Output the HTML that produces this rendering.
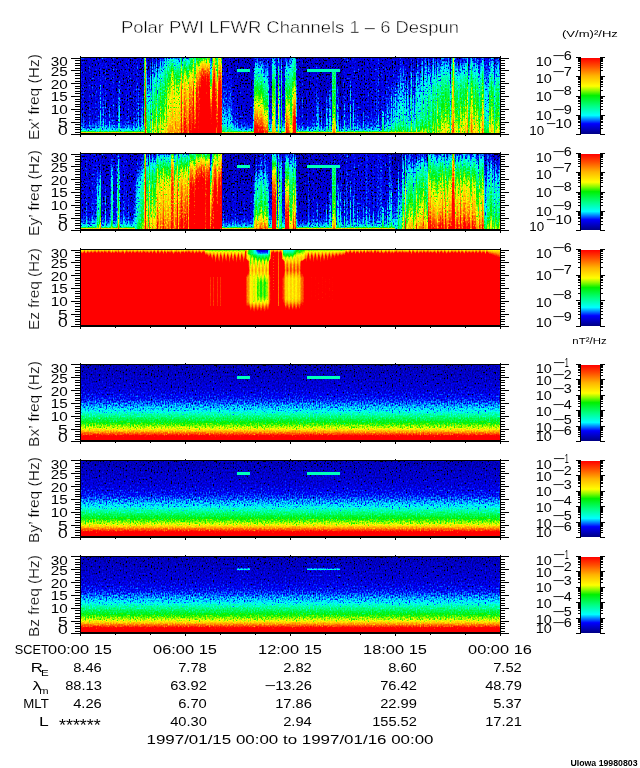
<!DOCTYPE html>
<html><head><meta charset="utf-8"><title>Polar PWI LFWR Channels 1 - 6 Despun</title>
<style>
html,body{margin:0;padding:0;background:#fff}
#pg{position:relative;width:640px;height:768px;overflow:hidden;background:#fff;font-family:"Liberation Sans",sans-serif}
.pn{position:absolute;display:flex;filter:url(#cm);overflow:hidden}
.pn.q{filter:url(#cq)}
.pn.b{filter:url(#cf)}
.pn i{display:block;flex:none;width:1px;height:100%}
#ov{position:absolute;left:0;top:0}
#ov text{font-family:"Liberation Sans",sans-serif;fill:#000}
#ov rect{shape-rendering:crispEdges}
</style></head><body><div id="pg">
<svg width="0" height="0" style="position:absolute"><defs>
<filter id="cm" x="0" y="0" width="1" height="1" color-interpolation-filters="sRGB">
<feColorMatrix in="SourceGraphic" type="matrix" values="0.941176 0.0588235 0 0 0 0.941176 0.0588235 0 0 0 0.941176 0.0588235 0 0 0 0 0 0 0 1" result="g"/>
<feTurbulence type="fractalNoise" baseFrequency="0.71 0.55" numOctaves="1" seed="5" result="n"/>
<feColorMatrix in="n" type="matrix" values="1 0 0 0 0 1 0 0 0 0 1 0 0 0 0 0 0 0 0 1"/>
<feComponentTransfer result="n1"><feFuncR type="table" tableValues="0.297 0.298 0.299 0.299 0.300 0.300 0.301 0.302 0.302 0.303 0.303 0.304 0.305 0.305 0.306 0.307 0.309 0.311 0.323 0.425 0.444 0.463 0.472 0.481 0.491 0.500 0.506 0.512 0.518 0.524 0.530 0.537 0.545 0.552 0.560 0.568 0.583 0.598 0.614 0.632 0.650 0.656 0.662 0.668 0.674 0.680 0.686 0.692 0.698 0.704 0.710"/><feFuncG type="table" tableValues="0.297 0.298 0.299 0.299 0.300 0.300 0.301 0.302 0.302 0.303 0.303 0.304 0.305 0.305 0.306 0.307 0.309 0.311 0.323 0.425 0.444 0.463 0.472 0.481 0.491 0.500 0.506 0.512 0.518 0.524 0.530 0.537 0.545 0.552 0.560 0.568 0.583 0.598 0.614 0.632 0.650 0.656 0.662 0.668 0.674 0.680 0.686 0.692 0.698 0.704 0.710"/><feFuncB type="table" tableValues="0.297 0.298 0.299 0.299 0.300 0.300 0.301 0.302 0.302 0.303 0.303 0.304 0.305 0.305 0.306 0.307 0.309 0.311 0.323 0.425 0.444 0.463 0.472 0.481 0.491 0.500 0.506 0.512 0.518 0.524 0.530 0.537 0.545 0.552 0.560 0.568 0.583 0.598 0.614 0.632 0.650 0.656 0.662 0.668 0.674 0.680 0.686 0.692 0.698 0.704 0.710"/></feComponentTransfer>
<feComposite in="g" in2="n1" operator="arithmetic" k1="0" k2="1" k3="0.4000" k4="-0.2000" result="s"/>
<feComponentTransfer in="s"><feFuncR type="table" tableValues="0 0 0 0 0 0 0 0 0 0 0 0 0 0 0 0 0 0 0 0 0 0 0 0 0 0 0 0 0 0 0 0 0 0 0 0 0 0 0 0 0 0 0 0 0 0 0 0 0 0 0 0 0 0 0 0 0 0 0 0 0 0 0 0 0 0 0 0 0 0 0 0 0 0 0 0 0 0 0 0 0 0 0 0 0 0 0 0 0 0 0 0 0 0 0 0 0 0 0 0 0 0 0 0 0 0 0 0 0 0.0164 0.0751 0.134 0.192 0.251 0.31 0.368 0.427 0.486 0.544 0.597 0.649 0.701 0.754 0.806 0.858 0.91 0.962 1 1 1 1 1 1 1 1 1 1 1 1 1 1 1 1 1 1 1 1 1 1 1 1 1 1 1 1 1 1 1 1 1 1 1 1 1 1 1 1 1 1 1 1 1 1 1 1 1 1 1 1 1 1 1 1 1 1 1 1 1 1 1 1 1 1 1 1 1 1 1 1 1 1 1 1 1 1 1 1 1 1 1 1 1 1 1 1 1 1 1 1 1 1 1 1 1 1 1 1 1 1 1 1 1 1 1 1 1 1 1 1 1 1"/><feFuncG type="table" tableValues="0 0 0 0 0 0 0 0 0 0 0 0 0 0 0 0 0 0 0 0 0 0 0 0 0 0 0 0 0 0 0 0 0 0 0 0 0 0 0 0 0 0 0 0 0 0 0 0 0 0 0 0 0 0 0 0 0.0352 0.098 0.161 0.224 0.287 0.349 0.412 0.475 0.538 0.601 0.664 0.728 0.792 0.855 0.919 0.982 1 1 1 1 1 1 1 1 1 1 1 1 1 1 1 1 1 1 0.998 0.995 0.992 0.989 0.986 0.983 0.98 0.977 0.974 0.971 0.968 0.965 0.962 0.958 0.955 0.952 0.949 0.946 0.943 0.942 0.947 0.951 0.955 0.959 0.963 0.967 0.972 0.976 0.98 0.982 0.985 0.987 0.989 0.992 0.994 0.996 0.998 0.996 0.981 0.966 0.951 0.936 0.921 0.906 0.891 0.876 0.861 0.846 0.831 0.816 0.801 0.786 0.771 0.756 0.74 0.725 0.71 0.691 0.669 0.647 0.625 0.603 0.581 0.559 0.537 0.515 0.493 0.471 0.449 0.427 0.405 0.383 0.361 0.339 0.317 0.297 0.277 0.257 0.238 0.218 0.198 0.178 0.158 0.139 0.119 0.099 0.0792 0.0594 0.0396 0.0198 0 0 0 0 0 0 0 0 0 0 0 0 0 0 0 0 0 0 0 0 0 0 0 0 0 0 0 0 0 0 0 0 0 0 0 0 0 0 0 0 0 0 0 0 0 0 0 0 0 0 0 0 0 0 0 0 0 0 0 0 0"/><feFuncB type="table" tableValues="0 0 0 0 0 0 0 0 0 0 0 0 0 0 0 0 0 0 0 0 0 0 0 0 0 0 0 0 0 0 0 0 0 0 0 0.514 0.514 0.539 0.564 0.589 0.614 0.639 0.664 0.689 0.714 0.739 0.764 0.789 0.814 0.839 0.864 0.889 0.914 0.939 0.964 0.989 1 1 1 1 1 1 1 1 1 1 1 1 1 1 1 1 0.98 0.953 0.926 0.899 0.871 0.844 0.817 0.79 0.763 0.735 0.708 0.681 0.654 0.626 0.599 0.572 0.545 0.517 0.491 0.465 0.438 0.412 0.386 0.36 0.334 0.307 0.281 0.255 0.229 0.202 0.176 0.15 0.124 0.0976 0.0713 0.0451 0.0189 0 0 0 0 0 0 0 0 0 0 0 0 0 0 0 0 0 0 0 0 0 0 0 0 0 0 0 0 0 0 0 0 0 0 0 0 0 0 0 0 0 0 0 0 0 0 0 0 0 0 0 0 0 0 0 0 0 0 0 0 0 0 0 0 0 0 0 0 0 0 0 0 0 0 0 0 0 0 0 0 0 0 0 0 0 0 0 0 0 0 0 0 0 0 0 0 0 0 0 0 0 0 0 0 0 0 0 0 0 0 0 0 0 0 0 0 0 0 0 0 0 0 0 0 0 0 0 0 0 0 0 0"/></feComponentTransfer>
</filter>
<filter id="cf" x="0" y="0" width="1" height="1" color-interpolation-filters="sRGB">
<feColorMatrix in="SourceGraphic" type="matrix" values="0.941176 0.0588235 0 0 0 0.941176 0.0588235 0 0 0 0.941176 0.0588235 0 0 0 0 0 0 0 1" result="g"/>
<feTurbulence type="fractalNoise" baseFrequency="0.71 0.55" numOctaves="1" seed="8" result="n"/>
<feColorMatrix in="n" type="matrix" values="1 0 0 0 0 1 0 0 0 0 1 0 0 0 0 0 0 0 0 1"/>
<feComponentTransfer result="n1"><feFuncR type="table" tableValues="0.000 0.000 0.000 0.000 0.000 0.000 0.000 0.000 0.015 0.045 0.075 0.115 0.155 0.195 0.235 0.275 0.310 0.345 0.374 0.397 0.420 0.437 0.454 0.470 0.485 0.500 0.513 0.526 0.539 0.552 0.565 0.577 0.589 0.601 0.613 0.625 0.635 0.645 0.655 0.665 0.675 0.685 0.695 0.703 0.710 0.717 0.723 0.730 0.737 0.743 0.750"/><feFuncG type="table" tableValues="0.000 0.000 0.000 0.000 0.000 0.000 0.000 0.000 0.015 0.045 0.075 0.115 0.155 0.195 0.235 0.275 0.310 0.345 0.374 0.397 0.420 0.437 0.454 0.470 0.485 0.500 0.513 0.526 0.539 0.552 0.565 0.577 0.589 0.601 0.613 0.625 0.635 0.645 0.655 0.665 0.675 0.685 0.695 0.703 0.710 0.717 0.723 0.730 0.737 0.743 0.750"/><feFuncB type="table" tableValues="0.000 0.000 0.000 0.000 0.000 0.000 0.000 0.000 0.015 0.045 0.075 0.115 0.155 0.195 0.235 0.275 0.310 0.345 0.374 0.397 0.420 0.437 0.454 0.470 0.485 0.500 0.513 0.526 0.539 0.552 0.565 0.577 0.589 0.601 0.613 0.625 0.635 0.645 0.655 0.665 0.675 0.685 0.695 0.703 0.710 0.717 0.723 0.730 0.737 0.743 0.750"/></feComponentTransfer>
<feComposite in="g" in2="n1" operator="arithmetic" k1="0" k2="1" k3="0.2400" k4="-0.1200" result="s"/>
<feComponentTransfer in="s"><feFuncR type="table" tableValues="0 0 0 0 0 0 0 0 0 0 0 0 0 0 0 0 0 0 0 0 0 0 0 0 0 0 0 0 0 0 0 0 0 0 0 0 0 0 0 0 0 0 0 0 0 0 0 0 0 0 0 0 0 0 0 0 0 0 0 0 0 0 0 0 0 0 0 0 0 0 0 0 0 0 0 0 0 0 0 0 0 0 0 0 0 0 0 0 0 0 0 0 0 0 0 0 0 0 0 0 0 0 0 0 0 0 0 0 0 0.0164 0.0751 0.134 0.192 0.251 0.31 0.368 0.427 0.486 0.544 0.597 0.649 0.701 0.754 0.806 0.858 0.91 0.962 1 1 1 1 1 1 1 1 1 1 1 1 1 1 1 1 1 1 1 1 1 1 1 1 1 1 1 1 1 1 1 1 1 1 1 1 1 1 1 1 1 1 1 1 1 1 1 1 1 1 1 1 1 1 1 1 1 1 1 1 1 1 1 1 1 1 1 1 1 1 1 1 1 1 1 1 1 1 1 1 1 1 1 1 1 1 1 1 1 1 1 1 1 1 1 1 1 1 1 1 1 1 1 1 1 1 1 1 1 1 1 1 1 1"/><feFuncG type="table" tableValues="0 0 0 0 0 0 0 0 0 0 0 0 0 0 0 0 0 0 0 0 0 0 0 0 0 0 0 0 0 0 0 0 0 0 0 0 0 0 0 0 0 0 0 0 0 0 0 0 0 0 0 0 0 0 0 0 0.0352 0.098 0.161 0.224 0.287 0.349 0.412 0.475 0.538 0.601 0.664 0.728 0.792 0.855 0.919 0.982 1 1 1 1 1 1 1 1 1 1 1 1 1 1 1 1 1 1 0.998 0.995 0.992 0.989 0.986 0.983 0.98 0.977 0.974 0.971 0.968 0.965 0.962 0.958 0.955 0.952 0.949 0.946 0.943 0.942 0.947 0.951 0.955 0.959 0.963 0.967 0.972 0.976 0.98 0.982 0.985 0.987 0.989 0.992 0.994 0.996 0.998 0.996 0.981 0.966 0.951 0.936 0.921 0.906 0.891 0.876 0.861 0.846 0.831 0.816 0.801 0.786 0.771 0.756 0.74 0.725 0.71 0.691 0.669 0.647 0.625 0.603 0.581 0.559 0.537 0.515 0.493 0.471 0.449 0.427 0.405 0.383 0.361 0.339 0.317 0.297 0.277 0.257 0.238 0.218 0.198 0.178 0.158 0.139 0.119 0.099 0.0792 0.0594 0.0396 0.0198 0 0 0 0 0 0 0 0 0 0 0 0 0 0 0 0 0 0 0 0 0 0 0 0 0 0 0 0 0 0 0 0 0 0 0 0 0 0 0 0 0 0 0 0 0 0 0 0 0 0 0 0 0 0 0 0 0 0 0 0 0"/><feFuncB type="table" tableValues="0 0 0 0 0 0 0 0 0 0 0 0 0 0 0 0 0 0 0 0 0 0 0 0 0 0 0 0 0 0 0 0 0 0 0 0.514 0.514 0.539 0.564 0.589 0.614 0.639 0.664 0.689 0.714 0.739 0.764 0.789 0.814 0.839 0.864 0.889 0.914 0.939 0.964 0.989 1 1 1 1 1 1 1 1 1 1 1 1 1 1 1 1 0.98 0.953 0.926 0.899 0.871 0.844 0.817 0.79 0.763 0.735 0.708 0.681 0.654 0.626 0.599 0.572 0.545 0.517 0.491 0.465 0.438 0.412 0.386 0.36 0.334 0.307 0.281 0.255 0.229 0.202 0.176 0.15 0.124 0.0976 0.0713 0.0451 0.0189 0 0 0 0 0 0 0 0 0 0 0 0 0 0 0 0 0 0 0 0 0 0 0 0 0 0 0 0 0 0 0 0 0 0 0 0 0 0 0 0 0 0 0 0 0 0 0 0 0 0 0 0 0 0 0 0 0 0 0 0 0 0 0 0 0 0 0 0 0 0 0 0 0 0 0 0 0 0 0 0 0 0 0 0 0 0 0 0 0 0 0 0 0 0 0 0 0 0 0 0 0 0 0 0 0 0 0 0 0 0 0 0 0 0 0 0 0 0 0 0 0 0 0 0 0 0 0 0 0 0 0 0"/></feComponentTransfer>
</filter>
<filter id="cq" x="0" y="0" width="1" height="1" color-interpolation-filters="sRGB">
<feColorMatrix in="SourceGraphic" type="matrix" values="0.941176 0.0588235 0 0 0 0.941176 0.0588235 0 0 0 0.941176 0.0588235 0 0 0 0 0 0 0 1" result="g"/>
<feTurbulence type="fractalNoise" baseFrequency="0.71 0.55" numOctaves="1" seed="9" result="n"/>
<feColorMatrix in="n" type="matrix" values="1 0 0 0 0 1 0 0 0 0 1 0 0 0 0 0 0 0 0 1"/>
<feComponentTransfer result="n1"><feFuncR type="table" tableValues="0.000 0.000 0.000 0.000 0.000 0.000 0.000 0.000 0.015 0.045 0.075 0.115 0.155 0.195 0.235 0.275 0.310 0.345 0.374 0.397 0.420 0.437 0.454 0.470 0.485 0.500 0.513 0.526 0.539 0.552 0.565 0.577 0.589 0.601 0.613 0.625 0.635 0.645 0.655 0.665 0.675 0.685 0.695 0.703 0.710 0.717 0.723 0.730 0.737 0.743 0.750"/><feFuncG type="table" tableValues="0.000 0.000 0.000 0.000 0.000 0.000 0.000 0.000 0.015 0.045 0.075 0.115 0.155 0.195 0.235 0.275 0.310 0.345 0.374 0.397 0.420 0.437 0.454 0.470 0.485 0.500 0.513 0.526 0.539 0.552 0.565 0.577 0.589 0.601 0.613 0.625 0.635 0.645 0.655 0.665 0.675 0.685 0.695 0.703 0.710 0.717 0.723 0.730 0.737 0.743 0.750"/><feFuncB type="table" tableValues="0.000 0.000 0.000 0.000 0.000 0.000 0.000 0.000 0.015 0.045 0.075 0.115 0.155 0.195 0.235 0.275 0.310 0.345 0.374 0.397 0.420 0.437 0.454 0.470 0.485 0.500 0.513 0.526 0.539 0.552 0.565 0.577 0.589 0.601 0.613 0.625 0.635 0.645 0.655 0.665 0.675 0.685 0.695 0.703 0.710 0.717 0.723 0.730 0.737 0.743 0.750"/></feComponentTransfer>
<feComposite in="g" in2="n1" operator="arithmetic" k1="0" k2="1" k3="0.0720" k4="-0.0360" result="s"/>
<feComponentTransfer in="s"><feFuncR type="table" tableValues="0 0 0 0 0 0 0 0 0 0 0 0 0 0 0 0 0 0 0 0 0 0 0 0 0 0 0 0 0 0 0 0 0 0 0 0 0 0 0 0 0 0 0 0 0 0 0 0 0 0 0 0 0 0 0 0 0 0 0 0 0 0 0 0 0 0 0 0 0 0 0 0 0 0 0 0 0 0 0 0 0 0 0 0 0 0 0 0 0 0 0 0 0 0 0 0 0 0 0 0 0 0 0 0 0 0 0 0 0 0.0164 0.0751 0.134 0.192 0.251 0.31 0.368 0.427 0.486 0.544 0.597 0.649 0.701 0.754 0.806 0.858 0.91 0.962 1 1 1 1 1 1 1 1 1 1 1 1 1 1 1 1 1 1 1 1 1 1 1 1 1 1 1 1 1 1 1 1 1 1 1 1 1 1 1 1 1 1 1 1 1 1 1 1 1 1 1 1 1 1 1 1 1 1 1 1 1 1 1 1 1 1 1 1 1 1 1 1 1 1 1 1 1 1 1 1 1 1 1 1 1 1 1 1 1 1 1 1 1 1 1 1 1 1 1 1 1 1 1 1 1 1 1 1 1 1 1 1 1 1"/><feFuncG type="table" tableValues="0 0 0 0 0 0 0 0 0 0 0 0 0 0 0 0 0 0 0 0 0 0 0 0 0 0 0 0 0 0 0 0 0 0 0 0 0 0 0 0 0 0 0 0 0 0 0 0 0 0 0 0 0 0 0 0 0.0352 0.098 0.161 0.224 0.287 0.349 0.412 0.475 0.538 0.601 0.664 0.728 0.792 0.855 0.919 0.982 1 1 1 1 1 1 1 1 1 1 1 1 1 1 1 1 1 1 0.998 0.995 0.992 0.989 0.986 0.983 0.98 0.977 0.974 0.971 0.968 0.965 0.962 0.958 0.955 0.952 0.949 0.946 0.943 0.942 0.947 0.951 0.955 0.959 0.963 0.967 0.972 0.976 0.98 0.982 0.985 0.987 0.989 0.992 0.994 0.996 0.998 0.996 0.981 0.966 0.951 0.936 0.921 0.906 0.891 0.876 0.861 0.846 0.831 0.816 0.801 0.786 0.771 0.756 0.74 0.725 0.71 0.691 0.669 0.647 0.625 0.603 0.581 0.559 0.537 0.515 0.493 0.471 0.449 0.427 0.405 0.383 0.361 0.339 0.317 0.297 0.277 0.257 0.238 0.218 0.198 0.178 0.158 0.139 0.119 0.099 0.0792 0.0594 0.0396 0.0198 0 0 0 0 0 0 0 0 0 0 0 0 0 0 0 0 0 0 0 0 0 0 0 0 0 0 0 0 0 0 0 0 0 0 0 0 0 0 0 0 0 0 0 0 0 0 0 0 0 0 0 0 0 0 0 0 0 0 0 0 0"/><feFuncB type="table" tableValues="0 0 0 0 0 0 0 0 0 0 0 0 0 0 0 0 0 0 0 0 0 0 0 0 0 0 0 0 0 0 0 0 0 0 0 0.514 0.514 0.539 0.564 0.589 0.614 0.639 0.664 0.689 0.714 0.739 0.764 0.789 0.814 0.839 0.864 0.889 0.914 0.939 0.964 0.989 1 1 1 1 1 1 1 1 1 1 1 1 1 1 1 1 0.98 0.953 0.926 0.899 0.871 0.844 0.817 0.79 0.763 0.735 0.708 0.681 0.654 0.626 0.599 0.572 0.545 0.517 0.491 0.465 0.438 0.412 0.386 0.36 0.334 0.307 0.281 0.255 0.229 0.202 0.176 0.15 0.124 0.0976 0.0713 0.0451 0.0189 0 0 0 0 0 0 0 0 0 0 0 0 0 0 0 0 0 0 0 0 0 0 0 0 0 0 0 0 0 0 0 0 0 0 0 0 0 0 0 0 0 0 0 0 0 0 0 0 0 0 0 0 0 0 0 0 0 0 0 0 0 0 0 0 0 0 0 0 0 0 0 0 0 0 0 0 0 0 0 0 0 0 0 0 0 0 0 0 0 0 0 0 0 0 0 0 0 0 0 0 0 0 0 0 0 0 0 0 0 0 0 0 0 0 0 0 0 0 0 0 0 0 0 0 0 0 0 0 0 0 0 0"/></feComponentTransfer>
</filter>
</defs></svg>
<div class="pn" style="left:81px;top:58px;width:419px;height:76px"><i style="background:linear-gradient(#370 0.5px,#3a0 54.5px,#3b0 60.5px,#3f0 65.5px,#470 69.5px,#510 72.5px,#6b0 73.5px,#940 74.5px,#940 75.5px)"></i><i style="background:linear-gradient(#350 0.5px,#370 54.5px,#380 60.5px,#3c0 65.5px,#430 69.5px,#4e0 72.5px,#6b0 73.5px,#940 74.5px,#940 75.5px)"></i><i style="background:linear-gradient(#390 0.5px,#3d0 54.5px,#3e0 60.5px,#420 65.5px,#4a0 69.5px,#550 72.5px,#6b0 73.5px,#940 74.5px,#940 75.5px)"></i><i style="background:linear-gradient(#340 0.5px,#350 54.5px,#360 60.5px,#3a0 65.5px,#410 69.5px,#4c0 72.5px,#6b0 73.5px,#940 74.5px,#940 75.5px)"></i><i style="background:linear-gradient(#320 0.5px,#320 55.5px,#340 61.5px,#390 66.5px,#3f0 69.5px,#490 72.5px,#6b0 73.5px,#940 74.5px,#940 75.5px)"></i><i style="background:linear-gradient(#320 0.5px,#320 55.5px,#340 61.5px,#390 66.5px,#3e0 69.5px,#490 72.5px,#6b0 73.5px,#940 74.5px,#940 75.5px)"></i><i style="width:2px;background:linear-gradient(#330 0.5px,#340 54.5px,#350 60.5px,#390 65.5px,#400 69.5px,#4b0 72.5px,#6b0 73.5px,#940 74.5px,#940 75.5px)"></i><i style="background:linear-gradient(#390 0.5px,#3c0 54.5px,#3d0 60.5px,#420 65.5px,#490 69.5px,#540 72.5px,#6b0 73.5px,#940 74.5px,#940 75.5px)"></i><i style="background:linear-gradient(#360 0.5px,#380 54.5px,#390 60.5px,#3d0 65.5px,#440 69.5px,#4f0 72.5px,#6b0 73.5px,#940 74.5px,#940 75.5px)"></i><i style="background:linear-gradient(#330 0.5px,#340 54.5px,#350 60.5px,#390 65.5px,#400 69.5px,#4b0 72.5px,#6b0 73.5px,#940 74.5px,#940 75.5px)"></i><i style="background:linear-gradient(#370 0.5px,#3a0 54.5px,#3b0 60.5px,#3f0 65.5px,#470 69.5px,#520 72.5px,#6b0 73.5px,#940 74.5px,#940 75.5px)"></i><i style="background:linear-gradient(#350 0.5px,#360 54.5px,#380 60.5px,#3c0 65.5px,#430 69.5px,#4e0 72.5px,#6b0 73.5px,#940 74.5px,#940 75.5px)"></i><i style="background:linear-gradient(#330 0.5px,#340 54.5px,#350 60.5px,#390 65.5px,#400 69.5px,#4b0 72.5px,#6b0 73.5px,#940 74.5px,#940 75.5px)"></i><i style="background:linear-gradient(#370 0.5px,#390 54.5px,#3a0 60.5px,#3f0 65.5px,#460 69.5px,#510 72.5px,#6b0 73.5px,#940 74.5px,#940 75.5px)"></i><i style="background:linear-gradient(#370 0.5px,#3a0 54.5px,#3b0 60.5px,#3f0 65.5px,#460 69.5px,#510 72.5px,#6b0 73.5px,#940 74.5px,#940 75.5px)"></i><i style="background:linear-gradient(#350 0.5px,#370 54.5px,#380 60.5px,#3c0 65.5px,#430 69.5px,#4e0 72.5px,#6b0 73.5px,#940 74.5px,#940 75.5px)"></i><i style="background:linear-gradient(#380 0.5px,#3b0 54.5px,#3c0 60.5px,#410 65.5px,#480 69.5px,#530 72.5px,#6b0 73.5px,#940 74.5px,#940 75.5px)"></i><i style="background:linear-gradient(#360 0.5px,#390 54.5px,#3a0 60.5px,#3e0 65.5px,#450 69.5px,#500 72.5px,#6b0 73.5px,#940 74.5px,#940 75.5px)"></i><i style="background:linear-gradient(#390 0.5px,#3a0 26.5px,#420 27.5px,#420 28.5px,#4c0 58.5px,#510 64.5px,#5b0 69.5px,#6c0 73.5px,#940 74.5px,#940 75.5px)"></i><i style="background:linear-gradient(#370 0.5px,#3a0 54.5px,#3b0 60.5px,#3f0 65.5px,#470 69.5px,#510 72.5px,#6b0 73.5px,#940 74.5px,#940 75.5px)"></i><i style="background:linear-gradient(#390 0.5px,#3c0 54.5px,#3d0 60.5px,#420 65.5px,#490 69.5px,#540 72.5px,#6b0 73.5px,#940 74.5px,#940 75.5px)"></i><i style="background:linear-gradient(#360 0.5px,#380 37.5px,#3e0 38.5px,#3e0 39.5px,#470 60.5px,#4b0 64.5px,#540 69.5px,#5f0 72.5px,#6b0 73.5px,#940 74.5px,#940 75.5px)"></i><i style="background:linear-gradient(#340 0.5px,#350 54.5px,#360 60.5px,#3a0 65.5px,#410 69.5px,#4c0 72.5px,#6b0 73.5px,#940 74.5px,#940 75.5px)"></i><i style="background:linear-gradient(#3a0 0.5px,#3e0 54.5px,#3f0 60.5px,#430 65.5px,#4b0 69.5px,#560 72.5px,#6b0 73.5px,#940 74.5px,#940 75.5px)"></i><i style="background:linear-gradient(#350 0.5px,#370 54.5px,#380 60.5px,#3d0 65.5px,#440 69.5px,#4f0 72.5px,#6b0 73.5px,#940 74.5px,#940 75.5px)"></i><i style="background:linear-gradient(#350 0.5px,#370 54.5px,#380 60.5px,#3c0 65.5px,#440 69.5px,#4e0 72.5px,#6b0 73.5px,#940 74.5px,#940 75.5px)"></i><i style="background:linear-gradient(#340 0.5px,#360 54.5px,#370 60.5px,#3b0 65.5px,#420 69.5px,#4d0 72.5px,#6b0 73.5px,#940 74.5px,#940 75.5px)"></i><i style="background:linear-gradient(#350 0.5px,#360 45.5px,#3b0 46.5px,#450 64.5px,#4e0 69.5px,#5a0 72.5px,#6b0 73.5px,#940 74.5px,#940 75.5px)"></i><i style="width:2px;background:linear-gradient(#360 0.5px,#380 54.5px,#390 60.5px,#3e0 65.5px,#450 69.5px,#500 72.5px,#6b0 73.5px,#940 74.5px,#940 75.5px)"></i><i style="background:linear-gradient(#370 0.5px,#390 54.5px,#3b0 60.5px,#3f0 65.5px,#460 69.5px,#510 72.5px,#6b0 73.5px,#940 74.5px,#940 75.5px)"></i><i style="background:linear-gradient(#390 0.5px,#3d0 54.5px,#3e0 60.5px,#430 65.5px,#4a0 69.5px,#550 72.5px,#6b0 73.5px,#940 74.5px,#940 75.5px)"></i><i style="background:linear-gradient(#360 0.5px,#380 54.5px,#390 60.5px,#3e0 65.5px,#450 69.5px,#500 72.5px,#6b0 73.5px,#940 74.5px,#940 75.5px)"></i><i style="background:linear-gradient(#330 0.5px,#340 54.5px,#350 60.5px,#3a0 65.5px,#410 69.5px,#4c0 72.5px,#6b0 73.5px,#940 74.5px,#940 75.5px)"></i><i style="background:linear-gradient(#330 0.5px,#340 54.5px,#350 60.5px,#390 65.5px,#400 69.5px,#4b0 72.5px,#6b0 73.5px,#940 74.5px,#940 75.5px)"></i><i style="background:linear-gradient(#340 0.5px,#350 54.5px,#360 60.5px,#3a0 65.5px,#410 69.5px,#4c0 72.5px,#6b0 73.5px,#940 74.5px,#940 75.5px)"></i><i style="background:linear-gradient(#320 0.5px,#320 22.5px,#3b0 23.5px,#3b0 24.5px,#460 59.5px,#4b0 65.5px,#530 69.5px,#5e0 72.5px,#6b0 73.5px,#940 74.5px,#940 75.5px)"></i><i style="background:linear-gradient(#360 0.5px,#370 22.5px,#400 23.5px,#400 24.5px,#4c0 58.5px,#510 64.5px,#5a0 69.5px,#610 71.5px,#6b0 73.5px,#940 74.5px,#940 75.5px)"></i><i style="width:2px;background:linear-gradient(#350 0.5px,#370 54.5px,#380 60.5px,#3c0 65.5px,#430 69.5px,#4e0 72.5px,#6b0 73.5px,#940 74.5px,#940 75.5px)"></i><i style="background:linear-gradient(#350 0.5px,#370 54.5px,#380 60.5px,#3d0 65.5px,#440 69.5px,#4f0 72.5px,#6b0 73.5px,#940 74.5px,#940 75.5px)"></i><i style="background:linear-gradient(#330 0.5px,#340 54.5px,#350 60.5px,#390 65.5px,#400 69.5px,#4b0 72.5px,#6b0 73.5px,#940 74.5px,#940 75.5px)"></i><i style="background:linear-gradient(#340 0.5px,#350 54.5px,#360 60.5px,#3a0 65.5px,#410 69.5px,#4c0 72.5px,#6b0 73.5px,#940 74.5px,#940 75.5px)"></i><i style="background:linear-gradient(#360 0.5px,#390 54.5px,#3a0 60.5px,#3e0 65.5px,#460 69.5px,#500 72.5px,#6b0 73.5px,#940 74.5px,#940 75.5px)"></i><i style="background:linear-gradient(#370 0.5px,#390 54.5px,#3b0 60.5px,#3f0 65.5px,#460 69.5px,#510 72.5px,#6b0 73.5px,#940 74.5px,#940 75.5px)"></i><i style="background:linear-gradient(#350 0.5px,#370 54.5px,#380 60.5px,#3c0 65.5px,#430 69.5px,#4e0 72.5px,#6b0 73.5px,#940 74.5px,#940 75.5px)"></i><i style="background:linear-gradient(#390 0.5px,#3c0 54.5px,#3e0 60.5px,#420 65.5px,#490 69.5px,#540 72.5px,#6b0 73.5px,#940 74.5px,#940 75.5px)"></i><i style="background:linear-gradient(#340 0.5px,#350 54.5px,#360 60.5px,#3a0 65.5px,#410 69.5px,#4c0 72.5px,#6b0 73.5px,#940 74.5px,#940 75.5px)"></i><i style="background:linear-gradient(#350 0.5px,#360 54.5px,#370 60.5px,#3c0 65.5px,#430 69.5px,#4d0 72.5px,#6b0 73.5px,#940 74.5px,#940 75.5px)"></i><i style="background:linear-gradient(#350 0.5px,#370 54.5px,#380 60.5px,#3c0 65.5px,#430 69.5px,#4e0 72.5px,#6b0 73.5px,#940 74.5px,#940 75.5px)"></i><i style="background:linear-gradient(#300 0.5px,#300 55.5px,#310 61.5px,#360 66.5px,#3c0 69.5px,#470 72.5px,#6b0 73.5px,#940 74.5px,#940 75.5px)"></i><i style="background:linear-gradient(#380 0.5px,#3b0 54.5px,#3c0 60.5px,#410 65.5px,#480 69.5px,#530 72.5px,#6b0 73.5px,#940 74.5px,#940 75.5px)"></i><i style="background:linear-gradient(#370 0.5px,#390 54.5px,#3a0 60.5px,#3f0 65.5px,#460 69.5px,#510 72.5px,#6b0 73.5px,#940 74.5px,#940 75.5px)"></i><i style="background:linear-gradient(#340 0.5px,#350 54.5px,#360 60.5px,#3a0 65.5px,#420 69.5px,#4c0 72.5px,#6b0 73.5px,#940 74.5px,#940 75.5px)"></i><i style="background:linear-gradient(#390 0.5px,#3d0 54.5px,#3e0 60.5px,#420 65.5px,#4a0 69.5px,#550 72.5px,#6b0 73.5px,#940 74.5px,#940 75.5px)"></i><i style="background:linear-gradient(#370 0.5px,#3a0 54.5px,#3b0 60.5px,#400 65.5px,#470 69.5px,#520 72.5px,#6b0 73.5px,#940 74.5px,#940 75.5px)"></i><i style="background:linear-gradient(#370 0.5px,#380 29.5px,#3d0 30.5px,#3e0 31.5px,#470 59.5px,#4b0 64.5px,#540 69.5px,#600 72.5px,#6b0 73.5px,#940 74.5px,#940 75.5px)"></i><i style="background:linear-gradient(#350 0.5px,#360 54.5px,#370 60.5px,#3c0 65.5px,#430 69.5px,#4e0 72.5px,#6b0 73.5px,#940 74.5px,#940 75.5px)"></i><i style="background:linear-gradient(#360 0.5px,#380 54.5px,#390 60.5px,#3d0 65.5px,#440 69.5px,#4f0 72.5px,#6b0 73.5px,#940 74.5px,#940 75.5px)"></i><i style="background:linear-gradient(#330 0.5px,#330 37.5px,#390 38.5px,#3a0 39.5px,#410 60.5px,#460 65.5px,#4e0 69.5px,#590 72.5px,#6b0 73.5px,#940 74.5px,#940 75.5px)"></i><i style="background:linear-gradient(#360 0.5px,#380 37.5px,#3e0 38.5px,#3f0 39.5px,#470 60.5px,#4b0 64.5px,#540 69.5px,#5f0 72.5px,#6b0 73.5px,#940 74.5px,#940 75.5px)"></i><i style="background:linear-gradient(#350 0.5px,#370 54.5px,#380 60.5px,#3c0 65.5px,#430 69.5px,#4e0 72.5px,#6b0 73.5px,#940 74.5px,#940 75.5px)"></i><i style="background:linear-gradient(#600 0.5px,#730 30.5px,#7b0 75.5px)"></i><i style="background:linear-gradient(#8a0 0.5px,#a10 15.5px,#b00 30.5px,#b80 45.5px,#b80 75.5px)"></i><i style="background:linear-gradient(#3f0 0.5px,#470 15.5px,#540 30.5px,#730 60.5px,#860 75.5px)"></i><i style="background:linear-gradient(#310 0.5px,#380 15.5px,#440 29.5px,#600 60.5px,#710 75.5px)"></i><i style="background:linear-gradient(#2f0 0.5px,#370 15.5px,#5f0 60.5px,#700 75.5px)"></i><i style="background:linear-gradient(#2b0 0.5px,#340 15.5px,#4f0 45.5px,#5a0 60.5px,#6b0 75.5px)"></i><i style="background:linear-gradient(#390 0.5px,#440 15.5px,#640 45.5px,#710 60.5px,#830 75.5px)"></i><i style="background:linear-gradient(#250 0.5px,#2f0 15.5px,#4a0 45.5px,#540 60.5px,#640 75.5px)"></i><i style="background:linear-gradient(#3e0 0.5px,#4c0 15.5px,#6f0 45.5px,#7d0 60.5px,#900 75.5px)"></i><i style="background:linear-gradient(#310 0.5px,#5f0 45.5px,#6b0 60.5px,#7d0 75.5px)"></i><i style="background:linear-gradient(#370 0.5px,#5a0 30.5px,#750 60.5px,#870 75.5px)"></i><i style="background:linear-gradient(#340 0.5px,#580 30.5px,#730 60.5px,#850 75.5px)"></i><i style="background:linear-gradient(#400 0.5px,#690 30.5px,#870 60.5px,#9b0 75.5px)"></i><i style="background:linear-gradient(#2a0 0.5px,#4e0 30.5px,#660 60.5px,#760 75.5px)"></i><i style="background:linear-gradient(#340 0.5px,#5b0 30.5px,#730 60.5px,#840 75.5px)"></i><i style="background:linear-gradient(#370 0.5px,#5e0 30.5px,#760 60.5px,#870 75.5px)"></i><i style="background:linear-gradient(#440 0.5px,#6f0 30.5px,#880 60.5px,#9b0 75.5px)"></i><i style="background:linear-gradient(#380 0.5px,#600 30.5px,#740 60.5px,#850 75.5px)"></i><i style="background:linear-gradient(#3e0 0.5px,#670 30.5px,#7b0 60.5px,#8d0 75.5px)"></i><i style="background:linear-gradient(#3c0 0.5px,#520 15.5px,#640 30.5px,#760 60.5px,#870 75.5px)"></i><i style="background:linear-gradient(#440 0.5px,#5b0 15.5px,#6d0 30.5px,#800 60.5px,#910 75.5px)"></i><i style="background:linear-gradient(#4a0 0.5px,#630 15.5px,#750 30.5px,#880 60.5px,#9b0 75.5px)"></i><i style="background:linear-gradient(#3f0 0.5px,#570 15.5px,#680 30.5px,#780 60.5px,#890 75.5px)"></i><i style="background:linear-gradient(#4e0 0.5px,#680 15.5px,#7b0 30.5px,#8f0 60.5px,#a20 75.5px)"></i><i style="background:linear-gradient(#4f0 0.5px,#6a0 15.5px,#7d0 30.5px,#910 60.5px,#a40 75.5px)"></i><i style="background:linear-gradient(#4d0 0.5px,#680 15.5px,#7b0 30.5px,#8e0 60.5px,#a10 75.5px)"></i><i style="background:linear-gradient(#500 0.5px,#6c0 15.5px,#7f0 30.5px,#930 60.5px,#a60 75.5px)"></i><i style="background:linear-gradient(#500 0.5px,#7c0 15.5px,#8b0 30.5px,#950 60.5px,#a00 75.5px)"></i><i style="background:linear-gradient(#540 0.5px,#840 15.5px,#920 30.5px,#9b0 60.5px,#a50 75.5px)"></i><i style="background:linear-gradient(#4c0 0.5px,#780 15.5px,#880 30.5px,#910 60.5px,#9c0 75.5px)"></i><i style="background:linear-gradient(#430 0.5px,#640 15.5px,#7c0 30.5px,#900 60.5px,#a30 75.5px)"></i><i style="background:linear-gradient(#4a0 0.5px,#6d0 15.5px,#860 30.5px,#9c0 60.5px,#af0 75.5px)"></i><i style="background:linear-gradient(#430 0.5px,#660 15.5px,#7e0 30.5px,#920 60.5px,#a30 75.5px)"></i><i style="background:linear-gradient(#440 0.5px,#680 15.5px,#810 30.5px,#950 60.5px,#a60 75.5px)"></i><i style="background:linear-gradient(#430 0.5px,#670 15.5px,#800 30.5px,#940 60.5px,#a40 75.5px)"></i><i style="background:linear-gradient(#420 0.5px,#670 15.5px,#800 30.5px,#940 60.5px,#a20 75.5px)"></i><i style="background:linear-gradient(#4a0 0.5px,#720 15.5px,#8d0 30.5px,#9f0 60.5px,#ab0 75.5px)"></i><i style="background:linear-gradient(#640 0.5px,#900 15.5px,#ae0 30.5px,#bf0 64.5px,#cf0 75.5px)"></i><i style="background:linear-gradient(#410 0.5px,#6a0 15.5px,#840 30.5px,#970 60.5px,#a50 75.5px)"></i><i style="background:linear-gradient(#4a0 0.5px,#740 15.5px,#900 30.5px,#a50 60.5px,#b40 75.5px)"></i><i style="background:linear-gradient(#570 0.5px,#830 15.5px,#a00 30.5px,#bf0 65.5px,#df0 75.5px)"></i><i style="background:linear-gradient(#530 0.5px,#7f0 15.5px,#9c0 30.5px,#b40 60.5px,#bf0 70.5px,#ce0 75.5px)"></i><i style="background:linear-gradient(#4c0 0.5px,#780 15.5px,#930 30.5px,#aa0 60.5px,#b90 75.5px)"></i><i style="background:linear-gradient(#460 0.5px,#710 15.5px,#8c0 30.5px,#a20 60.5px,#b00 75.5px)"></i><i style="background:linear-gradient(#460 0.5px,#720 15.5px,#8d0 30.5px,#a30 60.5px,#b10 75.5px)"></i><i style="background:linear-gradient(#590 0.5px,#870 15.5px,#a30 29.5px,#c00 60.5px,#eb0 73.5px,#f20 75.5px)"></i><i style="background:linear-gradient(#5d0 0.5px,#820 15.5px,#a10 30.5px,#bf0 69.5px,#cf0 75.5px)"></i><i style="background:linear-gradient(#630 0.5px,#7e0 15.5px,#9f0 30.5px,#aa0 45.5px,#bb0 75.5px)"></i><i style="background:linear-gradient(#680 0.5px,#830 15.5px,#a40 30.5px,#b10 45.5px,#bf0 69.5px,#ca0 75.5px)"></i><i style="background:linear-gradient(#770 0.5px,#940 15.5px,#b70 30.5px,#c00 39.5px,#d10 45.5px,#ec0 59.5px,#ff0 75.5px)"></i><i style="background:linear-gradient(#590 0.5px,#780 15.5px,#8a0 30.5px,#940 45.5px,#bf0 71.5px,#d10 75.5px)"></i><i style="background:linear-gradient(#5a0 0.5px,#790 15.5px,#8c0 30.5px,#970 46.5px,#c00 70.5px,#d70 75.5px)"></i><i style="background:linear-gradient(#700 0.5px,#9d0 15.5px,#b60 29.5px,#c00 40.5px,#cc0 45.5px,#e40 60.5px,#ed0 68.5px,#f40 75.5px)"></i><i style="background:linear-gradient(#6b0 0.5px,#9c0 15.5px,#b50 30.5px,#bf0 45.5px,#d20 60.5px,#dc0 75.5px)"></i><i style="background:linear-gradient(#640 0.5px,#9a0 15.5px,#b00 30.5px,#b90 46.5px,#be0 75.5px)"></i><i style="background:linear-gradient(#690 0.5px,#a40 15.5px,#b90 29.5px,#bf0 40.5px,#c60 45.5px,#d20 60.5px,#d50 75.5px)"></i><i style="background:linear-gradient(#6b0 0.5px,#ab0 15.5px,#bf0 29.5px,#c30 30.5px,#d70 46.5px,#e00 60.5px,#e00 75.5px)"></i><i style="background:linear-gradient(#720 0.5px,#b10 14.5px,#b50 15.5px,#bf0 22.5px,#e00 30.5px,#ee0 40.5px,#ff0 75.5px)"></i><i style="background:linear-gradient(#750 0.5px,#b40 14.5px,#c00 20.5px,#ec0 30.5px,#ff0 75.5px)"></i><i style="background:linear-gradient(#780 0.5px,#b60 14.5px,#c00 19.5px,#ed0 29.5px,#ff0 75.5px)"></i><i style="background:linear-gradient(#740 0.5px,#b10 14.5px,#bf0 22.5px,#e20 30.5px,#ed0 38.5px,#ff0 75.5px)"></i><i style="background:linear-gradient(#780 0.5px,#b50 14.5px,#c20 20.5px,#eb0 29.5px,#ef0 30.5px,#ff0 75.5px)"></i><i style="background:linear-gradient(#6e0 0.5px,#ac0 15.5px,#bf0 28.5px,#c50 30.5px,#d90 45.5px,#d90 75.5px)"></i><i style="background:linear-gradient(#7b0 0.5px,#b60 14.5px,#c10 19.5px,#eb0 28.5px,#f00 29.5px,#ff0 75.5px)"></i><i style="background:linear-gradient(#790 0.5px,#b30 14.5px,#c10 21.5px,#ea0 30.5px,#ec0 31.5px,#ff0 75.5px)"></i><i style="background:linear-gradient(#740 0.5px,#af0 15.5px,#be0 25.5px,#d20 30.5px,#e80 45.5px,#e80 75.5px)"></i><i style="background:linear-gradient(#3d0 0.5px,#590 15.5px,#860 30.5px,#ad0 45.5px,#bf0 57.5px,#d10 61.5px,#ed0 70.5px,#fc0 75.5px)"></i><i style="background:linear-gradient(#3a0 0.5px,#550 15.5px,#820 30.5px,#a80 45.5px,#bf0 60.5px,#ec0 75.5px)"></i><i style="background:linear-gradient(#6b0 0.5px,#b10 30.5px,#be0 38.5px,#c10 39.5px,#de0 45.5px,#ec0 51.5px,#ff0 75.5px)"></i><i style="background:linear-gradient(#880 0.5px,#af0 15.5px,#bf0 23.5px,#e60 30.5px,#ed0 32.5px,#ff0 75.5px)"></i><i style="background:linear-gradient(#8e0 0.5px,#b30 14.5px,#c10 20.5px,#ea0 27.5px,#f00 28.5px,#ff0 75.5px)"></i><i style="background:linear-gradient(#750 0.5px,#9a0 15.5px,#b40 30.5px,#bf0 41.5px,#c90 45.5px,#d00 60.5px,#cd0 75.5px)"></i><i style="background:linear-gradient(#6c0 0.5px,#8e0 15.5px,#a60 30.5px,#b50 45.5px,#ba0 60.5px,#bb0 75.5px)"></i><i style="background:linear-gradient(#5e0 0.5px,#b60 60.5px,#c00 70.5px,#ce0 75.5px)"></i><i style="background:linear-gradient(#7e0 0.5px,#a10 15.5px,#ba0 30.5px,#c10 36.5px,#da0 45.5px,#e50 60.5px,#ed0 75.5px)"></i><i style="background:linear-gradient(#8a0 0.5px,#b00 15.5px,#be0 23.5px,#c10 24.5px,#e10 30.5px,#ee0 35.5px,#ff0 75.5px)"></i><i style="background:linear-gradient(#870 0.5px,#ad0 15.5px,#be0 25.5px,#d60 30.5px,#ed0 39.5px,#ff0 75.5px)"></i><i style="background:linear-gradient(#750 0.5px,#990 15.5px,#b10 30.5px,#bb0 45.5px,#b70 75.5px)"></i><i style="background:linear-gradient(#330 0.5px,#390 30.5px,#3f0 45.5px,#4d0 64.5px,#570 69.5px,#620 72.5px,#6b0 73.5px,#940 74.5px,#940 75.5px)"></i><i style="background:linear-gradient(#350 0.5px,#410 45.5px,#4f0 63.5px,#570 68.5px,#640 72.5px,#6b0 73.5px,#940 74.5px,#940 75.5px)"></i><i style="background:linear-gradient(#340 0.5px,#3f0 45.5px,#4d0 64.5px,#570 69.5px,#620 72.5px,#6b0 73.5px,#940 74.5px,#940 75.5px)"></i><i style="background:linear-gradient(#330 0.5px,#3f0 45.5px,#4c0 64.5px,#560 69.5px,#600 72.5px,#6b0 73.5px,#940 74.5px,#940 75.5px)"></i><i style="background:linear-gradient(#330 0.5px,#3e0 45.5px,#4b0 64.5px,#550 69.5px,#600 72.5px,#6b0 73.5px,#940 74.5px,#940 75.5px)"></i><i style="background:linear-gradient(#310 0.5px,#3b0 45.5px,#480 64.5px,#510 69.5px,#5c0 72.5px,#6b0 73.5px,#940 74.5px,#940 75.5px)"></i><i style="background:linear-gradient(#340 0.5px,#3f0 45.5px,#4a0 63.5px,#520 68.5px,#5f0 72.5px,#6b0 73.5px,#940 74.5px,#940 75.5px)"></i><i style="background:linear-gradient(#360 0.5px,#410 45.5px,#4c0 63.5px,#540 68.5px,#620 72.5px,#6b0 73.5px,#940 74.5px,#940 75.5px)"></i><i style="background:linear-gradient(#350 0.5px,#3f0 45.5px,#4a0 63.5px,#520 68.5px,#5f0 72.5px,#6b0 73.5px,#940 74.5px,#940 75.5px)"></i><i style="background:linear-gradient(#350 0.5px,#3f0 45.5px,#490 63.5px,#510 68.5px,#5f0 72.5px,#6b0 73.5px,#940 74.5px,#940 75.5px)"></i><i style="background:linear-gradient(#310 0.5px,#390 45.5px,#400 60.5px,#440 64.5px,#4d0 69.5px,#580 72.5px,#6b0 73.5px,#940 74.5px,#940 75.5px)"></i><i style="background:linear-gradient(#310 0.5px,#370 45.5px,#3d0 60.5px,#420 65.5px,#4a0 69.5px,#540 72.5px,#6b0 73.5px,#940 74.5px,#940 75.5px)"></i><i style="background:linear-gradient(#2f0 0.5px,#340 45.5px,#390 60.5px,#3e0 65.5px,#450 69.5px,#500 72.5px,#6b0 73.5px,#940 74.5px,#940 75.5px)"></i><i style="background:linear-gradient(#340 0.5px,#390 45.5px,#3e0 60.5px,#430 65.5px,#4a0 69.5px,#550 72.5px,#6b0 73.5px,#940 74.5px,#940 75.5px)"></i><i style="background:linear-gradient(#320 0.5px,#360 48.5px,#390 60.5px,#3e0 65.5px,#450 69.5px,#4f0 72.5px,#6b0 73.5px,#940 74.5px,#940 75.5px)"></i><i style="background:linear-gradient(#340 0.5px,#390 52.5px,#3b0 60.5px,#400 65.5px,#470 69.5px,#510 72.5px,#6b0 73.5px,#940 74.5px,#940 75.5px)"></i><i style="background:linear-gradient(#310 0.5px,#340 55.5px,#360 61.5px,#3b0 66.5px,#400 69.5px,#4a0 72.5px,#6b0 73.5px,#940 74.5px,#940 75.5px)"></i><i style="background:linear-gradient(#310 0.5px,#340 55.5px,#350 61.5px,#3a0 66.5px,#400 69.5px,#4a0 72.5px,#6b0 73.5px,#940 74.5px,#940 75.5px)"></i><i style="background:linear-gradient(#320 0.5px,#350 55.5px,#370 61.5px,#3c0 66.5px,#410 69.5px,#4b0 72.5px,#6b0 73.5px,#940 74.5px,#940 75.5px)"></i><i style="background:linear-gradient(#330 0.5px,#370 53.5px,#390 60.5px,#3d0 65.5px,#440 69.5px,#4e0 72.5px,#6b0 73.5px,#940 74.5px,#940 75.5px)"></i><i style="width:2px;background:linear-gradient(#320 0.5px,#360 55.5px,#380 61.5px,#3d0 66.5px,#420 69.5px,#4c0 72.5px,#6b0 73.5px,#940 74.5px,#940 75.5px)"></i><i style="background:linear-gradient(#320 0.5px,#350 55.5px,#370 61.5px,#3c0 66.5px,#420 69.5px,#4c0 72.5px,#6b0 73.5px,#940 74.5px,#940 75.5px)"></i><i style="background:linear-gradient(#320 0.5px,#360 55.5px,#370 61.5px,#3d0 66.5px,#420 69.5px,#4c0 72.5px,#6b0 73.5px,#940 74.5px,#940 75.5px)"></i><i style="background:linear-gradient(#300 0.5px,#320 55.5px,#340 61.5px,#390 66.5px,#3e0 69.5px,#480 72.5px,#6b0 73.5px,#940 74.5px,#940 75.5px)"></i><i style="background:linear-gradient(#320 0.5px,#350 55.5px,#370 61.5px,#3c0 66.5px,#410 69.5px,#4b0 72.5px,#6b0 73.5px,#940 74.5px,#940 75.5px)"></i><i style="background:linear-gradient(#310 0.5px,#350 55.5px,#360 61.5px,#3b0 66.5px,#410 69.5px,#4b0 72.5px,#6b0 73.5px,#940 74.5px,#940 75.5px)"></i><i style="background:linear-gradient(#320 0.5px,#350 55.5px,#370 61.5px,#3c0 66.5px,#410 69.5px,#4b0 72.5px,#6b0 73.5px,#940 74.5px,#940 75.5px)"></i><i style="background:linear-gradient(#330 0.5px,#370 55.5px,#380 61.5px,#3d0 66.5px,#430 69.5px,#4d0 72.5px,#6b0 73.5px,#940 74.5px,#940 75.5px)"></i><i style="background:linear-gradient(#310 0.5px,#340 55.5px,#350 61.5px,#3a0 66.5px,#400 69.5px,#4a0 72.5px,#6b0 73.5px,#940 74.5px,#940 75.5px)"></i><i style="background:linear-gradient(#310 0.5px,#350 55.5px,#360 61.5px,#3b0 66.5px,#410 69.5px,#4b0 72.5px,#6b0 73.5px,#940 74.5px,#940 75.5px)"></i><i style="background:linear-gradient(#330 0.5px,#410 45.5px,#4e0 64.5px,#570 69.5px,#610 72.5px,#6b0 73.5px,#940 74.5px,#940 75.5px)"></i><i style="background:linear-gradient(#380 0.5px,#800 45.5px,#a50 60.5px,#bf0 73.5px,#cb0 75.5px)"></i><i style="background:linear-gradient(#3e0 0.5px,#880 45.5px,#ad0 60.5px,#be0 68.5px,#c20 69.5px,#e80 75.5px)"></i><i style="background:linear-gradient(#3b0 0.5px,#6e0 30.5px,#850 45.5px,#bf0 70.5px,#dd0 75.5px)"></i><i style="background:linear-gradient(#3e0 0.5px,#720 30.5px,#880 45.5px,#be0 68.5px,#c20 69.5px,#ea0 75.5px)"></i><i style="background:linear-gradient(#390 0.5px,#6c0 30.5px,#810 45.5px,#bf0 72.5px,#d10 75.5px)"></i><i style="background:linear-gradient(#380 0.5px,#6b0 30.5px,#800 45.5px,#bd0 72.5px,#c00 73.5px,#cd0 75.5px)"></i><i style="background:linear-gradient(#3a0 0.5px,#6d0 30.5px,#830 45.5px,#be0 71.5px,#c20 72.5px,#d70 75.5px)"></i><i style="background:linear-gradient(#3c0 0.5px,#700 30.5px,#850 45.5px,#be0 70.5px,#df0 75.5px)"></i><i style="background:linear-gradient(#3a0 0.5px,#500 15.5px,#6c0 30.5px,#800 45.5px,#be0 72.5px,#d20 75.5px)"></i><i style="background:linear-gradient(#380 0.5px,#4a0 15.5px,#650 30.5px,#780 45.5px,#990 60.5px,#bf0 75.5px)"></i><i style="background:linear-gradient(#330 0.5px,#410 15.5px,#5b0 30.5px,#6c0 45.5px,#8c0 60.5px,#b40 75.5px)"></i><i style="background:linear-gradient(#370 0.5px,#460 15.5px,#5f0 30.5px,#700 45.5px,#8f0 60.5px,#b90 75.5px)"></i><i style="background:linear-gradient(#370 0.5px,#450 15.5px,#5c0 30.5px,#6d0 45.5px,#8a0 60.5px,#b50 75.5px)"></i><i style="background:linear-gradient(#3c0 0.5px,#4a0 15.5px,#610 30.5px,#710 45.5px,#8e0 60.5px,#bb0 75.5px)"></i><i style="background:linear-gradient(#360 0.5px,#500 45.5px,#5f0 60.5px,#6e0 67.5px,#7d0 72.5px,#810 73.5px,#940 74.5px,#940 75.5px)"></i><i style="width:3px;background:linear-gradient(#360 0.5px,#390 45.5px,#3c0 60.5px,#420 65.5px,#4e0 72.5px,#6b0 73.5px,#940 74.5px,#940 75.5px)"></i><i style="width:3px;background:linear-gradient(#460 0.5px,#730 30.5px,#850 60.5px,#a00 75.5px)"></i><i style="background:linear-gradient(#3f0 0.5px,#5b0 30.5px,#680 60.5px,#740 67.5px,#800 72.5px,#830 73.5px,#940 74.5px,#940 75.5px)"></i><i style="width:2px;background:linear-gradient(#360 0.5px,#390 45.5px,#3c0 60.5px,#420 65.5px,#4e0 72.5px,#6b0 73.5px,#940 74.5px,#940 75.5px)"></i><i style="background:linear-gradient(#460 0.5px,#640 15.5px,#7a0 30.5px,#820 45.5px,#820 60.5px,#910 75.5px)"></i><i style="background:linear-gradient(#3a0 0.5px,#490 30.5px,#4d0 60.5px,#5c0 75.5px)"></i><i style="background:linear-gradient(#360 0.5px,#3c0 60.5px,#4a0 75.5px)"></i><i style="background:linear-gradient(#3e0 0.5px,#540 15.5px,#640 30.5px,#6b0 45.5px,#6b0 60.5px,#720 75.5px)"></i><i style="width:3px;background:linear-gradient(#360 0.5px,#390 45.5px,#3c0 60.5px,#420 65.5px,#4e0 72.5px,#6b0 73.5px,#940 74.5px,#940 75.5px)"></i><i style="background:linear-gradient(#3f0 0.5px,#500 15.5px,#6e0 45.5px,#860 60.5px,#9b0 75.5px)"></i><i style="background:linear-gradient(#3c0 0.5px,#570 15.5px,#850 45.5px,#a90 60.5px,#bf0 73.5px,#c80 75.5px)"></i><i style="background:linear-gradient(#380 0.5px,#530 15.5px,#800 45.5px,#a10 60.5px,#bc0 75.5px)"></i><i style="background:linear-gradient(#360 0.5px,#500 15.5px,#7d0 45.5px,#b80 75.5px)"></i><i style="background:linear-gradient(#3d0 0.5px,#560 15.5px,#6a0 29.5px,#8f0 60.5px,#aa0 75.5px)"></i><i style="background:linear-gradient(#410 0.5px,#570 15.5px,#690 30.5px,#7b0 60.5px,#920 75.5px)"></i><i style="background:linear-gradient(#420 0.5px,#580 15.5px,#670 29.5px,#780 60.5px,#8e0 75.5px)"></i><i style="background:linear-gradient(#490 0.5px,#770 30.5px,#ae0 75.5px)"></i><i style="background:linear-gradient(#4b0 0.5px,#7e0 30.5px,#b90 60.5px,#bf0 67.5px,#d20 75.5px)"></i><i style="background:linear-gradient(#540 0.5px,#6b0 15.5px,#860 30.5px,#bf0 58.5px,#cf0 61.5px,#ed0 73.5px,#f20 75.5px)"></i><i style="background:linear-gradient(#520 0.5px,#650 15.5px,#7e0 29.5px,#bc0 60.5px,#c00 64.5px,#da0 75.5px)"></i><i style="background:linear-gradient(#380 0.5px,#460 45.5px,#520 65.5px,#580 69.5px,#610 72.5px,#6b0 73.5px,#940 74.5px,#940 75.5px)"></i><i style="background:linear-gradient(#310 0.5px,#340 55.5px,#350 60.5px,#3a0 66.5px,#3f0 69.5px,#480 72.5px,#6b0 73.5px,#940 74.5px,#940 75.5px)"></i><i style="background:linear-gradient(#330 0.5px,#360 55.5px,#370 60.5px,#3d0 66.5px,#420 69.5px,#4b0 72.5px,#6b0 73.5px,#940 74.5px,#940 75.5px)"></i><i style="background:linear-gradient(#340 0.5px,#380 55.5px,#390 60.5px,#3f0 66.5px,#440 69.5px,#4d0 72.5px,#6b0 73.5px,#940 74.5px,#940 75.5px)"></i><i style="background:linear-gradient(#300 0.5px,#330 55.5px,#340 60.5px,#390 66.5px,#3e0 69.5px,#470 72.5px,#6b0 73.5px,#940 74.5px,#940 75.5px)"></i><i style="background:linear-gradient(#330 0.5px,#370 55.5px,#380 60.5px,#3d0 66.5px,#420 69.5px,#4b0 72.5px,#6b0 73.5px,#940 74.5px,#940 75.5px)"></i><i style="background:linear-gradient(#370 0.5px,#3c0 55.5px,#3e0 60.5px,#430 66.5px,#480 69.5px,#510 72.5px,#6b0 73.5px,#940 74.5px,#940 75.5px)"></i><i style="width:2px;background:linear-gradient(#2f0 0.5px,#320 55.5px,#330 60.5px,#380 66.5px,#3d0 69.5px,#460 72.5px,#6b0 73.5px,#940 74.5px,#940 75.5px)"></i><i style="background:linear-gradient(#2f0 0.5px,#320 55.5px,#320 60.5px,#380 66.5px,#3d0 69.5px,#450 72.5px,#940 74.5px,#940 75.5px)"></i><i style="background:linear-gradient(#310 0.5px,#340 55.5px,#350 60.5px,#3a0 66.5px,#3f0 69.5px,#480 72.5px,#6b0 73.5px,#940 74.5px,#940 75.5px)"></i><i style="background:linear-gradient(#350 0.5px,#3a0 55.5px,#3b0 60.5px,#410 66.5px,#460 69.5px,#4f0 72.5px,#6b0 73.5px,#940 74.5px,#940 75.5px)"></i><i style="background:linear-gradient(#320 0.5px,#360 55.5px,#370 60.5px,#3d0 66.5px,#420 69.5px,#4b0 72.5px,#6b0 73.5px,#940 74.5px,#940 75.5px)"></i><i style="background:linear-gradient(#300 0.5px,#330 55.5px,#340 60.5px,#390 66.5px,#3e0 69.5px,#470 72.5px,#6b0 73.5px,#940 74.5px,#940 75.5px)"></i><i style="background:linear-gradient(#330 0.5px,#370 55.5px,#380 60.5px,#3d0 66.5px,#420 69.5px,#4b0 72.5px,#6b0 73.5px,#940 74.5px,#940 75.5px)"></i><i style="background:linear-gradient(#310 0.5px,#340 55.5px,#340 60.5px,#3a0 66.5px,#3f0 69.5px,#480 72.5px,#6b0 73.5px,#940 74.5px,#940 75.5px)"></i><i style="background:linear-gradient(#340 0.5px,#390 55.5px,#3a0 60.5px,#3f0 66.5px,#440 69.5px,#4d0 72.5px,#6b0 73.5px,#940 74.5px,#940 75.5px)"></i><i style="background:linear-gradient(#330 0.5px,#370 55.5px,#380 60.5px,#3d0 66.5px,#420 69.5px,#4b0 72.5px,#6b0 73.5px,#940 74.5px,#940 75.5px)"></i><i style="background:linear-gradient(#350 0.5px,#3a0 55.5px,#3b0 60.5px,#410 66.5px,#460 69.5px,#4f0 72.5px,#6b0 73.5px,#940 74.5px,#940 75.5px)"></i><i style="background:linear-gradient(#310 0.5px,#340 55.5px,#350 60.5px,#3a0 66.5px,#3f0 69.5px,#480 72.5px,#6b0 73.5px,#940 74.5px,#940 75.5px)"></i><i style="background:linear-gradient(#380 0.5px,#3f0 53.5px,#400 60.5px,#450 65.5px,#4b0 69.5px,#540 72.5px,#6b0 73.5px,#940 74.5px,#940 75.5px)"></i><i style="background:linear-gradient(#350 0.5px,#380 37.5px,#3e0 38.5px,#3f0 39.5px,#480 60.5px,#4d0 65.5px,#540 69.5px,#5d0 72.5px,#6b0 73.5px,#940 74.5px,#940 75.5px)"></i><i style="background:linear-gradient(#340 0.5px,#360 37.5px,#3d0 38.5px,#3d0 39.5px,#460 60.5px,#4b0 65.5px,#520 69.5px,#5c0 72.5px,#6b0 73.5px,#940 74.5px,#940 75.5px)"></i><i style="background:linear-gradient(#320 0.5px,#360 55.5px,#370 60.5px,#3c0 66.5px,#410 69.5px,#4a0 72.5px,#6b0 73.5px,#940 74.5px,#940 75.5px)"></i><i style="background:linear-gradient(#300 0.5px,#330 55.5px,#340 60.5px,#390 66.5px,#3e0 69.5px,#470 72.5px,#6b0 73.5px,#940 74.5px,#940 75.5px)"></i><i style="background:linear-gradient(#2f0 0.5px,#300 33.5px,#380 34.5px,#380 35.5px,#420 60.5px,#470 65.5px,#4e0 69.5px,#580 72.5px,#6b0 73.5px,#940 74.5px,#940 75.5px)"></i><i style="background:linear-gradient(#310 0.5px,#340 55.5px,#350 60.5px,#3a0 66.5px,#3f0 69.5px,#480 72.5px,#6b0 73.5px,#940 74.5px,#940 75.5px)"></i><i style="background:linear-gradient(#300 0.5px,#320 55.5px,#330 60.5px,#380 66.5px,#3d0 69.5px,#460 72.5px,#6b0 73.5px,#940 74.5px,#940 75.5px)"></i><i style="background:linear-gradient(#320 0.5px,#360 55.5px,#370 60.5px,#3c0 66.5px,#410 69.5px,#4a0 72.5px,#6b0 73.5px,#940 74.5px,#940 75.5px)"></i><i style="background:linear-gradient(#300 0.5px,#330 55.5px,#330 60.5px,#390 66.5px,#3e0 69.5px,#470 72.5px,#6b0 73.5px,#940 74.5px,#940 75.5px)"></i><i style="background:linear-gradient(#330 0.5px,#350 37.5px,#3c0 38.5px,#3d0 39.5px,#470 60.5px,#4c0 65.5px,#530 69.5px,#5d0 72.5px,#6b0 73.5px,#940 74.5px,#940 75.5px)"></i><i style="background:linear-gradient(#340 0.5px,#370 37.5px,#3e0 38.5px,#3f0 39.5px,#490 60.5px,#4e0 65.5px,#550 69.5px,#5f0 72.5px,#6b0 73.5px,#940 74.5px,#940 75.5px)"></i><i style="background:linear-gradient(#310 0.5px,#340 55.5px,#350 60.5px,#3a0 66.5px,#3f0 69.5px,#480 72.5px,#6b0 73.5px,#940 74.5px,#940 75.5px)"></i><i style="background:linear-gradient(#340 0.5px,#360 29.5px,#3e0 30.5px,#400 32.5px,#4c0 60.5px,#520 65.5px,#590 69.5px,#620 72.5px,#6b0 73.5px,#940 74.5px,#940 75.5px)"></i><i style="background:linear-gradient(#320 0.5px,#330 29.5px,#3b0 30.5px,#3d0 32.5px,#490 60.5px,#4e0 65.5px,#550 69.5px,#5e0 72.5px,#6b0 73.5px,#940 74.5px,#940 75.5px)"></i><i style="background:linear-gradient(#340 0.5px,#390 55.5px,#3a0 60.5px,#400 66.5px,#450 69.5px,#4e0 72.5px,#6b0 73.5px,#940 74.5px,#940 75.5px)"></i><i style="background:linear-gradient(#330 0.5px,#340 12.5px,#5d0 13.5px,#650 40.5px,#740 60.5px,#880 70.5px,#9b0 75.5px)"></i><i style="background:linear-gradient(#350 0.5px,#350 12.5px,#670 13.5px,#700 40.5px,#820 60.5px,#990 70.5px,#b00 75.5px)"></i><i style="background:linear-gradient(#300 0.5px,#300 12.5px,#670 13.5px,#700 40.5px,#820 60.5px,#990 70.5px,#b00 75.5px)"></i><i style="background:linear-gradient(#310 0.5px,#320 12.5px,#5d0 13.5px,#650 40.5px,#740 60.5px,#880 70.5px,#9b0 75.5px)"></i><i style="background:linear-gradient(#350 0.5px,#3a0 55.5px,#3b0 60.5px,#410 66.5px,#460 69.5px,#4f0 72.5px,#6b0 73.5px,#940 74.5px,#940 75.5px)"></i><i style="background:linear-gradient(#320 0.5px,#330 26.5px,#3c0 27.5px,#3d0 28.5px,#4a0 60.5px,#4f0 65.5px,#560 69.5px,#5f0 72.5px,#6b0 73.5px,#940 74.5px,#940 75.5px)"></i><i style="background:linear-gradient(#2e0 0.5px,#2e0 26.5px,#380 27.5px,#380 28.5px,#440 60.5px,#4a0 66.5px,#4f0 69.5px,#590 72.5px,#6b0 73.5px,#940 74.5px,#940 75.5px)"></i><i style="background:linear-gradient(#2e0 0.5px,#2f0 56.5px,#300 61.5px,#350 67.5px,#420 72.5px,#940 74.5px,#940 75.5px)"></i><i style="background:linear-gradient(#2d0 0.5px,#2c0 37.5px,#320 38.5px,#330 39.5px,#3a0 60.5px,#400 66.5px,#450 69.5px,#4e0 72.5px,#6b0 73.5px,#940 74.5px,#940 75.5px)"></i><i style="background:linear-gradient(#2e0 0.5px,#2e0 56.5px,#2f0 61.5px,#340 67.5px,#410 72.5px,#940 74.5px,#940 75.5px)"></i><i style="background:linear-gradient(#320 0.5px,#340 55.5px,#350 60.5px,#3a0 66.5px,#3e0 69.5px,#470 72.5px,#6b0 73.5px,#940 74.5px,#940 75.5px)"></i><i style="background:linear-gradient(#370 0.5px,#3b0 55.5px,#410 66.5px,#460 69.5px,#4f0 72.5px,#6b0 73.5px,#940 74.5px,#940 75.5px)"></i><i style="background:linear-gradient(#350 0.5px,#360 37.5px,#3e0 38.5px,#3f0 39.5px,#490 60.5px,#4e0 65.5px,#550 69.5px,#5f0 72.5px,#6b0 73.5px,#940 74.5px,#940 75.5px)"></i><i style="background:linear-gradient(#360 0.5px,#390 55.5px,#3f0 66.5px,#430 69.5px,#4c0 72.5px,#6b0 73.5px,#940 74.5px,#940 75.5px)"></i><i style="background:linear-gradient(#350 0.5px,#370 55.5px,#3d0 66.5px,#420 69.5px,#4b0 72.5px,#6b0 73.5px,#940 74.5px,#940 75.5px)"></i><i style="background:linear-gradient(#360 0.5px,#380 55.5px,#3e0 66.5px,#420 69.5px,#4b0 72.5px,#6b0 73.5px,#940 74.5px,#940 75.5px)"></i><i style="background:linear-gradient(#350 0.5px,#370 55.5px,#3d0 66.5px,#420 69.5px,#4b0 72.5px,#6b0 73.5px,#940 74.5px,#940 75.5px)"></i><i style="background:linear-gradient(#350 0.5px,#370 55.5px,#3d0 66.5px,#420 69.5px,#4a0 72.5px,#6b0 73.5px,#940 74.5px,#940 75.5px)"></i><i style="background:linear-gradient(#370 0.5px,#370 22.5px,#410 23.5px,#430 25.5px,#4f0 60.5px,#540 65.5px,#5b0 69.5px,#650 72.5px,#6b0 73.5px,#940 74.5px,#940 75.5px)"></i><i style="background:linear-gradient(#330 0.5px,#340 55.5px,#3a0 66.5px,#3e0 69.5px,#470 72.5px,#6b0 73.5px,#940 74.5px,#940 75.5px)"></i><i style="background:linear-gradient(#370 0.5px,#3a0 55.5px,#400 66.5px,#450 69.5px,#4e0 72.5px,#6b0 73.5px,#940 74.5px,#940 75.5px)"></i><i style="background:linear-gradient(#380 0.5px,#3a0 41.5px,#420 42.5px,#4f0 64.5px,#570 69.5px,#610 72.5px,#6b0 73.5px,#940 74.5px,#940 75.5px)"></i><i style="background:linear-gradient(#360 0.5px,#380 55.5px,#3e0 66.5px,#420 69.5px,#4b0 72.5px,#6b0 73.5px,#940 74.5px,#940 75.5px)"></i><i style="background:linear-gradient(#370 0.5px,#3a0 55.5px,#400 66.5px,#450 69.5px,#4e0 72.5px,#6b0 73.5px,#940 74.5px,#940 75.5px)"></i><i style="background:linear-gradient(#340 0.5px,#360 55.5px,#3c0 66.5px,#400 69.5px,#490 72.5px,#6b0 73.5px,#940 74.5px,#940 75.5px)"></i><i style="background:linear-gradient(#340 0.5px,#350 45.5px,#3b0 46.5px,#420 60.5px,#470 65.5px,#4e0 69.5px,#570 72.5px,#6b0 73.5px,#940 74.5px,#940 75.5px)"></i><i style="background:linear-gradient(#360 0.5px,#380 55.5px,#3e0 66.5px,#430 69.5px,#4b0 72.5px,#6b0 73.5px,#940 74.5px,#940 75.5px)"></i><i style="background:linear-gradient(#350 0.5px,#370 55.5px,#3d0 66.5px,#420 69.5px,#4a0 72.5px,#6b0 73.5px,#940 74.5px,#940 75.5px)"></i><i style="background:linear-gradient(#340 0.5px,#360 55.5px,#3c0 66.5px,#410 69.5px,#490 72.5px,#6b0 73.5px,#940 74.5px,#940 75.5px)"></i><i style="background:linear-gradient(#340 0.5px,#350 55.5px,#3b0 66.5px,#400 69.5px,#480 72.5px,#6b0 73.5px,#940 74.5px,#940 75.5px)"></i><i style="background:linear-gradient(#340 0.5px,#350 55.5px,#3b0 66.5px,#400 69.5px,#490 72.5px,#6b0 73.5px,#940 74.5px,#940 75.5px)"></i><i style="background:linear-gradient(#370 0.5px,#3a0 52.5px,#400 53.5px,#470 61.5px,#4f0 67.5px,#5c0 72.5px,#6b0 73.5px,#940 74.5px,#940 75.5px)"></i><i style="background:linear-gradient(#320 0.5px,#320 56.5px,#330 61.5px,#380 67.5px,#450 72.5px,#940 74.5px,#940 75.5px)"></i><i style="background:linear-gradient(#360 0.5px,#380 55.5px,#3e0 66.5px,#420 69.5px,#4b0 72.5px,#6b0 73.5px,#940 74.5px,#940 75.5px)"></i><i style="background:linear-gradient(#350 0.5px,#370 55.5px,#3d0 66.5px,#420 69.5px,#4a0 72.5px,#6b0 73.5px,#940 74.5px,#940 75.5px)"></i><i style="width:2px;background:linear-gradient(#370 0.5px,#3a0 55.5px,#400 66.5px,#450 69.5px,#4e0 72.5px,#6b0 73.5px,#940 74.5px,#940 75.5px)"></i><i style="background:linear-gradient(#300 0.5px,#2f0 52.5px,#340 53.5px,#3d0 65.5px,#440 69.5px,#4d0 72.5px,#6b0 73.5px,#940 74.5px,#940 75.5px)"></i><i style="background:linear-gradient(#360 0.5px,#380 55.5px,#3e0 66.5px,#430 69.5px,#4b0 72.5px,#6b0 73.5px,#940 74.5px,#940 75.5px)"></i><i style="background:linear-gradient(#360 0.5px,#390 55.5px,#3f0 66.5px,#440 69.5px,#4c0 72.5px,#6b0 73.5px,#940 74.5px,#940 75.5px)"></i><i style="background:linear-gradient(#360 0.5px,#380 55.5px,#3e0 66.5px,#430 69.5px,#4c0 72.5px,#6b0 73.5px,#940 74.5px,#940 75.5px)"></i><i style="background:linear-gradient(#350 0.5px,#360 55.5px,#3c0 66.5px,#410 69.5px,#4a0 72.5px,#6b0 73.5px,#940 74.5px,#940 75.5px)"></i><i style="background:linear-gradient(#370 0.5px,#3a0 55.5px,#400 66.5px,#450 69.5px,#4e0 72.5px,#6b0 73.5px,#940 74.5px,#940 75.5px)"></i><i style="background:linear-gradient(#350 0.5px,#370 55.5px,#3d0 66.5px,#410 69.5px,#4a0 72.5px,#6b0 73.5px,#940 74.5px,#940 75.5px)"></i><i style="background:linear-gradient(#3a0 0.5px,#3e0 55.5px,#440 66.5px,#490 69.5px,#520 72.5px,#6b0 73.5px,#940 74.5px,#940 75.5px)"></i><i style="background:linear-gradient(#380 0.5px,#3b0 55.5px,#410 66.5px,#460 69.5px,#4f0 72.5px,#6b0 73.5px,#940 74.5px,#940 75.5px)"></i><i style="background:linear-gradient(#3b0 0.5px,#3f0 55.5px,#460 66.5px,#4b0 69.5px,#540 72.5px,#6b0 73.5px,#940 74.5px,#940 75.5px)"></i><i style="background:linear-gradient(#350 0.5px,#370 55.5px,#3c0 66.5px,#410 69.5px,#4a0 72.5px,#6b0 73.5px,#940 74.5px,#940 75.5px)"></i><i style="background:linear-gradient(#310 0.5px,#320 55.5px,#330 60.5px,#380 66.5px,#3d0 69.5px,#450 72.5px,#940 74.5px,#940 75.5px)"></i><i style="background:linear-gradient(#360 0.5px,#3a0 55.5px,#3b0 60.5px,#410 66.5px,#460 69.5px,#4f0 72.5px,#6b0 73.5px,#940 74.5px,#940 75.5px)"></i><i style="background:linear-gradient(#370 0.5px,#3d0 52.5px,#490 53.5px,#5b0 65.5px,#6b0 71.5px,#750 73.5px,#940 74.5px,#940 75.5px)"></i><i style="background:linear-gradient(#360 0.5px,#3b0 52.5px,#470 53.5px,#5a0 65.5px,#6a0 71.5px,#740 73.5px,#940 74.5px,#940 75.5px)"></i><i style="background:linear-gradient(#320 0.5px,#360 53.5px,#380 60.5px,#3d0 65.5px,#440 69.5px,#4d0 72.5px,#6b0 73.5px,#940 74.5px,#940 75.5px)"></i><i style="background:linear-gradient(#330 0.5px,#3a0 53.5px,#3c0 60.5px,#410 65.5px,#480 69.5px,#520 72.5px,#6b0 73.5px,#940 74.5px,#940 75.5px)"></i><i style="background:linear-gradient(#360 0.5px,#3e0 49.5px,#410 60.5px,#450 64.5px,#4e0 69.5px,#580 72.5px,#6b0 73.5px,#940 74.5px,#940 75.5px)"></i><i style="background:linear-gradient(#350 0.5px,#3c0 45.5px,#440 46.5px,#4f0 61.5px,#5b0 68.5px,#690 72.5px,#6e0 73.5px,#940 74.5px,#940 75.5px)"></i><i style="background:linear-gradient(#350 0.5px,#3c0 45.5px,#410 60.5px,#440 63.5px,#4c0 68.5px,#590 72.5px,#6b0 73.5px,#940 74.5px,#940 75.5px)"></i><i style="background:linear-gradient(#340 0.5px,#3d0 45.5px,#420 60.5px,#450 63.5px,#4d0 68.5px,#5a0 72.5px,#6b0 73.5px,#940 74.5px,#940 75.5px)"></i><i style="background:linear-gradient(#330 0.5px,#370 30.5px,#420 62.5px,#4c0 68.5px,#590 72.5px,#6b0 73.5px,#940 74.5px,#940 75.5px)"></i><i style="background:linear-gradient(#330 0.5px,#380 26.5px,#400 27.5px,#410 28.5px,#560 61.5px,#630 68.5px,#700 72.5px,#760 73.5px,#940 74.5px,#940 75.5px)"></i><i style="background:linear-gradient(#310 0.5px,#360 30.5px,#410 61.5px,#4d0 68.5px,#5a0 72.5px,#6b0 73.5px,#940 74.5px,#940 75.5px)"></i><i style="background:linear-gradient(#380 0.5px,#3f0 30.5px,#4d0 61.5px,#590 68.5px,#670 72.5px,#6c0 73.5px,#940 74.5px,#940 75.5px)"></i><i style="background:linear-gradient(#340 0.5px,#3b0 30.5px,#480 61.5px,#550 68.5px,#620 72.5px,#6b0 73.5px,#940 74.5px,#940 75.5px)"></i><i style="background:linear-gradient(#350 0.5px,#3d0 29.5px,#450 30.5px,#470 32.5px,#5c0 60.5px,#670 66.5px,#730 70.5px,#810 73.5px,#940 74.5px,#940 75.5px)"></i><i style="background:linear-gradient(#320 0.5px,#390 30.5px,#470 61.5px,#550 68.5px,#630 72.5px,#6b0 73.5px,#940 74.5px,#940 75.5px)"></i><i style="background:linear-gradient(#360 0.5px,#3e0 30.5px,#4d0 60.5px,#590 67.5px,#6a0 72.5px,#700 73.5px,#940 74.5px,#940 75.5px)"></i><i style="background:linear-gradient(#300 0.5px,#340 14.5px,#3b0 15.5px,#3c0 16.5px,#560 60.5px,#640 67.5px,#710 71.5px,#7b0 73.5px,#940 74.5px,#940 75.5px)"></i><i style="background:linear-gradient(#350 0.5px,#3f0 30.5px,#4f0 60.5px,#5c0 67.5px,#6d0 72.5px,#730 73.5px,#940 74.5px,#940 75.5px)"></i><i style="background:linear-gradient(#3d0 0.5px,#480 30.5px,#5a0 60.5px,#680 68.5px,#760 73.5px,#940 74.5px,#940 75.5px)"></i><i style="background:linear-gradient(#390 0.5px,#430 30.5px,#540 60.5px,#620 68.5px,#700 73.5px,#940 74.5px,#940 75.5px)"></i><i style="background:linear-gradient(#390 0.5px,#440 30.5px,#550 60.5px,#630 68.5px,#710 73.5px,#940 74.5px,#940 75.5px)"></i><i style="background:linear-gradient(#2e0 0.5px,#300 7.5px,#3c0 8.5px,#3f0 11.5px,#600 60.5px,#6e0 68.5px,#7c0 73.5px,#940 74.5px,#940 75.5px)"></i><i style="background:linear-gradient(#340 0.5px,#3e0 30.5px,#4e0 60.5px,#5a0 67.5px,#660 72.5px,#6b0 73.5px,#940 74.5px,#940 75.5px)"></i><i style="background:linear-gradient(#390 0.5px,#450 30.5px,#560 60.5px,#640 68.5px,#720 73.5px,#940 74.5px,#940 75.5px)"></i><i style="background:linear-gradient(#2f0 0.5px,#380 30.5px,#470 61.5px,#540 68.5px,#5e0 72.5px,#6b0 73.5px,#940 74.5px,#940 75.5px)"></i><i style="background:linear-gradient(#320 0.5px,#390 22.5px,#410 23.5px,#420 24.5px,#5b0 60.5px,#690 68.5px,#770 73.5px,#940 74.5px,#940 75.5px)"></i><i style="background:linear-gradient(#340 0.5px,#3f0 30.5px,#4f0 60.5px,#5f0 69.5px,#6b0 73.5px,#940 74.5px,#940 75.5px)"></i><i style="background:linear-gradient(#2b0 0.5px,#340 30.5px,#420 61.5px,#4e0 68.5px,#580 72.5px,#6b0 73.5px,#940 74.5px,#940 75.5px)"></i><i style="background:linear-gradient(#350 0.5px,#410 30.5px,#500 60.5px,#5e0 68.5px,#6b0 73.5px,#940 74.5px,#940 75.5px)"></i><i style="background:linear-gradient(#3b0 0.5px,#410 14.5px,#490 15.5px,#4c0 17.5px,#6c0 60.5px,#800 70.5px,#8a0 73.5px,#940 74.5px,#940 75.5px)"></i><i style="background:linear-gradient(#300 0.5px,#3b0 30.5px,#4a0 61.5px,#570 68.5px,#610 72.5px,#6b0 73.5px,#940 74.5px,#940 75.5px)"></i><i style="background:linear-gradient(#360 0.5px,#530 60.5px,#610 68.5px,#6e0 73.5px,#940 74.5px,#940 75.5px)"></i><i style="background:linear-gradient(#2d0 0.5px,#370 30.5px,#450 61.5px,#510 68.5px,#5b0 72.5px,#6b0 73.5px,#940 74.5px,#940 75.5px)"></i><i style="background:linear-gradient(#330 0.5px,#4f0 61.5px,#5c0 68.5px,#660 72.5px,#6b0 73.5px,#940 74.5px,#940 75.5px)"></i><i style="background:linear-gradient(#2a0 0.5px,#2d0 10.5px,#3e0 11.5px,#470 17.5px,#6a0 60.5px,#810 71.5px,#870 73.5px,#940 74.5px,#940 75.5px)"></i><i style="background:linear-gradient(#3b0 0.5px,#5a0 60.5px,#680 68.5px,#760 73.5px,#940 74.5px,#940 75.5px)"></i><i style="background:linear-gradient(#390 0.5px,#580 60.5px,#660 68.5px,#740 73.5px,#940 74.5px,#940 75.5px)"></i><i style="background:linear-gradient(#360 0.5px,#530 60.5px,#610 68.5px,#6f0 73.5px,#940 74.5px,#940 75.5px)"></i><i style="background:linear-gradient(#300 0.5px,#360 14.5px,#3d0 15.5px,#400 18.5px,#5b0 60.5px,#6a0 68.5px,#780 73.5px,#940 74.5px,#940 75.5px)"></i><i style="background:linear-gradient(#3d0 0.5px,#5f0 60.5px,#6d0 68.5px,#7b0 73.5px,#940 74.5px,#940 75.5px)"></i><i style="background:linear-gradient(#440 0.5px,#6a0 60.5px,#800 71.5px,#870 73.5px,#940 74.5px,#940 75.5px)"></i><i style="background:linear-gradient(#2c0 0.5px,#350 22.5px,#3e0 23.5px,#400 25.5px,#580 60.5px,#660 68.5px,#740 73.5px,#940 74.5px,#940 75.5px)"></i><i style="background:linear-gradient(#3c0 0.5px,#5e0 60.5px,#6c0 68.5px,#7a0 73.5px,#940 74.5px,#940 75.5px)"></i><i style="background:linear-gradient(#420 0.5px,#670 60.5px,#7d0 71.5px,#840 73.5px,#940 74.5px,#940 75.5px)"></i><i style="background:linear-gradient(#3a0 0.5px,#5a0 45.5px,#620 60.5px,#6f0 68.5px,#7c0 73.5px,#940 74.5px,#940 75.5px)"></i><i style="background:linear-gradient(#300 0.5px,#540 45.5px,#590 60.5px,#6b0 75.5px)"></i><i style="background:linear-gradient(#3e0 0.5px,#680 45.5px,#6f0 60.5px,#830 75.5px)"></i><i style="background:linear-gradient(#390 0.5px,#610 45.5px,#670 60.5px,#7b0 75.5px)"></i><i style="background:linear-gradient(#340 0.5px,#500 30.5px,#5b0 45.5px,#610 60.5px,#740 75.5px)"></i><i style="background:linear-gradient(#2e0 0.5px,#490 30.5px,#530 45.5px,#590 60.5px,#6a0 75.5px)"></i><i style="background:linear-gradient(#3b0 0.5px,#5a0 30.5px,#660 45.5px,#6e0 60.5px,#810 75.5px)"></i><i style="background:linear-gradient(#400 0.5px,#610 30.5px,#6d0 45.5px,#750 60.5px,#890 75.5px)"></i><i style="background:linear-gradient(#350 0.5px,#430 15.5px,#540 30.5px,#660 60.5px,#780 75.5px)"></i><i style="background:linear-gradient(#3d0 0.5px,#4b0 15.5px,#5e0 30.5px,#720 60.5px,#850 75.5px)"></i><i style="background:linear-gradient(#310 0.5px,#3e0 15.5px,#4f0 30.5px,#600 60.5px,#710 75.5px)"></i><i style="background:linear-gradient(#3e0 0.5px,#450 7.5px,#4d0 8.5px,#6d0 30.5px,#860 60.5px,#9a0 75.5px)"></i><i style="background:linear-gradient(#3a0 0.5px,#490 15.5px,#5d0 30.5px,#710 60.5px,#830 75.5px)"></i><i style="background:linear-gradient(#380 0.5px,#470 15.5px,#5a0 30.5px,#6d0 60.5px,#7f0 75.5px)"></i><i style="background:linear-gradient(#380 0.5px,#470 15.5px,#5b0 30.5px,#6e0 60.5px,#800 75.5px)"></i><i style="background:linear-gradient(#400 0.5px,#510 15.5px,#650 30.5px,#7b0 60.5px,#8e0 75.5px)"></i><i style="background:linear-gradient(#410 0.5px,#660 30.5px,#7c0 60.5px,#8f0 75.5px)"></i><i style="background:linear-gradient(#3f0 0.5px,#640 30.5px,#7a0 60.5px,#8d0 75.5px)"></i><i style="background:linear-gradient(#3b0 0.5px,#600 30.5px,#750 60.5px,#880 75.5px)"></i><i style="background:linear-gradient(#3a0 0.5px,#3e0 3.5px,#460 4.5px,#480 5.5px,#6c0 30.5px,#850 60.5px,#990 75.5px)"></i><i style="background:linear-gradient(#3e0 0.5px,#650 30.5px,#7b0 60.5px,#8e0 75.5px)"></i><i style="background:linear-gradient(#3c0 0.5px,#620 30.5px,#780 60.5px,#8b0 75.5px)"></i><i style="background:linear-gradient(#3f0 0.5px,#670 30.5px,#7d0 60.5px,#910 75.5px)"></i><i style="background:linear-gradient(#380 0.5px,#5e0 30.5px,#720 60.5px,#850 75.5px)"></i><i style="background:linear-gradient(#250 0.5px,#460 30.5px,#560 60.5px,#670 75.5px)"></i><i style="background:linear-gradient(#3e0 0.5px,#660 30.5px,#7c0 60.5px,#900 75.5px)"></i><i style="background:linear-gradient(#5e0 0.5px,#840 30.5px,#9b0 60.5px,#b20 75.5px)"></i><i style="background:linear-gradient(#8a0 0.5px,#9b0 30.5px,#9c0 45.5px,#a40 60.5px,#bb0 75.5px)"></i><i style="background:linear-gradient(#4c0 0.5px,#700 30.5px,#830 60.5px,#950 75.5px)"></i><i style="width:2px;background:linear-gradient(#380 0.5px,#620 30.5px,#790 60.5px,#890 75.5px)"></i><i style="background:linear-gradient(#390 0.5px,#630 30.5px,#7b0 60.5px,#8b0 75.5px)"></i><i style="background:linear-gradient(#300 0.5px,#580 30.5px,#6d0 60.5px,#7c0 75.5px)"></i><i style="background:linear-gradient(#330 0.5px,#5c0 30.5px,#720 60.5px,#820 75.5px)"></i><i style="background:linear-gradient(#3b0 0.5px,#6c0 30.5px,#870 60.5px,#980 75.5px)"></i><i style="background:linear-gradient(#390 0.5px,#640 30.5px,#7c0 60.5px,#8c0 75.5px)"></i><i style="background:linear-gradient(#370 0.5px,#610 30.5px,#6c0 46.5px,#880 75.5px)"></i><i style="background:linear-gradient(#3d0 0.5px,#680 30.5px,#750 46.5px,#920 75.5px)"></i><i style="background:linear-gradient(#390 0.5px,#630 30.5px,#6e0 45.5px,#8b0 75.5px)"></i><i style="background:linear-gradient(#410 0.5px,#6d0 30.5px,#7a0 45.5px,#9a0 75.5px)"></i><i style="background:linear-gradient(#3d0 0.5px,#680 30.5px,#740 45.5px,#930 75.5px)"></i><i style="background:linear-gradient(#4c0 0.5px,#7b0 30.5px,#890 45.5px,#ac0 75.5px)"></i><i style="background:linear-gradient(#2e0 0.5px,#550 30.5px,#5f0 45.5px,#7a0 75.5px)"></i><i style="background:linear-gradient(#320 0.5px,#5a0 30.5px,#650 45.5px,#810 75.5px)"></i><i style="background:linear-gradient(#3f0 0.5px,#6b0 30.5px,#780 45.5px,#970 75.5px)"></i><i style="background:linear-gradient(#4f0 0.5px,#7f0 30.5px,#8d0 45.5px,#b20 75.5px)"></i><i style="background:linear-gradient(#430 0.5px,#5d0 15.5px,#730 30.5px,#810 45.5px,#a30 75.5px)"></i><i style="background:linear-gradient(#3a0 0.5px,#640 30.5px,#700 45.5px,#8e0 75.5px)"></i><i style="background:linear-gradient(#380 0.5px,#600 30.5px,#6c0 45.5px,#8a0 75.5px)"></i><i style="background:linear-gradient(#440 0.5px,#700 30.5px,#7c0 45.5px,#9e0 75.5px)"></i><i style="background:linear-gradient(#390 0.5px,#620 30.5px,#6d0 45.5px,#8c0 75.5px)"></i><i style="background:linear-gradient(#3f0 0.5px,#690 30.5px,#750 45.5px,#950 75.5px)"></i><i style="background:linear-gradient(#380 0.5px,#600 30.5px,#6b0 45.5px,#890 75.5px)"></i><i style="background:linear-gradient(#2f0 0.5px,#540 30.5px,#5e0 45.5px,#7a0 75.5px)"></i><i style="background:linear-gradient(#3a0 0.5px,#620 30.5px,#6d0 45.5px,#8c0 75.5px)"></i><i style="background:linear-gradient(#3d0 0.5px,#660 30.5px,#720 45.5px,#920 75.5px)"></i><i style="background:linear-gradient(#4c0 0.5px,#7c0 30.5px,#8b0 45.5px,#b00 75.5px)"></i><i style="background:linear-gradient(#420 0.5px,#700 30.5px,#7c0 45.5px,#9f0 75.5px)"></i><i style="background:linear-gradient(#330 0.5px,#4d0 30.5px,#530 45.5px,#5e0 60.5px,#730 75.5px)"></i><i style="background:linear-gradient(#390 0.5px,#490 30.5px,#4d0 45.5px,#560 60.5px,#700 75.5px)"></i><i style="background:linear-gradient(#380 0.5px,#480 30.5px,#4c0 45.5px,#550 60.5px,#6f0 75.5px)"></i><i style="background:linear-gradient(#390 0.5px,#480 30.5px,#4c0 45.5px,#550 60.5px,#6f0 75.5px)"></i><i style="background:linear-gradient(#360 0.5px,#490 30.5px,#4d0 45.5px,#560 60.5px,#6e0 75.5px)"></i><i style="background:linear-gradient(#3f0 0.5px,#500 15.5px,#680 30.5px,#7c0 60.5px,#910 75.5px)"></i><i style="background:linear-gradient(#3b0 0.5px,#4b0 15.5px,#620 30.5px,#750 60.5px,#890 75.5px)"></i><i style="background:linear-gradient(#460 0.5px,#580 15.5px,#700 30.5px,#860 60.5px,#9d0 75.5px)"></i><i style="background:linear-gradient(#420 0.5px,#530 15.5px,#6a0 30.5px,#800 60.5px,#960 75.5px)"></i><i style="background:linear-gradient(#3e0 0.5px,#4e0 15.5px,#640 30.5px,#790 60.5px,#8e0 75.5px)"></i><i style="background:linear-gradient(#2a0 0.5px,#380 15.5px,#4c0 30.5px,#5b0 60.5px,#6e0 75.5px)"></i><i style="background:linear-gradient(#390 0.5px,#480 15.5px,#5d0 30.5px,#700 60.5px,#860 75.5px)"></i><i style="background:linear-gradient(#3a0 0.5px,#4a0 15.5px,#5f0 30.5px,#720 60.5px,#880 75.5px)"></i><i style="background:linear-gradient(#3d0 0.5px,#4e0 15.5px,#630 30.5px,#770 60.5px,#8e0 75.5px)"></i><i style="background:linear-gradient(#400 0.5px,#510 15.5px,#660 30.5px,#7b0 60.5px,#920 75.5px)"></i><i style="background:linear-gradient(#350 0.5px,#440 15.5px,#570 30.5px,#690 60.5px,#7f0 75.5px)"></i></div>
<div class="pn" style="left:81px;top:154px;width:419px;height:76px"><i style="background:linear-gradient(#350 0.5px,#360 54.5px,#370 60.5px,#3c0 65.5px,#430 69.5px,#4f0 72.5px,#6b0 73.5px,#940 74.5px,#940 75.5px)"></i><i style="background:linear-gradient(#360 0.5px,#380 54.5px,#390 60.5px,#3e0 65.5px,#450 69.5px,#510 72.5px,#6b0 73.5px,#940 74.5px,#940 75.5px)"></i><i style="background:linear-gradient(#370 0.5px,#390 54.5px,#3a0 60.5px,#3f0 65.5px,#470 69.5px,#520 72.5px,#6b0 73.5px,#940 74.5px,#940 75.5px)"></i><i style="background:linear-gradient(#340 0.5px,#360 54.5px,#370 60.5px,#3b0 65.5px,#430 69.5px,#4e0 72.5px,#6b0 73.5px,#940 74.5px,#940 75.5px)"></i><i style="background:linear-gradient(#350 0.5px,#360 54.5px,#380 60.5px,#3c0 65.5px,#430 69.5px,#4f0 72.5px,#6b0 73.5px,#940 74.5px,#940 75.5px)"></i><i style="background:linear-gradient(#390 0.5px,#3c0 45.5px,#3f0 46.5px,#440 60.5px,#480 64.5px,#520 69.5px,#5e0 72.5px,#6b0 73.5px,#940 74.5px,#940 75.5px)"></i><i style="background:linear-gradient(#370 0.5px,#390 54.5px,#3a0 60.5px,#3f0 65.5px,#460 69.5px,#520 72.5px,#6b0 73.5px,#940 74.5px,#940 75.5px)"></i><i style="background:linear-gradient(#340 0.5px,#360 54.5px,#370 60.5px,#3b0 65.5px,#430 69.5px,#4e0 72.5px,#6b0 73.5px,#940 74.5px,#940 75.5px)"></i><i style="background:linear-gradient(#350 0.5px,#370 54.5px,#390 60.5px,#3d0 65.5px,#450 69.5px,#500 72.5px,#6b0 73.5px,#940 74.5px,#940 75.5px)"></i><i style="background:linear-gradient(#330 0.5px,#340 54.5px,#350 60.5px,#390 65.5px,#410 69.5px,#4c0 72.5px,#6b0 73.5px,#940 74.5px,#940 75.5px)"></i><i style="background:linear-gradient(#370 0.5px,#3a0 54.5px,#3b0 60.5px,#400 65.5px,#470 69.5px,#530 72.5px,#6b0 73.5px,#940 74.5px,#940 75.5px)"></i><i style="background:linear-gradient(#370 0.5px,#380 37.5px,#3c0 38.5px,#410 59.5px,#460 64.5px,#4f0 69.5px,#5b0 72.5px,#6b0 73.5px,#940 74.5px,#940 75.5px)"></i><i style="width:2px;background:linear-gradient(#380 0.5px,#3b0 54.5px,#3c0 60.5px,#410 65.5px,#480 69.5px,#540 72.5px,#6b0 73.5px,#940 74.5px,#940 75.5px)"></i><i style="background:linear-gradient(#370 0.5px,#390 54.5px,#3a0 60.5px,#3f0 65.5px,#470 69.5px,#520 72.5px,#6b0 73.5px,#940 74.5px,#940 75.5px)"></i><i style="background:linear-gradient(#380 0.5px,#400 54.5px,#460 64.5px,#4f0 69.5px,#5b0 72.5px,#6b0 73.5px,#940 74.5px,#940 75.5px)"></i><i style="background:linear-gradient(#360 0.5px,#3b0 15.5px,#550 45.5px,#5f0 61.5px,#670 66.5px,#720 70.5px,#820 73.5px,#940 74.5px,#940 75.5px)"></i><i style="background:linear-gradient(#350 0.5px,#380 15.5px,#540 62.5px,#5c0 67.5px,#690 71.5px,#750 73.5px,#940 74.5px,#940 75.5px)"></i><i style="background:linear-gradient(#340 0.5px,#390 15.5px,#480 30.5px,#5d0 60.5px,#690 66.5px,#760 70.5px,#870 73.5px,#940 74.5px,#9a0 75.5px)"></i><i style="background:linear-gradient(#350 0.5px,#3c0 15.5px,#530 30.5px,#720 60.5px,#810 66.5px,#900 70.5px,#a30 73.5px,#b70 75.5px)"></i><i style="background:linear-gradient(#310 0.5px,#310 54.5px,#310 60.5px,#360 65.5px,#3d0 69.5px,#480 72.5px,#6b0 73.5px,#940 74.5px,#940 75.5px)"></i><i style="background:linear-gradient(#380 0.5px,#3b0 54.5px,#3c0 60.5px,#410 65.5px,#490 69.5px,#540 72.5px,#6b0 73.5px,#940 74.5px,#940 75.5px)"></i><i style="background:linear-gradient(#330 0.5px,#340 54.5px,#350 60.5px,#390 65.5px,#410 69.5px,#4c0 72.5px,#6b0 73.5px,#940 74.5px,#940 75.5px)"></i><i style="background:linear-gradient(#350 0.5px,#370 54.5px,#380 60.5px,#3c0 65.5px,#440 69.5px,#4f0 72.5px,#6b0 73.5px,#940 74.5px,#940 75.5px)"></i><i style="background:linear-gradient(#300 0.5px,#330 15.5px,#460 55.5px,#4e0 65.5px,#560 69.5px,#610 72.5px,#6b0 73.5px,#940 74.5px,#940 75.5px)"></i><i style="background:linear-gradient(#310 0.5px,#310 54.5px,#320 60.5px,#370 65.5px,#3e0 69.5px,#490 72.5px,#6b0 73.5px,#940 74.5px,#940 75.5px)"></i><i style="background:linear-gradient(#350 0.5px,#360 54.5px,#370 60.5px,#3c0 65.5px,#430 69.5px,#4f0 72.5px,#6b0 73.5px,#940 74.5px,#940 75.5px)"></i><i style="background:linear-gradient(#350 0.5px,#370 54.5px,#380 60.5px,#3c0 65.5px,#440 69.5px,#4f0 72.5px,#6b0 73.5px,#940 74.5px,#940 75.5px)"></i><i style="background:linear-gradient(#350 0.5px,#370 54.5px,#380 60.5px,#3d0 65.5px,#440 69.5px,#500 72.5px,#6b0 73.5px,#940 74.5px,#940 75.5px)"></i><i style="background:linear-gradient(#370 0.5px,#3f0 57.5px,#440 64.5px,#4d0 69.5px,#590 72.5px,#6b0 73.5px,#940 74.5px,#940 75.5px)"></i><i style="background:linear-gradient(#350 0.5px,#470 15.5px,#530 30.5px,#5c0 61.5px,#640 66.5px,#700 70.5px,#800 73.5px,#940 74.5px,#940 75.5px)"></i><i style="background:linear-gradient(#370 0.5px,#460 15.5px,#500 30.5px,#580 61.5px,#620 67.5px,#6f0 71.5px,#7b0 73.5px,#940 74.5px,#940 75.5px)"></i><i style="background:linear-gradient(#370 0.5px,#390 54.5px,#3a0 60.5px,#3f0 65.5px,#460 69.5px,#520 72.5px,#6b0 73.5px,#940 74.5px,#940 75.5px)"></i><i style="background:linear-gradient(#350 0.5px,#370 54.5px,#380 60.5px,#3d0 65.5px,#440 69.5px,#500 72.5px,#6b0 73.5px,#940 74.5px,#940 75.5px)"></i><i style="background:linear-gradient(#350 0.5px,#370 54.5px,#380 60.5px,#3c0 65.5px,#440 69.5px,#4f0 72.5px,#6b0 73.5px,#940 74.5px,#940 75.5px)"></i><i style="background:linear-gradient(#360 0.5px,#390 54.5px,#3a0 60.5px,#3f0 65.5px,#460 69.5px,#520 72.5px,#6b0 73.5px,#940 74.5px,#940 75.5px)"></i><i style="background:linear-gradient(#390 0.5px,#450 15.5px,#550 61.5px,#600 67.5px,#6d0 71.5px,#790 73.5px,#940 74.5px,#940 75.5px)"></i><i style="background:linear-gradient(#3f0 0.5px,#5c0 15.5px,#6c0 30.5px,#7c0 60.5px,#8b0 66.5px,#9a0 70.5px,#ad0 73.5px,#b60 74.5px,#c50 75.5px)"></i><i style="background:linear-gradient(#360 0.5px,#440 15.5px,#550 61.5px,#600 67.5px,#6e0 71.5px,#7a0 73.5px,#940 74.5px,#940 75.5px)"></i><i style="background:linear-gradient(#350 0.5px,#370 54.5px,#380 60.5px,#3c0 65.5px,#440 69.5px,#4f0 72.5px,#6b0 73.5px,#940 74.5px,#940 75.5px)"></i><i style="background:linear-gradient(#360 0.5px,#380 54.5px,#3a0 60.5px,#3e0 65.5px,#460 69.5px,#510 72.5px,#6b0 73.5px,#940 74.5px,#940 75.5px)"></i><i style="background:linear-gradient(#350 0.5px,#370 54.5px,#390 60.5px,#3d0 65.5px,#450 69.5px,#500 72.5px,#6b0 73.5px,#940 74.5px,#940 75.5px)"></i><i style="background:linear-gradient(#360 0.5px,#380 45.5px,#3d0 46.5px,#430 60.5px,#470 64.5px,#510 69.5px,#5d0 72.5px,#6b0 73.5px,#940 74.5px,#940 75.5px)"></i><i style="background:linear-gradient(#390 0.5px,#3d0 52.5px,#420 64.5px,#4b0 69.5px,#560 72.5px,#6b0 73.5px,#940 74.5px,#940 75.5px)"></i><i style="background:linear-gradient(#360 0.5px,#390 54.5px,#3a0 60.5px,#3f0 65.5px,#460 69.5px,#520 72.5px,#6b0 73.5px,#940 74.5px,#940 75.5px)"></i><i style="background:linear-gradient(#370 0.5px,#3a0 54.5px,#3b0 60.5px,#3f0 65.5px,#470 69.5px,#530 72.5px,#6b0 73.5px,#940 74.5px,#940 75.5px)"></i><i style="background:linear-gradient(#340 0.5px,#360 54.5px,#370 60.5px,#3b0 65.5px,#430 69.5px,#4e0 72.5px,#6b0 73.5px,#940 74.5px,#940 75.5px)"></i><i style="background:linear-gradient(#340 0.5px,#340 37.5px,#390 38.5px,#400 59.5px,#440 64.5px,#4d0 69.5px,#590 72.5px,#6b0 73.5px,#940 74.5px,#940 75.5px)"></i><i style="background:linear-gradient(#340 0.5px,#360 54.5px,#370 60.5px,#3b0 65.5px,#430 69.5px,#4e0 72.5px,#6b0 73.5px,#940 74.5px,#940 75.5px)"></i><i style="background:linear-gradient(#330 0.5px,#350 54.5px,#360 60.5px,#3a0 65.5px,#410 69.5px,#4d0 72.5px,#6b0 73.5px,#940 74.5px,#940 75.5px)"></i><i style="background:linear-gradient(#350 0.5px,#370 54.5px,#380 60.5px,#3d0 65.5px,#440 69.5px,#500 72.5px,#6b0 73.5px,#940 74.5px,#940 75.5px)"></i><i style="background:linear-gradient(#340 0.5px,#350 54.5px,#360 60.5px,#3b0 65.5px,#420 69.5px,#4d0 72.5px,#6b0 73.5px,#940 74.5px,#940 75.5px)"></i><i style="background:linear-gradient(#350 0.5px,#3a0 54.5px,#3f0 64.5px,#480 69.5px,#540 72.5px,#6b0 73.5px,#940 74.5px,#940 75.5px)"></i><i style="background:linear-gradient(#330 0.5px,#3e0 55.5px,#420 63.5px,#4b0 68.5px,#5a0 72.5px,#6b0 73.5px,#940 74.5px,#940 75.5px)"></i><i style="background:linear-gradient(#320 0.5px,#440 60.5px,#520 75.5px)"></i><i style="background:linear-gradient(#340 0.5px,#390 15.5px,#430 30.5px,#4e0 60.5px,#5f0 75.5px)"></i><i style="background:linear-gradient(#330 0.5px,#3a0 15.5px,#470 30.5px,#550 60.5px,#690 75.5px)"></i><i style="background:linear-gradient(#340 0.5px,#3c0 15.5px,#4b0 30.5px,#5a0 60.5px,#700 75.5px)"></i><i style="background:linear-gradient(#340 0.5px,#3e0 15.5px,#4d0 30.5px,#5d0 60.5px,#730 75.5px)"></i><i style="background:linear-gradient(#350 0.5px,#3f0 15.5px,#500 30.5px,#600 60.5px,#760 75.5px)"></i><i style="background:linear-gradient(#380 0.5px,#440 15.5px,#550 30.5px,#670 60.5px,#7d0 75.5px)"></i><i style="background:linear-gradient(#390 0.5px,#460 15.5px,#580 30.5px,#6b0 60.5px,#810 75.5px)"></i><i style="background:linear-gradient(#380 0.5px,#580 30.5px,#640 45.5px,#6c0 60.5px,#820 75.5px)"></i><i style="background:linear-gradient(#640 0.5px,#7b0 15.5px,#8b0 30.5px,#950 60.5px,#a00 75.5px)"></i><i style="background:linear-gradient(#920 0.5px,#b00 15.5px,#bf0 30.5px,#bf0 75.5px)"></i><i style="background:linear-gradient(#3b0 0.5px,#5a0 15.5px,#6f0 30.5px,#860 60.5px,#9a0 75.5px)"></i><i style="background:linear-gradient(#3d0 0.5px,#5d0 15.5px,#720 30.5px,#8a0 60.5px,#9f0 75.5px)"></i><i style="background:linear-gradient(#2d0 0.5px,#4c0 15.5px,#5e0 30.5px,#710 60.5px,#840 75.5px)"></i><i style="background:linear-gradient(#480 0.5px,#6c0 15.5px,#820 30.5px,#9c0 60.5px,#b20 75.5px)"></i><i style="background:linear-gradient(#320 0.5px,#530 15.5px,#660 30.5px,#7a0 60.5px,#8e0 75.5px)"></i><i style="background:linear-gradient(#350 0.5px,#580 15.5px,#6a0 29.5px,#800 60.5px,#940 75.5px)"></i><i style="background:linear-gradient(#410 0.5px,#660 15.5px,#7a0 29.5px,#920 60.5px,#a80 75.5px)"></i><i style="background:linear-gradient(#350 0.5px,#590 15.5px,#6c0 29.5px,#800 60.5px,#950 75.5px)"></i><i style="background:linear-gradient(#340 0.5px,#590 15.5px,#6b0 29.5px,#800 60.5px,#940 75.5px)"></i><i style="background:linear-gradient(#350 0.5px,#5b0 15.5px,#6d0 29.5px,#820 60.5px,#970 75.5px)"></i><i style="background:linear-gradient(#410 0.5px,#690 15.5px,#7d0 29.5px,#950 60.5px,#ab0 75.5px)"></i><i style="background:linear-gradient(#530 0.5px,#7f0 15.5px,#950 29.5px,#b00 60.5px,#bf0 69.5px,#db0 75.5px)"></i><i style="background:linear-gradient(#470 0.5px,#720 15.5px,#890 30.5px,#9e0 60.5px,#b20 75.5px)"></i><i style="background:linear-gradient(#3d0 0.5px,#680 15.5px,#7e0 30.5px,#8f0 60.5px,#a00 75.5px)"></i><i style="background:linear-gradient(#490 0.5px,#760 15.5px,#8f0 30.5px,#a20 60.5px,#b40 75.5px)"></i><i style="background:linear-gradient(#420 0.5px,#6f0 15.5px,#860 30.5px,#970 60.5px,#a90 75.5px)"></i><i style="background:linear-gradient(#460 0.5px,#730 15.5px,#8b0 30.5px,#9d0 60.5px,#ae0 75.5px)"></i><i style="background:linear-gradient(#510 0.5px,#7f0 15.5px,#980 30.5px,#ad0 60.5px,#c10 75.5px)"></i><i style="background:linear-gradient(#430 0.5px,#700 15.5px,#870 30.5px,#980 60.5px,#aa0 75.5px)"></i><i style="background:linear-gradient(#470 0.5px,#740 15.5px,#8c0 30.5px,#9e0 60.5px,#b00 75.5px)"></i><i style="background:linear-gradient(#410 0.5px,#6d0 15.5px,#840 30.5px,#940 60.5px,#a50 75.5px)"></i><i style="background:linear-gradient(#460 0.5px,#720 15.5px,#8a0 30.5px,#9b0 60.5px,#ad0 75.5px)"></i><i style="background:linear-gradient(#4a0 0.5px,#770 15.5px,#900 30.5px,#a20 60.5px,#b40 75.5px)"></i><i style="background:linear-gradient(#410 0.5px,#6d0 15.5px,#840 30.5px,#940 60.5px,#a50 75.5px)"></i><i style="background:linear-gradient(#450 0.5px,#710 15.5px,#890 30.5px,#9a0 60.5px,#ab0 75.5px)"></i><i style="background:linear-gradient(#770 0.5px,#a30 15.5px,#b40 30.5px,#b60 60.5px,#bf0 75.5px)"></i><i style="background:linear-gradient(#7e0 0.5px,#aa0 15.5px,#b80 30.5px,#b60 60.5px,#bd0 75.5px)"></i><i style="background:linear-gradient(#6f0 0.5px,#9a0 15.5px,#aa0 30.5px,#ab0 60.5px,#b30 75.5px)"></i><i style="background:linear-gradient(#3c0 0.5px,#670 15.5px,#800 30.5px,#940 60.5px,#a50 75.5px)"></i><i style="background:linear-gradient(#460 0.5px,#730 15.5px,#8d0 30.5px,#a30 60.5px,#b60 75.5px)"></i><i style="background:linear-gradient(#480 0.5px,#740 15.5px,#8f0 30.5px,#a60 60.5px,#b80 75.5px)"></i><i style="background:linear-gradient(#5d0 0.5px,#8c0 15.5px,#a80 29.5px,#c00 53.5px,#d30 60.5px,#ef0 67.5px,#ff0 75.5px)"></i><i style="background:linear-gradient(#3c0 0.5px,#670 15.5px,#7f0 30.5px,#930 60.5px,#a20 75.5px)"></i><i style="background:linear-gradient(#4a0 0.5px,#770 15.5px,#920 30.5px,#a90 60.5px,#ba0 75.5px)"></i><i style="background:linear-gradient(#500 0.5px,#7d0 15.5px,#980 30.5px,#b30 61.5px,#bf0 72.5px,#c90 75.5px)"></i><i style="background:linear-gradient(#590 0.5px,#880 15.5px,#a40 30.5px,#bf0 59.5px,#ec0 72.5px,#f70 75.5px)"></i><i style="background:linear-gradient(#550 0.5px,#820 15.5px,#9d0 29.5px,#bf0 65.5px,#de0 75.5px)"></i><i style="background:linear-gradient(#490 0.5px,#760 15.5px,#900 30.5px,#b60 75.5px)"></i><i style="background:linear-gradient(#4e0 0.5px,#7b0 15.5px,#960 30.5px,#be0 75.5px)"></i><i style="background:linear-gradient(#540 0.5px,#820 15.5px,#9d0 30.5px,#bf0 67.5px,#d70 75.5px)"></i><i style="background:linear-gradient(#4f0 0.5px,#7c0 15.5px,#960 30.5px,#be0 75.5px)"></i><i style="background:linear-gradient(#570 0.5px,#850 15.5px,#9f0 29.5px,#bf0 62.5px,#e20 75.5px)"></i><i style="background:linear-gradient(#440 0.5px,#6f0 15.5px,#880 30.5px,#aa0 75.5px)"></i><i style="background:linear-gradient(#5e0 0.5px,#8c0 15.5px,#a90 30.5px,#c00 53.5px,#ee0 69.5px,#ff0 75.5px)"></i><i style="background:linear-gradient(#6a0 0.5px,#a00 15.5px,#c10 31.5px,#ec0 49.5px,#ff0 75.5px)"></i><i style="background:linear-gradient(#640 0.5px,#9e0 15.5px,#be0 30.5px,#bf0 32.5px,#d40 45.5px,#e30 60.5px,#ed0 75.5px)"></i><i style="background:linear-gradient(#660 0.5px,#9c0 15.5px,#bd0 28.5px,#c00 29.5px,#c70 30.5px,#e40 45.5px,#ee0 53.5px,#ff0 75.5px)"></i><i style="background:linear-gradient(#600 0.5px,#900 15.5px,#bb0 30.5px,#c00 37.5px,#d00 45.5px,#ed0 69.5px,#f40 75.5px)"></i><i style="background:linear-gradient(#5a0 0.5px,#890 15.5px,#b20 30.5px,#bb0 45.5px,#bf0 59.5px,#cc0 75.5px)"></i><i style="background:linear-gradient(#650 0.5px,#9b0 15.5px,#be0 30.5px,#c00 33.5px,#d40 45.5px,#e10 60.5px,#ea0 75.5px)"></i><i style="background:linear-gradient(#730 0.5px,#b10 15.5px,#c10 23.5px,#e90 30.5px,#ee0 33.5px,#ff0 75.5px)"></i><i style="background:linear-gradient(#6c0 0.5px,#ac0 15.5px,#bf0 27.5px,#cc0 30.5px,#df0 46.5px,#e60 60.5px,#e60 75.5px)"></i><i style="background:linear-gradient(#6a0 0.5px,#aa0 15.5px,#bf0 28.5px,#c60 30.5px,#d70 46.5px,#de0 60.5px,#dc0 75.5px)"></i><i style="background:linear-gradient(#6c0 0.5px,#ad0 15.5px,#be0 26.5px,#cf0 30.5px,#e00 45.5px,#e70 60.5px,#e70 75.5px)"></i><i style="background:linear-gradient(#710 0.5px,#ae0 14.5px,#bf0 23.5px,#e10 30.5px,#ee0 40.5px,#fd0 75.5px)"></i><i style="background:linear-gradient(#780 0.5px,#b70 14.5px,#c20 18.5px,#eb0 26.5px,#f00 27.5px,#ff0 75.5px)"></i><i style="background:linear-gradient(#6a0 0.5px,#ab0 15.5px,#be0 27.5px,#cb0 30.5px,#dc0 45.5px,#e00 60.5px,#de0 75.5px)"></i><i style="background:linear-gradient(#710 0.5px,#af0 14.5px,#be0 22.5px,#e40 30.5px,#ed0 37.5px,#ff0 75.5px)"></i><i style="background:linear-gradient(#700 0.5px,#ae0 14.5px,#bf0 23.5px,#e10 30.5px,#ed0 40.5px,#f90 75.5px)"></i><i style="background:linear-gradient(#5f0 0.5px,#9f0 15.5px,#b50 30.5px,#b90 45.5px,#b60 75.5px)"></i><i style="background:linear-gradient(#670 0.5px,#a90 15.5px,#c10 30.5px,#d00 45.5px,#ce0 75.5px)"></i><i style="background:linear-gradient(#6b0 0.5px,#ad0 15.5px,#bf0 26.5px,#d10 30.5px,#e20 45.5px,#e10 75.5px)"></i><i style="background:linear-gradient(#6d0 0.5px,#af0 15.5px,#bf0 25.5px,#d70 30.5px,#e90 45.5px,#e90 75.5px)"></i><i style="background:linear-gradient(#700 0.5px,#b00 14.5px,#bf0 22.5px,#e40 30.5px,#ed0 37.5px,#fa0 75.5px)"></i><i style="background:linear-gradient(#2a0 0.5px,#4b0 15.5px,#760 30.5px,#b30 75.5px)"></i><i style="background:linear-gradient(#370 0.5px,#590 15.5px,#860 30.5px,#bf0 68.5px,#dd0 75.5px)"></i><i style="background:linear-gradient(#580 0.5px,#850 15.5px,#a40 30.5px,#b50 45.5px,#bf0 65.5px,#ce0 75.5px)"></i><i style="background:linear-gradient(#680 0.5px,#9a0 15.5px,#af0 30.5px,#bc0 45.5px,#b90 75.5px)"></i><i style="background:linear-gradient(#760 0.5px,#ab0 15.5px,#be0 28.5px,#ee0 43.5px,#f60 75.5px)"></i><i style="background:linear-gradient(#7b0 0.5px,#b00 15.5px,#c00 25.5px,#d70 30.5px,#ee0 37.5px,#ff0 75.5px)"></i><i style="background:linear-gradient(#6f0 0.5px,#9e0 15.5px,#b40 30.5px,#c00 41.5px,#cd0 45.5px,#d90 75.5px)"></i><i style="background:linear-gradient(#720 0.5px,#b80 45.5px,#bf0 51.5px,#ed0 66.5px,#ff0 75.5px)"></i><i style="background:linear-gradient(#7e0 0.5px,#a00 15.5px,#bd0 30.5px,#c00 34.5px,#d60 45.5px,#e30 75.5px)"></i><i style="background:linear-gradient(#830 0.5px,#a90 15.5px,#bf0 26.5px,#d70 30.5px,#ec0 44.5px,#ee0 75.5px)"></i><i style="background:linear-gradient(#7a0 0.5px,#9f0 15.5px,#bc0 30.5px,#bf0 38.5px,#c80 45.5px,#c10 75.5px)"></i><i style="background:linear-gradient(#8e0 0.5px,#be0 19.5px,#c10 20.5px,#ee0 27.5px,#ff0 75.5px)"></i><i style="background:linear-gradient(#310 0.5px,#340 55.5px,#360 61.5px,#3b0 66.5px,#400 69.5px,#4a0 72.5px,#6b0 73.5px,#940 74.5px,#940 75.5px)"></i><i style="background:linear-gradient(#340 0.5px,#390 53.5px,#3a0 60.5px,#3f0 65.5px,#460 69.5px,#500 72.5px,#6b0 73.5px,#940 74.5px,#940 75.5px)"></i><i style="background:linear-gradient(#300 0.5px,#320 55.5px,#330 61.5px,#380 66.5px,#3e0 69.5px,#480 72.5px,#6b0 73.5px,#940 74.5px,#940 75.5px)"></i><i style="background:linear-gradient(#2e0 0.5px,#2f0 55.5px,#310 61.5px,#350 66.5px,#3b0 69.5px,#450 72.5px,#940 74.5px,#940 75.5px)"></i><i style="background:linear-gradient(#310 0.5px,#350 55.5px,#360 61.5px,#3b0 66.5px,#410 69.5px,#4b0 72.5px,#6b0 73.5px,#940 74.5px,#940 75.5px)"></i><i style="background:linear-gradient(#320 0.5px,#350 55.5px,#370 61.5px,#3c0 66.5px,#410 69.5px,#4b0 72.5px,#6b0 73.5px,#940 74.5px,#940 75.5px)"></i><i style="background:linear-gradient(#310 0.5px,#350 55.5px,#370 61.5px,#3c0 66.5px,#410 69.5px,#4b0 72.5px,#6b0 73.5px,#940 74.5px,#940 75.5px)"></i><i style="background:linear-gradient(#320 0.5px,#350 55.5px,#370 61.5px,#3c0 66.5px,#410 69.5px,#4b0 72.5px,#6b0 73.5px,#940 74.5px,#940 75.5px)"></i><i style="background:linear-gradient(#2f0 0.5px,#310 55.5px,#320 61.5px,#370 66.5px,#3d0 69.5px,#470 72.5px,#6b0 73.5px,#940 74.5px,#940 75.5px)"></i><i style="background:linear-gradient(#2f0 0.5px,#310 55.5px,#330 61.5px,#380 66.5px,#3d0 69.5px,#470 72.5px,#6b0 73.5px,#940 74.5px,#940 75.5px)"></i><i style="background:linear-gradient(#330 0.5px,#370 53.5px,#390 60.5px,#3d0 65.5px,#440 69.5px,#4e0 72.5px,#6b0 73.5px,#940 74.5px,#940 75.5px)"></i><i style="background:linear-gradient(#340 0.5px,#380 53.5px,#3a0 60.5px,#3e0 65.5px,#450 69.5px,#4f0 72.5px,#6b0 73.5px,#940 74.5px,#940 75.5px)"></i><i style="background:linear-gradient(#310 0.5px,#340 55.5px,#360 61.5px,#3b0 66.5px,#400 69.5px,#4a0 72.5px,#6b0 73.5px,#940 74.5px,#940 75.5px)"></i><i style="background:linear-gradient(#350 0.5px,#3a0 53.5px,#3b0 60.5px,#400 65.5px,#470 69.5px,#510 72.5px,#6b0 73.5px,#940 74.5px,#940 75.5px)"></i><i style="width:2px;background:linear-gradient(#300 0.5px,#330 55.5px,#350 61.5px,#3a0 66.5px,#3f0 69.5px,#490 72.5px,#6b0 73.5px,#940 74.5px,#940 75.5px)"></i><i style="background:linear-gradient(#320 0.5px,#360 55.5px,#370 61.5px,#3c0 66.5px,#420 69.5px,#4c0 72.5px,#6b0 73.5px,#940 74.5px,#940 75.5px)"></i><i style="background:linear-gradient(#300 0.5px,#320 55.5px,#340 61.5px,#390 66.5px,#3e0 69.5px,#480 72.5px,#6b0 73.5px,#940 74.5px,#940 75.5px)"></i><i style="background:linear-gradient(#300 0.5px,#330 55.5px,#350 61.5px,#3a0 66.5px,#3f0 69.5px,#490 72.5px,#6b0 73.5px,#940 74.5px,#940 75.5px)"></i><i style="background:linear-gradient(#310 0.5px,#340 55.5px,#360 61.5px,#3b0 66.5px,#410 69.5px,#4a0 72.5px,#6b0 73.5px,#940 74.5px,#940 75.5px)"></i><i style="background:linear-gradient(#310 0.5px,#340 55.5px,#360 61.5px,#3b0 66.5px,#400 69.5px,#4a0 72.5px,#6b0 73.5px,#940 74.5px,#940 75.5px)"></i><i style="width:2px;background:linear-gradient(#330 0.5px,#370 53.5px,#380 60.5px,#3d0 65.5px,#440 69.5px,#4e0 72.5px,#6b0 73.5px,#940 74.5px,#940 75.5px)"></i><i style="background:linear-gradient(#300 0.5px,#330 55.5px,#340 61.5px,#390 66.5px,#3f0 69.5px,#490 72.5px,#6b0 73.5px,#940 74.5px,#940 75.5px)"></i><i style="background:linear-gradient(#300 0.5px,#330 55.5px,#350 61.5px,#390 66.5px,#3f0 69.5px,#490 72.5px,#6b0 73.5px,#940 74.5px,#940 75.5px)"></i><i style="width:2px;background:linear-gradient(#320 0.5px,#350 55.5px,#370 61.5px,#3c0 66.5px,#410 69.5px,#4b0 72.5px,#6b0 73.5px,#940 74.5px,#940 75.5px)"></i><i style="background:linear-gradient(#300 0.5px,#330 55.5px,#350 61.5px,#3a0 66.5px,#3f0 69.5px,#490 72.5px,#6b0 73.5px,#940 74.5px,#940 75.5px)"></i><i style="background:linear-gradient(#320 0.5px,#360 55.5px,#380 61.5px,#3d0 66.5px,#420 69.5px,#4c0 72.5px,#6b0 73.5px,#940 74.5px,#940 75.5px)"></i><i style="background:linear-gradient(#330 0.5px,#370 53.5px,#390 60.5px,#3d0 65.5px,#440 69.5px,#4e0 72.5px,#6b0 73.5px,#940 74.5px,#940 75.5px)"></i><i style="background:linear-gradient(#310 0.5px,#340 55.5px,#360 61.5px,#3b0 66.5px,#400 69.5px,#4a0 72.5px,#6b0 73.5px,#940 74.5px,#940 75.5px)"></i><i style="background:linear-gradient(#320 0.5px,#3b0 45.5px,#440 62.5px,#4f0 68.5px,#5d0 72.5px,#6b0 73.5px,#940 74.5px,#940 75.5px)"></i><i style="background:linear-gradient(#270 0.5px,#2d0 15.5px,#420 30.5px,#4c0 45.5px,#630 60.5px,#960 75.5px)"></i><i style="background:linear-gradient(#320 0.5px,#3a0 15.5px,#500 30.5px,#5e0 46.5px,#750 60.5px,#a80 75.5px)"></i><i style="background:linear-gradient(#390 0.5px,#410 15.5px,#580 30.5px,#670 46.5px,#7f0 60.5px,#b30 75.5px)"></i><i style="background:linear-gradient(#2b0 0.5px,#320 15.5px,#470 30.5px,#550 46.5px,#6a0 60.5px,#9d0 75.5px)"></i><i style="background:linear-gradient(#330 0.5px,#3a0 15.5px,#500 30.5px,#5e0 45.5px,#750 60.5px,#a90 75.5px)"></i><i style="background:linear-gradient(#350 0.5px,#3c0 15.5px,#530 30.5px,#610 45.5px,#780 60.5px,#ac0 75.5px)"></i><i style="background:linear-gradient(#3a0 0.5px,#420 15.5px,#5a0 30.5px,#690 45.5px,#800 60.5px,#b50 75.5px)"></i><i style="background:linear-gradient(#3d0 0.5px,#460 15.5px,#5e0 30.5px,#6e0 45.5px,#860 60.5px,#bb0 75.5px)"></i><i style="background:linear-gradient(#350 0.5px,#3d0 15.5px,#530 30.5px,#620 45.5px,#780 60.5px,#ac0 75.5px)"></i><i style="background:linear-gradient(#2e0 0.5px,#340 15.5px,#490 30.5px,#570 45.5px,#6c0 60.5px,#a00 75.5px)"></i><i style="background:linear-gradient(#3c0 0.5px,#430 15.5px,#590 30.5px,#680 45.5px,#800 60.5px,#b50 75.5px)"></i><i style="background:linear-gradient(#3d0 0.5px,#450 15.5px,#5a0 30.5px,#6a0 45.5px,#820 60.5px,#b70 75.5px)"></i><i style="background:linear-gradient(#350 0.5px,#3a0 15.5px,#4e0 30.5px,#5c0 45.5px,#730 60.5px,#a70 75.5px)"></i><i style="background:linear-gradient(#370 0.5px,#3d0 15.5px,#5f0 45.5px,#760 60.5px,#aa0 75.5px)"></i><i style="background:linear-gradient(#360 0.5px,#390 15.5px,#4a0 45.5px,#570 60.5px,#680 67.5px,#780 72.5px,#7c0 73.5px,#940 74.5px,#940 75.5px)"></i><i style="width:3px;background:linear-gradient(#360 0.5px,#390 45.5px,#3c0 60.5px,#420 65.5px,#4e0 72.5px,#6b0 73.5px,#940 74.5px,#940 75.5px)"></i><i style="width:4px;background:linear-gradient(#4e0 0.5px,#830 15.5px,#a80 30.5px,#ec0 75.5px)"></i><i style="background:linear-gradient(#3b0 0.5px,#7c0 30.5px,#7f0 45.5px,#740 60.5px,#820 75.5px)"></i><i style="background:linear-gradient(#360 0.5px,#390 45.5px,#3c0 60.5px,#420 65.5px,#4e0 72.5px,#6b0 73.5px,#940 74.5px,#940 75.5px)"></i><i style="background:linear-gradient(#460 0.5px,#6c0 15.5px,#820 30.5px,#820 60.5px,#910 75.5px)"></i><i style="background:linear-gradient(#3a0 0.5px,#440 15.5px,#4a0 30.5px,#4d0 60.5px,#5c0 75.5px)"></i><i style="background:linear-gradient(#380 0.5px,#4b0 15.5px,#550 30.5px,#580 60.5px,#650 75.5px)"></i><i style="background:linear-gradient(#3a0 0.5px,#540 15.5px,#630 30.5px,#670 60.5px,#720 75.5px)"></i><i style="width:3px;background:linear-gradient(#360 0.5px,#390 45.5px,#3c0 60.5px,#420 65.5px,#4e0 72.5px,#6b0 73.5px,#940 74.5px,#940 75.5px)"></i><i style="background:linear-gradient(#3c0 0.5px,#660 15.5px,#7d0 30.5px,#ba0 60.5px,#c00 65.5px,#df0 75.5px)"></i><i style="background:linear-gradient(#3d0 0.5px,#680 15.5px,#7f0 30.5px,#c10 63.5px,#e60 75.5px)"></i><i style="background:linear-gradient(#3c0 0.5px,#660 15.5px,#7d0 30.5px,#ba0 60.5px,#bf0 65.5px,#de0 75.5px)"></i><i style="background:linear-gradient(#420 0.5px,#6d0 15.5px,#850 30.5px,#bf0 58.5px,#cf0 61.5px,#ec0 70.5px,#fc0 75.5px)"></i><i style="background:linear-gradient(#320 0.5px,#500 15.5px,#640 30.5px,#850 60.5px,#9e0 75.5px)"></i><i style="background:linear-gradient(#3d0 0.5px,#660 30.5px,#710 60.5px,#970 75.5px)"></i><i style="background:linear-gradient(#3c0 0.5px,#640 30.5px,#6f0 60.5px,#950 75.5px)"></i><i style="background:linear-gradient(#390 0.5px,#540 15.5px,#690 30.5px,#810 60.5px,#a60 75.5px)"></i><i style="background:linear-gradient(#400 0.5px,#630 15.5px,#7b0 30.5px,#a20 60.5px,#be0 71.5px,#db0 75.5px)"></i><i style="background:linear-gradient(#2e0 0.5px,#4f0 15.5px,#640 30.5px,#870 60.5px,#ab0 75.5px)"></i><i style="background:linear-gradient(#3e0 0.5px,#610 15.5px,#780 30.5px,#9f0 60.5px,#c00 73.5px,#cf0 75.5px)"></i><i style="background:linear-gradient(#330 0.5px,#450 56.5px,#4b0 64.5px,#550 69.5px,#5f0 72.5px,#6b0 73.5px,#940 74.5px,#940 75.5px)"></i><i style="background:linear-gradient(#340 0.5px,#380 55.5px,#3a0 61.5px,#3f0 66.5px,#440 69.5px,#4e0 72.5px,#6b0 73.5px,#940 74.5px,#940 75.5px)"></i><i style="background:linear-gradient(#2e0 0.5px,#300 55.5px,#320 61.5px,#370 66.5px,#3c0 69.5px,#450 72.5px,#940 74.5px,#940 75.5px)"></i><i style="background:linear-gradient(#2d0 0.5px,#2f0 55.5px,#300 61.5px,#350 66.5px,#3a0 69.5px,#440 72.5px,#940 74.5px,#940 75.5px)"></i><i style="background:linear-gradient(#320 0.5px,#360 55.5px,#370 61.5px,#3c0 66.5px,#420 69.5px,#4b0 72.5px,#6b0 73.5px,#940 74.5px,#940 75.5px)"></i><i style="background:linear-gradient(#300 0.5px,#330 55.5px,#340 61.5px,#390 66.5px,#3e0 69.5px,#480 72.5px,#6b0 73.5px,#940 74.5px,#940 75.5px)"></i><i style="background:linear-gradient(#2f0 0.5px,#310 55.5px,#330 61.5px,#380 66.5px,#3d0 69.5px,#460 72.5px,#6b0 73.5px,#940 74.5px,#940 75.5px)"></i><i style="background:linear-gradient(#310 0.5px,#340 55.5px,#350 61.5px,#3a0 66.5px,#3f0 69.5px,#490 72.5px,#6b0 73.5px,#940 74.5px,#940 75.5px)"></i><i style="background:linear-gradient(#300 0.5px,#330 55.5px,#340 61.5px,#390 66.5px,#3e0 69.5px,#480 72.5px,#6b0 73.5px,#940 74.5px,#940 75.5px)"></i><i style="background:linear-gradient(#320 0.5px,#360 55.5px,#370 61.5px,#3c0 66.5px,#420 69.5px,#4b0 72.5px,#6b0 73.5px,#940 74.5px,#940 75.5px)"></i><i style="background:linear-gradient(#2f0 0.5px,#300 55.5px,#320 61.5px,#370 66.5px,#3c0 69.5px,#460 72.5px,#6b0 73.5px,#940 74.5px,#940 75.5px)"></i><i style="background:linear-gradient(#300 0.5px,#330 55.5px,#350 61.5px,#390 66.5px,#3f0 69.5px,#480 72.5px,#6b0 73.5px,#940 74.5px,#940 75.5px)"></i><i style="background:linear-gradient(#390 0.5px,#3f0 53.5px,#410 60.5px,#450 65.5px,#4c0 69.5px,#560 72.5px,#6b0 73.5px,#940 74.5px,#940 75.5px)"></i><i style="background:linear-gradient(#330 0.5px,#380 55.5px,#390 61.5px,#3e0 66.5px,#440 69.5px,#4d0 72.5px,#6b0 73.5px,#940 74.5px,#940 75.5px)"></i><i style="background:linear-gradient(#2e0 0.5px,#2f0 55.5px,#310 61.5px,#360 66.5px,#3b0 69.5px,#440 72.5px,#940 74.5px,#940 75.5px)"></i><i style="background:linear-gradient(#320 0.5px,#360 55.5px,#380 61.5px,#3d0 66.5px,#420 69.5px,#4c0 72.5px,#6b0 73.5px,#940 74.5px,#940 75.5px)"></i><i style="background:linear-gradient(#330 0.5px,#370 55.5px,#390 61.5px,#3e0 66.5px,#430 69.5px,#4d0 72.5px,#6b0 73.5px,#940 74.5px,#940 75.5px)"></i><i style="background:linear-gradient(#350 0.5px,#3a0 53.5px,#3b0 60.5px,#400 65.5px,#470 69.5px,#500 72.5px,#6b0 73.5px,#940 74.5px,#940 75.5px)"></i><i style="background:linear-gradient(#330 0.5px,#370 55.5px,#380 61.5px,#3d0 66.5px,#430 69.5px,#4c0 72.5px,#6b0 73.5px,#940 74.5px,#940 75.5px)"></i><i style="background:linear-gradient(#300 0.5px,#330 55.5px,#350 61.5px,#3a0 66.5px,#3f0 69.5px,#490 72.5px,#6b0 73.5px,#940 74.5px,#940 75.5px)"></i><i style="background:linear-gradient(#350 0.5px,#390 53.5px,#3b0 60.5px,#3f0 65.5px,#460 69.5px,#500 72.5px,#6b0 73.5px,#940 74.5px,#940 75.5px)"></i><i style="background:linear-gradient(#340 0.5px,#370 45.5px,#3c0 46.5px,#470 64.5px,#500 69.5px,#5a0 72.5px,#6b0 73.5px,#940 74.5px,#940 75.5px)"></i><i style="background:linear-gradient(#2e0 0.5px,#300 55.5px,#310 61.5px,#360 66.5px,#3b0 69.5px,#450 72.5px,#940 74.5px,#940 75.5px)"></i><i style="background:linear-gradient(#330 0.5px,#370 55.5px,#380 61.5px,#3d0 66.5px,#430 69.5px,#4c0 72.5px,#6b0 73.5px,#940 74.5px,#940 75.5px)"></i><i style="background:linear-gradient(#310 0.5px,#350 55.5px,#360 61.5px,#3b0 66.5px,#410 69.5px,#4a0 72.5px,#6b0 73.5px,#940 74.5px,#940 75.5px)"></i><i style="background:linear-gradient(#340 0.5px,#390 55.5px,#3b0 61.5px,#400 66.5px,#450 69.5px,#4f0 72.5px,#6b0 73.5px,#940 74.5px,#940 75.5px)"></i><i style="background:linear-gradient(#310 0.5px,#350 55.5px,#360 61.5px,#3b0 66.5px,#410 69.5px,#4a0 72.5px,#6b0 73.5px,#940 74.5px,#940 75.5px)"></i><i style="background:linear-gradient(#330 0.5px,#380 55.5px,#390 61.5px,#3f0 66.5px,#440 69.5px,#4e0 72.5px,#6b0 73.5px,#940 74.5px,#940 75.5px)"></i><i style="background:linear-gradient(#330 0.5px,#360 55.5px,#380 61.5px,#3d0 66.5px,#420 69.5px,#4c0 72.5px,#6b0 73.5px,#940 74.5px,#940 75.5px)"></i><i style="background:linear-gradient(#330 0.5px,#370 55.5px,#390 61.5px,#3e0 66.5px,#440 69.5px,#4d0 72.5px,#6b0 73.5px,#940 74.5px,#940 75.5px)"></i><i style="background:linear-gradient(#320 0.5px,#340 45.5px,#3b0 46.5px,#470 64.5px,#500 69.5px,#5a0 72.5px,#6b0 73.5px,#940 74.5px,#940 75.5px)"></i><i style="background:linear-gradient(#310 0.5px,#340 55.5px,#360 61.5px,#3a0 66.5px,#400 69.5px,#490 72.5px,#6b0 73.5px,#940 74.5px,#940 75.5px)"></i><i style="background:linear-gradient(#320 0.5px,#350 55.5px,#370 61.5px,#3c0 66.5px,#410 69.5px,#4b0 72.5px,#6b0 73.5px,#940 74.5px,#940 75.5px)"></i><i style="background:linear-gradient(#330 0.5px,#350 37.5px,#3d0 38.5px,#3e0 39.5px,#480 60.5px,#4c0 64.5px,#550 69.5px,#5f0 72.5px,#6b0 73.5px,#940 74.5px,#940 75.5px)"></i><i style="background:linear-gradient(#330 0.5px,#350 37.5px,#3d0 38.5px,#3e0 39.5px,#470 60.5px,#4b0 64.5px,#540 69.5px,#5e0 72.5px,#6b0 73.5px,#940 74.5px,#940 75.5px)"></i><i style="background:linear-gradient(#360 0.5px,#3b0 53.5px,#3c0 60.5px,#410 65.5px,#470 69.5px,#510 72.5px,#6b0 73.5px,#940 74.5px,#940 75.5px)"></i><i style="background:linear-gradient(#330 0.5px,#340 12.5px,#5d0 13.5px,#650 40.5px,#740 60.5px,#880 70.5px,#9b0 75.5px)"></i><i style="background:linear-gradient(#340 0.5px,#340 12.5px,#670 13.5px,#700 40.5px,#820 60.5px,#990 70.5px,#b00 75.5px)"></i><i style="background:linear-gradient(#370 0.5px,#380 12.5px,#670 13.5px,#700 40.5px,#820 60.5px,#990 70.5px,#b00 75.5px)"></i><i style="background:linear-gradient(#330 0.5px,#340 12.5px,#5d0 13.5px,#650 40.5px,#740 60.5px,#880 70.5px,#9b0 75.5px)"></i><i style="background:linear-gradient(#340 0.5px,#380 55.5px,#390 61.5px,#3e0 66.5px,#440 69.5px,#4d0 72.5px,#6b0 73.5px,#940 74.5px,#940 75.5px)"></i><i style="background:linear-gradient(#320 0.5px,#330 29.5px,#3d0 30.5px,#3f0 32.5px,#4d0 60.5px,#510 64.5px,#5a0 69.5px,#640 72.5px,#6b0 73.5px,#940 74.5px,#940 75.5px)"></i><i style="background:linear-gradient(#330 0.5px,#340 29.5px,#3e0 30.5px,#410 32.5px,#4e0 60.5px,#530 64.5px,#5c0 69.5px,#6b0 73.5px,#940 74.5px,#940 75.5px)"></i><i style="background:linear-gradient(#370 0.5px,#3b0 53.5px,#3d0 60.5px,#410 65.5px,#480 69.5px,#520 72.5px,#6b0 73.5px,#940 74.5px,#940 75.5px)"></i><i style="background:linear-gradient(#350 0.5px,#370 33.5px,#3f0 34.5px,#400 35.5px,#4c0 60.5px,#500 64.5px,#590 69.5px,#630 72.5px,#6b0 73.5px,#940 74.5px,#940 75.5px)"></i><i style="background:linear-gradient(#380 0.5px,#3c0 53.5px,#3d0 60.5px,#420 65.5px,#480 69.5px,#520 72.5px,#6b0 73.5px,#940 74.5px,#940 75.5px)"></i><i style="background:linear-gradient(#330 0.5px,#350 55.5px,#360 61.5px,#3b0 66.5px,#400 69.5px,#490 72.5px,#6b0 73.5px,#940 74.5px,#940 75.5px)"></i><i style="background:linear-gradient(#320 0.5px,#320 55.5px,#330 61.5px,#380 66.5px,#3d0 69.5px,#460 72.5px,#6b0 73.5px,#940 74.5px,#940 75.5px)"></i><i style="background:linear-gradient(#350 0.5px,#360 37.5px,#3f0 38.5px,#400 39.5px,#4e0 64.5px,#570 69.5px,#610 72.5px,#6b0 73.5px,#940 74.5px,#940 75.5px)"></i><i style="background:linear-gradient(#320 0.5px,#330 55.5px,#340 61.5px,#390 66.5px,#3e0 69.5px,#470 72.5px,#6b0 73.5px,#940 74.5px,#940 75.5px)"></i><i style="background:linear-gradient(#3b0 0.5px,#400 54.5px,#450 65.5px,#4c0 69.5px,#550 72.5px,#6b0 73.5px,#940 74.5px,#940 75.5px)"></i><i style="background:linear-gradient(#390 0.5px,#3d0 54.5px,#430 65.5px,#490 69.5px,#530 72.5px,#6b0 73.5px,#940 74.5px,#940 75.5px)"></i><i style="background:linear-gradient(#340 0.5px,#350 55.5px,#360 61.5px,#3b0 66.5px,#400 69.5px,#490 72.5px,#6b0 73.5px,#940 74.5px,#940 75.5px)"></i><i style="background:linear-gradient(#350 0.5px,#370 55.5px,#380 61.5px,#3d0 66.5px,#420 69.5px,#4b0 72.5px,#6b0 73.5px,#940 74.5px,#940 75.5px)"></i><i style="background:linear-gradient(#340 0.5px,#340 26.5px,#400 27.5px,#410 28.5px,#4e0 60.5px,#530 65.5px,#5d0 70.5px,#6b0 73.5px,#940 74.5px,#940 75.5px)"></i><i style="background:linear-gradient(#360 0.5px,#390 55.5px,#3a0 61.5px,#3f0 66.5px,#440 69.5px,#4e0 72.5px,#6b0 73.5px,#940 74.5px,#940 75.5px)"></i><i style="background:linear-gradient(#360 0.5px,#380 55.5px,#390 61.5px,#3e0 66.5px,#430 69.5px,#4c0 72.5px,#6b0 73.5px,#940 74.5px,#940 75.5px)"></i><i style="background:linear-gradient(#380 0.5px,#3a0 41.5px,#420 42.5px,#510 64.5px,#5a0 69.5px,#640 72.5px,#6b0 73.5px,#940 74.5px,#940 75.5px)"></i><i style="background:linear-gradient(#390 0.5px,#3d0 54.5px,#430 65.5px,#490 69.5px,#530 72.5px,#6b0 73.5px,#940 74.5px,#940 75.5px)"></i><i style="background:linear-gradient(#360 0.5px,#380 55.5px,#3a0 61.5px,#3e0 66.5px,#430 69.5px,#4d0 72.5px,#6b0 73.5px,#940 74.5px,#940 75.5px)"></i><i style="background:linear-gradient(#330 0.5px,#340 55.5px,#350 61.5px,#3a0 66.5px,#3f0 69.5px,#480 72.5px,#6b0 73.5px,#940 74.5px,#940 75.5px)"></i><i style="background:linear-gradient(#360 0.5px,#380 45.5px,#400 46.5px,#4c0 64.5px,#550 69.5px,#5f0 72.5px,#6b0 73.5px,#940 74.5px,#940 75.5px)"></i><i style="background:linear-gradient(#350 0.5px,#370 55.5px,#390 61.5px,#3d0 66.5px,#430 69.5px,#4c0 72.5px,#6b0 73.5px,#940 74.5px,#940 75.5px)"></i><i style="background:linear-gradient(#380 0.5px,#3b0 54.5px,#410 65.5px,#470 69.5px,#510 72.5px,#6b0 73.5px,#940 74.5px,#940 75.5px)"></i><i style="background:linear-gradient(#360 0.5px,#380 55.5px,#390 61.5px,#3e0 66.5px,#430 69.5px,#4d0 72.5px,#6b0 73.5px,#940 74.5px,#940 75.5px)"></i><i style="background:linear-gradient(#370 0.5px,#3b0 55.5px,#3c0 61.5px,#410 66.5px,#460 69.5px,#500 72.5px,#6b0 73.5px,#940 74.5px,#940 75.5px)"></i><i style="background:linear-gradient(#370 0.5px,#390 55.5px,#3b0 61.5px,#400 66.5px,#450 69.5px,#4e0 72.5px,#6b0 73.5px,#940 74.5px,#940 75.5px)"></i><i style="background:linear-gradient(#350 0.5px,#370 48.5px,#3e0 49.5px,#3f0 50.5px,#4a0 64.5px,#530 69.5px,#5e0 72.5px,#6b0 73.5px,#940 74.5px,#940 75.5px)"></i><i style="background:linear-gradient(#350 0.5px,#360 55.5px,#380 61.5px,#3c0 66.5px,#410 69.5px,#4b0 72.5px,#6b0 73.5px,#940 74.5px,#940 75.5px)"></i><i style="background:linear-gradient(#370 0.5px,#3a0 55.5px,#3b0 61.5px,#400 66.5px,#450 69.5px,#4f0 72.5px,#6b0 73.5px,#940 74.5px,#940 75.5px)"></i><i style="background:linear-gradient(#3c0 0.5px,#400 52.5px,#460 53.5px,#520 65.5px,#600 71.5px,#6b0 73.5px,#940 74.5px,#940 75.5px)"></i><i style="background:linear-gradient(#390 0.5px,#3c0 54.5px,#410 65.5px,#480 69.5px,#510 72.5px,#6b0 73.5px,#940 74.5px,#940 75.5px)"></i><i style="background:linear-gradient(#360 0.5px,#380 55.5px,#3a0 61.5px,#3e0 66.5px,#440 69.5px,#4d0 72.5px,#6b0 73.5px,#940 74.5px,#940 75.5px)"></i><i style="background:linear-gradient(#370 0.5px,#3a0 52.5px,#400 53.5px,#4b0 65.5px,#590 71.5px,#5e0 72.5px,#6b0 73.5px,#940 74.5px,#940 75.5px)"></i><i style="background:linear-gradient(#360 0.5px,#390 55.5px,#3a0 61.5px,#3f0 66.5px,#440 69.5px,#4d0 72.5px,#6b0 73.5px,#940 74.5px,#940 75.5px)"></i><i style="background:linear-gradient(#330 0.5px,#340 55.5px,#350 61.5px,#390 66.5px,#3f0 69.5px,#480 72.5px,#6b0 73.5px,#940 74.5px,#940 75.5px)"></i><i style="background:linear-gradient(#360 0.5px,#380 55.5px,#390 61.5px,#3e0 66.5px,#430 69.5px,#4d0 72.5px,#6b0 73.5px,#940 74.5px,#940 75.5px)"></i><i style="background:linear-gradient(#390 0.5px,#3d0 56.5px,#440 57.5px,#510 67.5px,#600 72.5px,#6b0 73.5px,#940 74.5px,#940 75.5px)"></i><i style="background:linear-gradient(#360 0.5px,#380 55.5px,#390 61.5px,#3e0 66.5px,#430 69.5px,#4c0 72.5px,#6b0 73.5px,#940 74.5px,#940 75.5px)"></i><i style="background:linear-gradient(#330 0.5px,#340 55.5px,#350 61.5px,#3a0 66.5px,#3f0 69.5px,#480 72.5px,#6b0 73.5px,#940 74.5px,#940 75.5px)"></i><i style="background:linear-gradient(#360 0.5px,#390 55.5px,#3a0 61.5px,#3f0 66.5px,#440 69.5px,#4d0 72.5px,#6b0 73.5px,#940 74.5px,#940 75.5px)"></i><i style="background:linear-gradient(#3a0 0.5px,#3e0 54.5px,#430 65.5px,#4a0 69.5px,#530 72.5px,#6b0 73.5px,#940 74.5px,#940 75.5px)"></i><i style="background:linear-gradient(#390 0.5px,#3c0 54.5px,#410 65.5px,#480 69.5px,#510 72.5px,#6b0 73.5px,#940 74.5px,#940 75.5px)"></i><i style="background:linear-gradient(#380 0.5px,#3c0 54.5px,#410 65.5px,#480 69.5px,#510 72.5px,#6b0 73.5px,#940 74.5px,#940 75.5px)"></i><i style="background:linear-gradient(#3b0 0.5px,#400 54.5px,#460 65.5px,#4c0 69.5px,#560 72.5px,#6b0 73.5px,#940 74.5px,#940 75.5px)"></i><i style="background:linear-gradient(#3a0 0.5px,#3f0 54.5px,#440 65.5px,#4b0 69.5px,#540 72.5px,#6b0 73.5px,#940 74.5px,#940 75.5px)"></i><i style="background:linear-gradient(#380 0.5px,#3b0 52.5px,#490 53.5px,#5c0 65.5px,#6c0 71.5px,#760 73.5px,#940 74.5px,#940 75.5px)"></i><i style="background:linear-gradient(#360 0.5px,#370 52.5px,#450 53.5px,#580 65.5px,#680 71.5px,#720 73.5px,#940 74.5px,#940 75.5px)"></i><i style="background:linear-gradient(#360 0.5px,#380 55.5px,#3a0 61.5px,#3e0 66.5px,#440 69.5px,#4d0 72.5px,#6b0 73.5px,#940 74.5px,#940 75.5px)"></i><i style="background:linear-gradient(#370 0.5px,#3a0 55.5px,#3c0 61.5px,#410 66.5px,#460 69.5px,#4f0 72.5px,#6b0 73.5px,#940 74.5px,#940 75.5px)"></i><i style="background:linear-gradient(#310 0.5px,#340 54.5px,#350 60.5px,#3b0 66.5px,#400 69.5px,#4a0 72.5px,#6b0 73.5px,#940 74.5px,#940 75.5px)"></i><i style="background:linear-gradient(#350 0.5px,#390 45.5px,#410 46.5px,#4e0 63.5px,#570 68.5px,#640 72.5px,#6b0 73.5px,#940 74.5px,#940 75.5px)"></i><i style="background:linear-gradient(#330 0.5px,#380 47.5px,#3b0 60.5px,#400 65.5px,#470 69.5px,#510 72.5px,#6b0 73.5px,#940 74.5px,#940 75.5px)"></i><i style="background:linear-gradient(#3b0 0.5px,#450 45.5px,#4d0 63.5px,#550 68.5px,#620 72.5px,#6b0 73.5px,#940 74.5px,#940 75.5px)"></i><i style="background:linear-gradient(#3a0 0.5px,#440 45.5px,#4d0 63.5px,#550 68.5px,#620 72.5px,#6b0 73.5px,#940 74.5px,#940 75.5px)"></i><i style="background:linear-gradient(#350 0.5px,#3a0 26.5px,#430 27.5px,#430 28.5px,#580 61.5px,#620 67.5px,#6d0 71.5px,#770 73.5px,#940 74.5px,#940 75.5px)"></i><i style="background:linear-gradient(#300 0.5px,#390 45.5px,#3f0 60.5px,#430 64.5px,#4c0 69.5px,#570 72.5px,#6b0 73.5px,#940 74.5px,#940 75.5px)"></i><i style="background:linear-gradient(#2f0 0.5px,#390 45.5px,#3f0 60.5px,#440 64.5px,#4d0 69.5px,#580 72.5px,#6b0 73.5px,#940 74.5px,#940 75.5px)"></i><i style="background:linear-gradient(#2f0 0.5px,#3a0 45.5px,#450 63.5px,#4e0 68.5px,#5b0 72.5px,#6b0 73.5px,#940 74.5px,#940 75.5px)"></i><i style="background:linear-gradient(#2e0 0.5px,#3a0 45.5px,#410 60.5px,#4f0 75.5px)"></i><i style="background:linear-gradient(#2d0 0.5px,#3a0 45.5px,#420 60.5px,#510 75.5px)"></i><i style="background:linear-gradient(#2e0 0.5px,#310 15.5px,#3e0 45.5px,#470 60.5px,#580 75.5px)"></i><i style="background:linear-gradient(#2f0 0.5px,#310 7.5px,#3a0 8.5px,#3b0 9.5px,#610 60.5px,#750 75.5px)"></i><i style="background:linear-gradient(#2e0 0.5px,#320 15.5px,#420 45.5px,#4d0 60.5px,#610 75.5px)"></i><i style="background:linear-gradient(#2c0 0.5px,#310 15.5px,#430 45.5px,#4e0 60.5px,#630 75.5px)"></i><i style="background:linear-gradient(#2b0 0.5px,#300 15.5px,#430 45.5px,#500 60.5px,#660 75.5px)"></i><i style="background:linear-gradient(#410 0.5px,#490 15.5px,#640 45.5px,#750 60.5px,#8f0 75.5px)"></i><i style="background:linear-gradient(#2d0 0.5px,#2e0 3.5px,#3d0 4.5px,#3f0 5.5px,#7b0 60.5px,#970 75.5px)"></i><i style="background:linear-gradient(#2c0 0.5px,#330 15.5px,#5a0 60.5px,#720 75.5px)"></i><i style="background:linear-gradient(#4d0 0.5px,#580 6.5px,#790 29.5px,#a30 60.5px,#be0 73.5px,#c80 75.5px)"></i><i style="background:linear-gradient(#330 0.5px,#3e0 15.5px,#6a0 60.5px,#840 75.5px)"></i><i style="background:linear-gradient(#380 0.5px,#740 60.5px,#8f0 75.5px)"></i><i style="background:linear-gradient(#3b0 0.5px,#7c0 60.5px,#980 75.5px)"></i><i style="background:linear-gradient(#3f0 0.5px,#840 60.5px,#a00 75.5px)"></i><i style="background:linear-gradient(#3d0 0.5px,#610 30.5px,#810 60.5px,#9d0 75.5px)"></i><i style="background:linear-gradient(#320 0.5px,#410 14.5px,#4a0 15.5px,#610 30.5px,#840 60.5px,#a10 75.5px)"></i><i style="background:linear-gradient(#3d0 0.5px,#630 30.5px,#830 60.5px,#9f0 75.5px)"></i><i style="background:linear-gradient(#2e0 0.5px,#500 30.5px,#6b0 60.5px,#860 75.5px)"></i><i style="background:linear-gradient(#350 0.5px,#5a0 30.5px,#770 60.5px,#940 75.5px)"></i><i style="background:linear-gradient(#340 0.5px,#5a0 30.5px,#770 60.5px,#930 75.5px)"></i><i style="background:linear-gradient(#310 0.5px,#3a0 7.5px,#4e0 8.5px,#5d0 15.5px,#760 30.5px,#9c0 60.5px,#bc0 75.5px)"></i><i style="background:linear-gradient(#3b0 0.5px,#510 15.5px,#640 30.5px,#820 60.5px,#a00 75.5px)"></i><i style="background:linear-gradient(#380 0.5px,#4f0 15.5px,#610 30.5px,#7f0 60.5px,#9c0 75.5px)"></i><i style="background:linear-gradient(#400 0.5px,#580 15.5px,#6a0 29.5px,#8b0 60.5px,#a90 75.5px)"></i><i style="background:linear-gradient(#320 0.5px,#480 14.5px,#500 15.5px,#550 18.5px,#660 30.5px,#870 60.5px,#a60 75.5px)"></i><i style="background:linear-gradient(#3e0 0.5px,#580 15.5px,#6b0 30.5px,#8b0 60.5px,#a90 75.5px)"></i><i style="background:linear-gradient(#3f0 0.5px,#5a0 15.5px,#6d0 30.5px,#8d0 60.5px,#ab0 75.5px)"></i><i style="background:linear-gradient(#3d0 0.5px,#4a0 7.5px,#540 8.5px,#640 15.5px,#7b0 30.5px,#9f0 60.5px,#bf0 75.5px)"></i><i style="background:linear-gradient(#330 0.5px,#4f0 15.5px,#610 30.5px,#7e0 60.5px,#9b0 75.5px)"></i><i style="background:linear-gradient(#390 0.5px,#560 15.5px,#690 30.5px,#880 60.5px,#a60 75.5px)"></i><i style="background:linear-gradient(#310 0.5px,#4e0 15.5px,#600 30.5px,#7d0 60.5px,#990 75.5px)"></i><i style="background:linear-gradient(#2b0 0.5px,#480 15.5px,#5a0 30.5px,#760 60.5px,#910 75.5px)"></i><i style="background:linear-gradient(#530 0.5px,#770 15.5px,#8e0 30.5px,#b70 61.5px,#c00 65.5px,#ee0 72.5px,#ff0 75.5px)"></i><i style="background:linear-gradient(#4a0 0.5px,#6d0 15.5px,#840 30.5px,#aa0 61.5px,#bf0 71.5px,#d80 75.5px)"></i><i style="background:linear-gradient(#4e0 0.5px,#730 15.5px,#8a0 30.5px,#9c0 45.5px,#b20 61.5px,#bf0 67.5px,#eb0 74.5px,#f20 75.5px)"></i><i style="background:linear-gradient(#3e0 0.5px,#610 15.5px,#770 30.5px,#980 60.5px,#b60 75.5px)"></i><i style="background:linear-gradient(#440 0.5px,#680 15.5px,#7e0 30.5px,#a10 60.5px,#c00 75.5px)"></i><i style="background:linear-gradient(#450 0.5px,#690 15.5px,#800 30.5px,#a30 60.5px,#be0 73.5px,#c70 75.5px)"></i><i style="background:linear-gradient(#440 0.5px,#690 15.5px,#7f0 30.5px,#8f0 45.5px,#a30 60.5px,#bd0 73.5px,#c60 75.5px)"></i><i style="background:linear-gradient(#400 0.5px,#640 15.5px,#7a0 30.5px,#890 45.5px,#9c0 60.5px,#ba0 75.5px)"></i><i style="background:linear-gradient(#3d0 0.5px,#610 15.5px,#770 30.5px,#860 45.5px,#990 60.5px,#b70 75.5px)"></i><i style="background:linear-gradient(#350 0.5px,#5c0 15.5px,#720 30.5px,#810 45.5px,#940 60.5px,#b10 75.5px)"></i><i style="background:linear-gradient(#400 0.5px,#650 15.5px,#7c0 30.5px,#8b0 45.5px,#9e0 60.5px,#bd0 75.5px)"></i><i style="background:linear-gradient(#420 0.5px,#680 15.5px,#7f0 30.5px,#8e0 45.5px,#a20 60.5px,#bf0 74.5px,#c40 75.5px)"></i><i style="background:linear-gradient(#480 0.5px,#6f0 15.5px,#870 30.5px,#970 45.5px,#ad0 61.5px,#be0 69.5px,#e20 75.5px)"></i><i style="background:linear-gradient(#3e0 0.5px,#640 15.5px,#7b0 30.5px,#8a0 45.5px,#9d0 60.5px,#bb0 75.5px)"></i><i style="background:linear-gradient(#4c0 0.5px,#740 15.5px,#8d0 30.5px,#b20 60.5px,#bf0 66.5px,#ea0 73.5px,#f70 75.5px)"></i><i style="background:linear-gradient(#3e0 0.5px,#640 15.5px,#7c0 30.5px,#9d0 60.5px,#bb0 75.5px)"></i><i style="background:linear-gradient(#350 0.5px,#5a0 15.5px,#710 30.5px,#8f0 60.5px,#ac0 75.5px)"></i><i style="background:linear-gradient(#4b0 0.5px,#760 15.5px,#900 29.5px,#b70 60.5px,#be0 63.5px,#c10 64.5px,#ee0 71.5px,#ff0 75.5px)"></i><i style="background:linear-gradient(#3c0 0.5px,#630 15.5px,#7b0 30.5px,#9b0 60.5px,#b90 75.5px)"></i><i style="background:linear-gradient(#340 0.5px,#5a0 15.5px,#710 29.5px,#900 60.5px,#ac0 75.5px)"></i><i style="background:linear-gradient(#3d0 0.5px,#650 15.5px,#7d0 29.5px,#9e0 60.5px,#bc0 75.5px)"></i><i style="background:linear-gradient(#440 0.5px,#6d0 15.5px,#870 30.5px,#aa0 61.5px,#bf0 71.5px,#d60 75.5px)"></i><i style="background:linear-gradient(#420 0.5px,#6a0 15.5px,#850 30.5px,#a40 60.5px,#bf0 73.5px,#ca0 75.5px)"></i><i style="background:linear-gradient(#430 0.5px,#6c0 15.5px,#870 30.5px,#a90 61.5px,#bf0 72.5px,#d20 75.5px)"></i><i style="background:linear-gradient(#740 0.5px,#9a0 15.5px,#b50 30.5px,#bf0 39.5px,#ec0 52.5px,#ff0 75.5px)"></i><i style="background:linear-gradient(#9f0 0.5px,#af0 15.5px,#bf0 41.5px,#e20 60.5px,#ef0 64.5px,#ff0 75.5px)"></i><i style="background:linear-gradient(#620 0.5px,#860 15.5px,#9e0 30.5px,#be0 61.5px,#c00 62.5px,#ed0 70.5px,#ff0 75.5px)"></i><i style="background:linear-gradient(#320 0.5px,#590 15.5px,#720 30.5px,#8d0 60.5px,#aa0 75.5px)"></i><i style="background:linear-gradient(#3f0 0.5px,#670 15.5px,#820 30.5px,#a00 60.5px,#be0 75.5px)"></i><i style="background:linear-gradient(#450 0.5px,#6d0 15.5px,#890 30.5px,#ab0 61.5px,#c00 71.5px,#d80 75.5px)"></i><i style="background:linear-gradient(#3d0 0.5px,#640 15.5px,#7f0 30.5px,#9d0 60.5px,#bb0 75.5px)"></i><i style="background:linear-gradient(#380 0.5px,#5e0 15.5px,#780 30.5px,#950 60.5px,#b20 75.5px)"></i><i style="background:linear-gradient(#490 0.5px,#760 15.5px,#940 30.5px,#b70 60.5px,#bf0 64.5px,#ec0 71.5px,#ff0 75.5px)"></i><i style="background:linear-gradient(#3c0 0.5px,#630 15.5px,#7e0 30.5px,#9c0 60.5px,#b90 75.5px)"></i><i style="background:linear-gradient(#3a0 0.5px,#600 15.5px,#7a0 30.5px,#970 60.5px,#b40 75.5px)"></i><i style="background:linear-gradient(#460 0.5px,#6e0 15.5px,#8a0 30.5px,#ac0 61.5px,#bf0 70.5px,#de0 75.5px)"></i><i style="background:linear-gradient(#4a0 0.5px,#720 15.5px,#8f0 30.5px,#b00 60.5px,#bf0 67.5px,#eb0 74.5px,#f10 75.5px)"></i><i style="background:linear-gradient(#430 0.5px,#6a0 15.5px,#860 30.5px,#a70 61.5px,#be0 72.5px,#c10 73.5px,#cd0 75.5px)"></i><i style="background:linear-gradient(#3c0 0.5px,#620 15.5px,#7d0 30.5px,#9a0 60.5px,#b80 75.5px)"></i><i style="background:linear-gradient(#420 0.5px,#680 15.5px,#840 30.5px,#a30 60.5px,#c00 74.5px,#c60 75.5px)"></i><i style="background:linear-gradient(#450 0.5px,#6c0 15.5px,#880 30.5px,#aa0 61.5px,#bf0 71.5px,#d70 75.5px)"></i><i style="background:linear-gradient(#450 0.5px,#6b0 15.5px,#870 30.5px,#a90 61.5px,#c00 72.5px,#d20 75.5px)"></i><i style="background:linear-gradient(#350 0.5px,#580 15.5px,#720 30.5px,#8d0 60.5px,#aa0 75.5px)"></i><i style="background:linear-gradient(#3a0 0.5px,#5d0 15.5px,#770 30.5px,#940 60.5px,#b10 75.5px)"></i><i style="background:linear-gradient(#470 0.5px,#6e0 15.5px,#8a0 30.5px,#ae0 61.5px,#c00 69.5px,#e60 75.5px)"></i><i style="background:linear-gradient(#430 0.5px,#660 15.5px,#7f0 30.5px,#9f0 60.5px,#be0 75.5px)"></i><i style="background:linear-gradient(#470 0.5px,#690 15.5px,#820 30.5px,#a20 60.5px,#bf0 74.5px,#c50 75.5px)"></i><i style="background:linear-gradient(#460 0.5px,#660 15.5px,#7d0 29.5px,#9f0 60.5px,#be0 75.5px)"></i><i style="background:linear-gradient(#370 0.5px,#550 15.5px,#690 29.5px,#870 60.5px,#a40 75.5px)"></i><i style="background:linear-gradient(#370 0.5px,#540 15.5px,#680 29.5px,#850 60.5px,#a20 75.5px)"></i><i style="background:linear-gradient(#320 0.5px,#4e0 15.5px,#620 29.5px,#7d0 60.5px,#9a0 75.5px)"></i><i style="background:linear-gradient(#480 0.5px,#670 15.5px,#7f0 30.5px,#9d0 60.5px,#bd0 75.5px)"></i><i style="width:2px;background:linear-gradient(#400 0.5px,#5d0 15.5px,#740 30.5px,#8f0 60.5px,#ad0 75.5px)"></i><i style="background:linear-gradient(#4c0 0.5px,#6e0 15.5px,#890 30.5px,#aa0 61.5px,#c10 71.5px,#db0 75.5px)"></i><i style="background:linear-gradient(#420 0.5px,#620 15.5px,#7b0 30.5px,#970 60.5px,#b60 75.5px)"></i><i style="background:linear-gradient(#2f0 0.5px,#4d0 30.5px,#5d0 60.5px,#7a0 75.5px)"></i><i style="background:linear-gradient(#310 0.5px,#330 15.5px,#3f0 30.5px,#4c0 60.5px,#690 75.5px)"></i><i style="background:linear-gradient(#340 0.5px,#360 15.5px,#420 30.5px,#510 60.5px,#6e0 75.5px)"></i><i style="background:linear-gradient(#410 0.5px,#450 15.5px,#530 30.5px,#650 60.5px,#840 75.5px)"></i><i style="background:linear-gradient(#3f0 0.5px,#450 15.5px,#530 30.5px,#660 60.5px,#840 75.5px)"></i><i style="background:linear-gradient(#300 0.5px,#3e0 15.5px,#500 30.5px,#650 60.5px,#7e0 75.5px)"></i><i style="background:linear-gradient(#3a0 0.5px,#4a0 15.5px,#5d0 30.5px,#750 60.5px,#8f0 75.5px)"></i><i style="background:linear-gradient(#3c0 0.5px,#600 30.5px,#780 60.5px,#930 75.5px)"></i><i style="background:linear-gradient(#2f0 0.5px,#4f0 30.5px,#640 60.5px,#7d0 75.5px)"></i><i style="background:linear-gradient(#340 0.5px,#540 30.5px,#6a0 60.5px,#850 75.5px)"></i><i style="background:linear-gradient(#270 0.5px,#440 30.5px,#570 60.5px,#700 75.5px)"></i><i style="background:linear-gradient(#360 0.5px,#560 30.5px,#6c0 60.5px,#880 75.5px)"></i><i style="background:linear-gradient(#340 0.5px,#530 30.5px,#690 60.5px,#850 75.5px)"></i><i style="background:linear-gradient(#2b0 0.5px,#480 30.5px,#5b0 60.5px,#770 75.5px)"></i><i style="background:linear-gradient(#2f0 0.5px,#4b0 30.5px,#600 60.5px,#7c0 75.5px)"></i><i style="background:linear-gradient(#360 0.5px,#550 30.5px,#6c0 60.5px,#890 75.5px)"></i></div>
<div class="pn q" style="left:81px;top:250px;width:419px;height:76px"><i style="background:linear-gradient(#8b0 0.5px,#9b0 1.5px,#dd0 4.5px,#de0 75.5px)"></i><i style="background:linear-gradient(#8d0 0.5px,#980 1.5px,#a70 2.5px,#de0 5.5px,#de0 75.5px)"></i><i style="background:linear-gradient(#910 0.5px,#a00 1.5px,#de0 4.5px,#de0 75.5px)"></i><i style="background:linear-gradient(#a20 0.5px,#de0 3.5px,#de0 75.5px)"></i><i style="background:linear-gradient(#910 0.5px,#9d0 1.5px,#ae0 2.5px,#d60 4.5px,#de0 5.5px,#de0 75.5px)"></i><i style="background:linear-gradient(#8d0 0.5px,#980 1.5px,#de0 5.5px,#de0 75.5px)"></i><i style="background:linear-gradient(#9d0 0.5px,#af0 1.5px,#dd0 3.5px,#de0 4.5px,#de0 75.5px)"></i><i style="background:linear-gradient(#930 0.5px,#a30 1.5px,#cd0 3.5px,#de0 4.5px,#de0 75.5px)"></i><i style="background:linear-gradient(#910 0.5px,#9c0 1.5px,#de0 5.5px,#de0 75.5px)"></i><i style="background:linear-gradient(#950 0.5px,#a40 1.5px,#cd0 3.5px,#de0 4.5px,#de0 75.5px)"></i><i style="background:linear-gradient(#9e0 0.5px,#b00 1.5px,#de0 3.5px,#de0 75.5px)"></i><i style="background:linear-gradient(#910 0.5px,#9d0 1.5px,#d60 4.5px,#de0 5.5px,#de0 75.5px)"></i><i style="background:linear-gradient(#990 0.5px,#a50 1.5px,#da0 4.5px,#de0 5.5px,#de0 75.5px)"></i><i style="background:linear-gradient(#9f0 0.5px,#b00 1.5px,#de0 3.5px,#de0 75.5px)"></i><i style="background:linear-gradient(#9f0 0.5px,#af0 1.5px,#d90 3.5px,#de0 4.5px,#de0 75.5px)"></i><i style="background:linear-gradient(#940 0.5px,#9f0 1.5px,#d20 4.5px,#de0 5.5px,#de0 75.5px)"></i><i style="background:linear-gradient(#950 0.5px,#a30 1.5px,#de0 4.5px,#de0 75.5px)"></i><i style="background:linear-gradient(#a40 0.5px,#b60 1.5px,#cd0 2.5px,#de0 3.5px,#de0 75.5px)"></i><i style="background:linear-gradient(#970 0.5px,#a40 1.5px,#dc0 4.5px,#de0 5.5px,#de0 75.5px)"></i><i style="background:linear-gradient(#950 0.5px,#a10 1.5px,#d70 4.5px,#de0 5.5px,#de0 75.5px)"></i><i style="background:linear-gradient(#9d0 0.5px,#af0 1.5px,#dd0 3.5px,#de0 4.5px,#de0 75.5px)"></i><i style="background:linear-gradient(#990 0.5px,#a90 1.5px,#d40 3.5px,#de0 4.5px,#de0 75.5px)"></i><i style="background:linear-gradient(#960 0.5px,#a10 1.5px,#b00 2.5px,#d40 4.5px,#de0 5.5px,#de0 75.5px)"></i><i style="background:linear-gradient(#a70 0.5px,#b60 1.5px,#de0 3.5px,#de0 75.5px)"></i><i style="background:linear-gradient(#9b0 0.5px,#ad0 1.5px,#dd0 3.5px,#de0 4.5px,#de0 75.5px)"></i><i style="background:linear-gradient(#980 0.5px,#a50 1.5px,#dd0 4.5px,#de0 75.5px)"></i><i style="background:linear-gradient(#910 0.5px,#9d0 1.5px,#d20 4.5px,#de0 5.5px,#de0 75.5px)"></i><i style="background:linear-gradient(#a40 0.5px,#de0 3.5px,#de0 75.5px)"></i><i style="background:linear-gradient(#9e0 0.5px,#ae0 1.5px,#d90 3.5px,#de0 4.5px,#de0 75.5px)"></i><i style="background:linear-gradient(#980 0.5px,#a30 1.5px,#d50 4.5px,#de0 5.5px,#de0 75.5px)"></i><i style="background:linear-gradient(#880 0.5px,#970 1.5px,#d60 4.5px,#de0 5.5px,#de0 75.5px)"></i><i style="background:linear-gradient(#9d0 0.5px,#af0 1.5px,#de0 3.5px,#de0 75.5px)"></i><i style="background:linear-gradient(#8f0 0.5px,#9c0 1.5px,#d40 4.5px,#de0 5.5px,#de0 75.5px)"></i><i style="background:linear-gradient(#930 0.5px,#9e0 1.5px,#d40 4.5px,#de0 5.5px,#de0 75.5px)"></i><i style="background:linear-gradient(#9b0 0.5px,#ad0 1.5px,#db0 3.5px,#de0 4.5px,#de0 75.5px)"></i><i style="background:linear-gradient(#980 0.5px,#a80 1.5px,#d20 3.5px,#de0 4.5px,#de0 75.5px)"></i><i style="background:linear-gradient(#960 0.5px,#a00 1.5px,#d30 4.5px,#de0 5.5px,#de0 75.5px)"></i><i style="background:linear-gradient(#a50 0.5px,#b40 1.5px,#dc0 3.5px,#de0 4.5px,#de0 75.5px)"></i><i style="background:linear-gradient(#8f0 0.5px,#a10 1.5px,#d00 3.5px,#de0 4.5px,#de0 75.5px)"></i><i style="background:linear-gradient(#930 0.5px,#a00 1.5px,#d80 4.5px,#de0 5.5px,#de0 75.5px)"></i><i style="background:linear-gradient(#950 0.5px,#a10 1.5px,#d70 4.5px,#de0 5.5px,#de0 75.5px)"></i><i style="background:linear-gradient(#9f0 0.5px,#b10 1.5px,#de0 3.5px,#de0 75.5px)"></i><i style="background:linear-gradient(#9a0 0.5px,#aa0 1.5px,#d40 3.5px,#de0 4.5px,#de0 75.5px)"></i><i style="background:linear-gradient(#890 0.5px,#940 1.5px,#b40 3.5px,#c70 4.5px,#de0 5.5px,#de0 75.5px)"></i><i style="background:linear-gradient(#940 0.5px,#a30 1.5px,#de0 4.5px,#de0 75.5px)"></i><i style="background:linear-gradient(#a50 0.5px,#b70 1.5px,#ce0 2.5px,#de0 3.5px,#de0 75.5px)"></i><i style="background:linear-gradient(#9c0 0.5px,#a80 1.5px,#de0 4.5px,#de0 75.5px)"></i><i style="background:linear-gradient(#940 0.5px,#a00 1.5px,#d50 4.5px,#de0 5.5px,#de0 75.5px)"></i><i style="background:linear-gradient(#9a0 0.5px,#ac0 1.5px,#da0 3.5px,#de0 4.5px,#de0 75.5px)"></i><i style="background:linear-gradient(#9c0 0.5px,#ac0 1.5px,#d70 3.5px,#de0 4.5px,#de0 75.5px)"></i><i style="background:linear-gradient(#900 0.5px,#9b0 1.5px,#aa0 2.5px,#de0 5.5px,#de0 75.5px)"></i><i style="background:linear-gradient(#9d0 0.5px,#ac0 1.5px,#d40 3.5px,#de0 4.5px,#de0 75.5px)"></i><i style="background:linear-gradient(#a10 0.5px,#b30 1.5px,#de0 3.5px,#de0 75.5px)"></i><i style="background:linear-gradient(#910 0.5px,#9e0 1.5px,#d60 4.5px,#de0 5.5px,#de0 75.5px)"></i><i style="background:linear-gradient(#950 0.5px,#a00 1.5px,#d60 4.5px,#de0 5.5px,#de0 75.5px)"></i><i style="background:linear-gradient(#980 0.5px,#aa0 1.5px,#d80 3.5px,#de0 4.5px,#de0 75.5px)"></i><i style="background:linear-gradient(#a10 0.5px,#b10 1.5px,#db0 3.5px,#de0 4.5px,#de0 75.5px)"></i><i style="background:linear-gradient(#990 0.5px,#a30 1.5px,#d60 4.5px,#de0 5.5px,#de0 75.5px)"></i><i style="background:linear-gradient(#920 0.5px,#a10 1.5px,#de0 4.5px,#de0 75.5px)"></i><i style="background:linear-gradient(#a30 0.5px,#de0 3.5px,#de0 75.5px)"></i><i style="background:linear-gradient(#8f0 0.5px,#9c0 1.5px,#d40 4.5px,#de0 5.5px,#de0 75.5px)"></i><i style="background:linear-gradient(#9a0 0.5px,#a60 1.5px,#db0 4.5px,#de0 5.5px,#de0 75.5px)"></i><i style="background:linear-gradient(#a50 0.5px,#b70 1.5px,#cd0 2.5px,#de0 3.5px,#de0 75.5px)"></i><i style="background:linear-gradient(#9a0 0.5px,#aa0 1.5px,#d50 3.5px,#de0 4.5px,#de0 75.5px)"></i><i style="background:linear-gradient(#980 0.5px,#a20 1.5px,#b20 2.5px,#d50 4.5px,#de0 5.5px,#de0 75.5px)"></i><i style="background:linear-gradient(#970 0.5px,#a60 1.5px,#ce0 3.5px,#de0 4.5px,#de0 75.5px)"></i><i style="background:linear-gradient(#9c0 0.5px,#af0 1.5px,#de0 3.5px,#de0 75.5px)"></i><i style="background:linear-gradient(#920 0.5px,#9e0 1.5px,#b00 2.5px,#d70 4.5px,#de0 5.5px,#de0 75.5px)"></i><i style="background:linear-gradient(#930 0.5px,#9e0 1.5px,#d40 4.5px,#de0 5.5px,#de0 75.5px)"></i><i style="background:linear-gradient(#9d0 0.5px,#af0 1.5px,#dd0 3.5px,#de0 75.5px)"></i><i style="background:linear-gradient(#9d0 0.5px,#ad0 1.5px,#d70 3.5px,#de0 4.5px,#de0 75.5px)"></i><i style="background:linear-gradient(#8e0 0.5px,#980 1.5px,#a80 2.5px,#de0 5.5px,#de0 75.5px)"></i><i style="background:linear-gradient(#9e0 0.5px,#ad0 1.5px,#d50 3.5px,#de0 4.5px,#de0 75.5px)"></i><i style="background:linear-gradient(#a70 0.5px,#b90 1.5px,#d00 2.5px,#de0 3.5px,#de0 75.5px)"></i><i style="background:linear-gradient(#920 0.5px,#9f0 1.5px,#d70 4.5px,#de0 5.5px,#de0 75.5px)"></i><i style="background:linear-gradient(#8b0 0.5px,#960 1.5px,#a70 2.5px,#de0 5.5px,#de0 75.5px)"></i><i style="background:linear-gradient(#a40 0.5px,#de0 3.5px,#de0 75.5px)"></i><i style="background:linear-gradient(#a30 0.5px,#b30 1.5px,#dd0 3.5px,#de0 75.5px)"></i><i style="background:linear-gradient(#900 0.5px,#9b0 1.5px,#ab0 2.5px,#de0 5.5px,#de0 75.5px)"></i><i style="background:linear-gradient(#920 0.5px,#a10 1.5px,#de0 4.5px,#de0 75.5px)"></i><i style="background:linear-gradient(#a20 0.5px,#de0 3.5px,#de0 75.5px)"></i><i style="background:linear-gradient(#9f0 0.5px,#ab0 1.5px,#cf0 3.5px,#de0 4.5px,#de0 75.5px)"></i><i style="background:linear-gradient(#880 0.5px,#940 1.5px,#a40 2.5px,#de0 5.5px,#de0 75.5px)"></i><i style="background:linear-gradient(#a20 0.5px,#b40 1.5px,#de0 3.5px,#de0 75.5px)"></i><i style="background:linear-gradient(#9a0 0.5px,#aa0 1.5px,#d40 3.5px,#de0 4.5px,#de0 75.5px)"></i><i style="background:linear-gradient(#8c0 0.5px,#970 1.5px,#a60 2.5px,#de0 5.5px,#de0 75.5px)"></i><i style="background:linear-gradient(#9d0 0.5px,#ab0 1.5px,#d40 3.5px,#de0 4.5px,#de0 75.5px)"></i><i style="background:linear-gradient(#980 0.5px,#ab0 1.5px,#da0 3.5px,#de0 4.5px,#de0 75.5px)"></i><i style="background:linear-gradient(#970 0.5px,#a40 1.5px,#b50 2.5px,#dc0 4.5px,#de0 5.5px,#de0 75.5px)"></i><i style="background:linear-gradient(#9b0 0.5px,#a70 1.5px,#dd0 4.5px,#de0 5.5px,#de0 75.5px)"></i><i style="background:linear-gradient(#a00 0.5px,#b20 1.5px,#de0 3.5px,#de0 75.5px)"></i><i style="background:linear-gradient(#960 0.5px,#a60 1.5px,#d10 3.5px,#de0 4.5px,#de0 75.5px)"></i><i style="background:linear-gradient(#870 0.5px,#910 1.5px,#b20 3.5px,#c40 4.5px,#de0 5.5px,#de0 75.5px)"></i><i style="background:linear-gradient(#920 0.5px,#a10 1.5px,#de0 4.5px,#de0 75.5px)"></i><i style="background:linear-gradient(#950 0.5px,#a70 1.5px,#d60 3.5px,#de0 4.5px,#de0 75.5px)"></i><i style="background:linear-gradient(#9f0 0.5px,#ac0 1.5px,#d00 3.5px,#de0 4.5px,#de0 75.5px)"></i><i style="background:linear-gradient(#920 0.5px,#9e0 1.5px,#d30 4.5px,#de0 5.5px,#de0 75.5px)"></i><i style="background:linear-gradient(#990 0.5px,#ab0 1.5px,#d90 3.5px,#de0 4.5px,#de0 75.5px)"></i><i style="background:linear-gradient(#940 0.5px,#a40 1.5px,#ce0 3.5px,#de0 4.5px,#de0 75.5px)"></i><i style="background:linear-gradient(#8b0 0.5px,#960 1.5px,#a50 2.5px,#c80 4.5px,#de0 5.5px,#de0 75.5px)"></i><i style="background:linear-gradient(#980 0.5px,#a60 1.5px,#cf0 3.5px,#de0 4.5px,#de0 75.5px)"></i><i style="background:linear-gradient(#980 0.5px,#ab0 1.5px,#da0 3.5px,#de0 4.5px,#de0 75.5px)"></i><i style="background:linear-gradient(#9f0 0.5px,#ac0 1.5px,#d00 3.5px,#de0 4.5px,#de0 75.5px)"></i><i style="background:linear-gradient(#8f0 0.5px,#9b0 1.5px,#d00 4.5px,#de0 5.5px,#de0 75.5px)"></i><i style="background:linear-gradient(#9b0 0.5px,#ac0 1.5px,#da0 3.5px,#de0 4.5px,#de0 75.5px)"></i><i style="background:linear-gradient(#9e0 0.5px,#ae0 1.5px,#d80 3.5px,#de0 4.5px,#de0 75.5px)"></i><i style="background:linear-gradient(#9a0 0.5px,#a50 1.5px,#d80 4.5px,#de0 5.5px,#de0 75.5px)"></i><i style="background:linear-gradient(#a20 0.5px,#b10 1.5px,#d90 3.5px,#de0 4.5px,#de0 75.5px)"></i><i style="background:linear-gradient(#9d0 0.5px,#b00 1.5px,#de0 3.5px,#de0 75.5px)"></i><i style="background:linear-gradient(#970 0.5px,#a30 1.5px,#b50 2.5px,#dc0 4.5px,#de0 5.5px,#de0 75.5px)"></i><i style="background:linear-gradient(#940 0.5px,#a00 1.5px,#b00 2.5px,#d60 4.5px,#de0 5.5px,#de0 75.5px)"></i><i style="background:linear-gradient(#a30 0.5px,#b40 1.5px,#de0 3.5px,#de0 75.5px)"></i><i style="background:linear-gradient(#9d0 0.5px,#ad0 1.5px,#d80 3.5px,#de0 4.5px,#de0 75.5px)"></i><i style="background:linear-gradient(#8c0 0.5px,#960 1.5px,#a60 2.5px,#c90 4.5px,#de0 5.5px,#de0 75.5px)"></i><i style="background:linear-gradient(#920 0.5px,#a10 1.5px,#de0 4.5px,#de0 75.5px)"></i><i style="background:linear-gradient(#a10 0.5px,#b40 1.5px,#de0 3.5px,#de0 75.5px)"></i><i style="background:linear-gradient(#8e0 0.5px,#9b0 1.5px,#d30 4.5px,#de0 5.5px,#de0 75.5px)"></i><i style="background:linear-gradient(#9c0 0.5px,#a70 1.5px,#dd0 4.5px,#de0 75.5px)"></i><i style="background:linear-gradient(#a00 0.5px,#b10 1.5px,#de0 3.5px,#de0 75.5px)"></i><i style="background:linear-gradient(#960 0.5px,#a50 1.5px,#d00 3.5px,#de0 4.5px,#de0 75.5px)"></i><i style="background:linear-gradient(#8f0 0.5px,#9a0 1.5px,#aa0 2.5px,#de0 5.5px,#de0 75.5px)"></i><i style="background:linear-gradient(#960 0.5px,#a50 1.5px,#ce0 3.5px,#de0 4.5px,#de0 75.5px)"></i><i style="background:linear-gradient(#a00 0.5px,#b20 1.5px,#de0 3.5px,#de0 75.5px)"></i><i style="background:linear-gradient(#9b0 0.5px,#a80 1.5px,#de0 4.5px,#de0 75.5px)"></i><i style="background:linear-gradient(#7c0 0.5px,#d80 6.5px,#de0 7.5px,#de0 75.5px)"></i><i style="background:linear-gradient(#7c0 0.5px,#d60 6.5px,#de0 7.5px,#de0 75.5px)"></i><i style="background:linear-gradient(#7c0 0.5px,#dc0 7.5px,#de0 8.5px,#de0 75.5px)"></i><i style="background:linear-gradient(#7c0 0.5px,#de0 10.5px,#de0 75.5px)"></i><i style="background:linear-gradient(#7c0 0.5px,#d80 8.5px,#de0 9.5px,#de0 75.5px)"></i><i style="background:linear-gradient(#7c0 0.5px,#d60 6.5px,#de0 7.5px,#de0 26.5px,#b50 27.5px,#b50 55.5px,#de0 56.5px,#de0 75.5px)"></i><i style="background:linear-gradient(#7c0 0.5px,#d90 11.5px,#de0 12.5px,#de0 75.5px)"></i><i style="background:linear-gradient(#7c0 0.5px,#db0 13.5px,#de0 14.5px,#de0 75.5px)"></i><i style="background:linear-gradient(#7c0 0.5px,#db0 7.5px,#de0 8.5px,#de0 26.5px,#b50 27.5px,#b50 55.5px,#de0 56.5px,#de0 75.5px)"></i><i style="background:linear-gradient(#7c0 0.5px,#d70 9.5px,#de0 10.5px,#de0 75.5px)"></i><i style="background:linear-gradient(#7c0 0.5px,#de0 18.5px,#de0 75.5px)"></i><i style="background:linear-gradient(#7c0 0.5px,#d80 11.5px,#de0 12.5px,#de0 75.5px)"></i><i style="background:linear-gradient(#7c0 0.5px,#d40 6.5px,#de0 7.5px,#de0 26.5px,#b50 27.5px,#b50 55.5px,#de0 56.5px,#de0 75.5px)"></i><i style="background:linear-gradient(#7c0 0.5px,#de0 15.5px,#de0 75.5px)"></i><i style="background:linear-gradient(#7c0 0.5px,#dc0 16.5px,#de0 17.5px,#de0 75.5px)"></i><i style="background:linear-gradient(#7c0 0.5px,#d90 7.5px,#de0 8.5px,#de0 26.5px,#b50 27.5px,#b50 55.5px,#de0 56.5px,#de0 75.5px)"></i><i style="background:linear-gradient(#7c0 0.5px,#dd0 10.5px,#de0 75.5px)"></i><i style="background:linear-gradient(#7c0 0.5px,#de0 18.5px,#de0 75.5px)"></i><i style="background:linear-gradient(#7c0 0.5px,#d80 11.5px,#de0 12.5px,#de0 75.5px)"></i><i style="background:linear-gradient(#7c0 0.5px,#d40 6.5px,#de0 7.5px,#de0 75.5px)"></i><i style="background:linear-gradient(#7c0 0.5px,#de0 15.5px,#de0 75.5px)"></i><i style="background:linear-gradient(#7c0 0.5px,#dc0 16.5px,#de0 17.5px,#de0 75.5px)"></i><i style="background:linear-gradient(#7c0 0.5px,#d90 7.5px,#de0 8.5px,#de0 75.5px)"></i><i style="background:linear-gradient(#7c0 0.5px,#dd0 10.5px,#de0 75.5px)"></i><i style="background:linear-gradient(#7c0 0.5px,#de0 18.5px,#de0 75.5px)"></i><i style="background:linear-gradient(#7c0 0.5px,#d80 11.5px,#de0 12.5px,#de0 75.5px)"></i><i style="background:linear-gradient(#7c0 0.5px,#d40 6.5px,#de0 7.5px,#de0 75.5px)"></i><i style="background:linear-gradient(#7c0 0.5px,#de0 15.5px,#de0 75.5px)"></i><i style="background:linear-gradient(#7c0 0.5px,#dc0 16.5px,#de0 17.5px,#de0 75.5px)"></i><i style="background:linear-gradient(#7c0 0.5px,#d90 7.5px,#de0 8.5px,#de0 75.5px)"></i><i style="background:linear-gradient(#7c0 0.5px,#dd0 10.5px,#de0 75.5px)"></i><i style="background:linear-gradient(#7c0 0.5px,#de0 18.5px,#de0 75.5px)"></i><i style="background:linear-gradient(#7c0 0.5px,#d80 11.5px,#de0 12.5px,#de0 75.5px)"></i><i style="background:linear-gradient(#7c0 0.5px,#d40 6.5px,#de0 7.5px,#de0 75.5px)"></i><i style="background:linear-gradient(#7c0 0.5px,#de0 15.5px,#de0 75.5px)"></i><i style="background:linear-gradient(#7c0 0.5px,#dc0 16.5px,#de0 17.5px,#de0 75.5px)"></i><i style="background:linear-gradient(#7c0 0.5px,#d90 7.5px,#de0 8.5px,#de0 75.5px)"></i><i style="background:linear-gradient(#7c0 0.5px,#dd0 10.5px,#de0 25.5px,#d80 27.5px,#d80 50.5px,#d90 54.5px,#de0 57.5px,#de0 75.5px)"></i><i style="background:linear-gradient(#7c0 0.5px,#de0 18.5px,#dd0 25.5px,#cf0 27.5px,#cf0 51.5px,#d20 54.5px,#da0 56.5px,#de0 58.5px,#de0 75.5px)"></i><i style="background:linear-gradient(#7c0 0.5px,#d80 11.5px,#de0 12.5px,#dd0 24.5px,#c80 27.5px,#c70 50.5px,#cc0 54.5px,#d90 57.5px,#dd0 59.5px,#de0 75.5px)"></i><i style="background:linear-gradient(#a60 0.5px,#b80 1.5px,#bd0 2.5px,#c30 8.5px,#d50 9.5px,#de0 10.5px,#de0 23.5px,#c00 27.5px,#bf0 50.5px,#c20 52.5px,#c80 54.5px,#d60 57.5px,#dd0 60.5px,#de0 75.5px)"></i><i style="background:linear-gradient(#9d0 0.5px,#a20 1.5px,#9f0 3.5px,#a60 5.5px,#a70 8.5px,#d20 10.5px,#de0 11.5px,#de0 22.5px,#be0 25.5px,#b10 27.5px,#b10 50.5px,#b20 52.5px,#b90 54.5px,#cb0 57.5px,#d90 60.5px,#dd0 65.5px,#de0 75.5px)"></i><i style="background:linear-gradient(#870 0.5px,#830 3.5px,#8d0 5.5px,#8f0 8.5px,#9e0 9.5px,#cf0 11.5px,#d10 22.5px,#c10 23.5px,#b60 24.5px,#ae0 25.5px,#a50 27.5px,#a50 51.5px,#af0 54.5px,#d30 60.5px,#dd0 65.5px,#dd0 75.5px)"></i><i style="background:linear-gradient(#770 0.5px,#760 3.5px,#850 5.5px,#8d0 8.5px,#930 9.5px,#a10 10.5px,#b70 11.5px,#c00 20.5px,#bd0 22.5px,#b50 23.5px,#a90 25.5px,#a30 27.5px,#a10 50.5px,#a60 52.5px,#c00 56.5px,#cf0 59.5px,#dd0 64.5px,#de0 75.5px)"></i><i style="background:linear-gradient(#700 0.5px,#710 3.5px,#800 5.5px,#8b0 10.5px,#980 11.5px,#970 12.5px,#a60 20.5px,#980 26.5px,#970 51.5px,#9b0 52.5px,#b60 56.5px,#cc0 60.5px,#db0 64.5px,#de0 65.5px,#de0 75.5px)"></i><i style="background:linear-gradient(#6a0 0.5px,#690 3.5px,#780 5.5px,#7a0 6.5px,#7d0 8.5px,#790 12.5px,#8b0 20.5px,#870 22.5px,#860 25.5px,#890 28.5px,#880 51.5px,#8a0 52.5px,#950 54.5px,#be0 60.5px,#da0 65.5px,#db0 75.5px)"></i><i style="background:linear-gradient(#640 0.5px,#660 3.5px,#780 5.5px,#820 8.5px,#860 12.5px,#980 20.5px,#8a0 26.5px,#8a0 51.5px,#8d0 52.5px,#ab0 56.5px,#c30 60.5px,#de0 65.5px,#de0 75.5px)"></i><i style="background:linear-gradient(#5d0 0.5px,#630 3.5px,#770 5.5px,#860 8.5px,#900 11.5px,#a30 20.5px,#900 26.5px,#8e0 28.5px,#8f0 51.5px,#930 52.5px,#b40 56.5px,#dd0 64.5px,#de0 75.5px)"></i><i style="background:linear-gradient(#570 0.5px,#5c0 3.5px,#6e0 5.5px,#7a0 8.5px,#7f0 12.5px,#910 20.5px,#840 26.5px,#840 51.5px,#870 52.5px,#dc0 65.5px,#dc0 75.5px)"></i><i style="background:linear-gradient(#510 0.5px,#570 3.5px,#6a0 5.5px,#760 8.5px,#7c0 12.5px,#8f0 20.5px,#820 26.5px,#830 51.5px,#850 52.5px,#db0 65.5px,#db0 75.5px)"></i><i style="background:linear-gradient(#4a0 0.5px,#550 3.5px,#6b0 5.5px,#7f0 8.5px,#8d0 11.5px,#a20 20.5px,#8f0 26.5px,#8d0 28.5px,#8c0 50.5px,#920 52.5px,#b20 56.5px,#dd0 64.5px,#de0 75.5px)"></i><i style="background:linear-gradient(#440 0.5px,#4f0 3.5px,#660 5.5px,#790 8.5px,#870 11.5px,#900 14.5px,#9c0 20.5px,#8b0 26.5px,#870 28.5px,#850 32.5px,#850 45.5px,#880 50.5px,#8e0 52.5px,#ad0 56.5px,#de0 65.5px,#de0 75.5px)"></i><i style="background:linear-gradient(#3d0 0.5px,#480 3.5px,#5e0 5.5px,#6e0 8.5px,#780 11.5px,#8b0 20.5px,#7f0 26.5px,#770 32.5px,#770 45.5px,#7c0 49.5px,#830 52.5px,#d90 65.5px,#da0 75.5px)"></i><i style="background:linear-gradient(#370 0.5px,#450 3.5px,#5e0 5.5px,#730 8.5px,#830 11.5px,#8c0 14.5px,#980 20.5px,#8f0 24.5px,#7f0 28.5px,#780 32.5px,#780 45.5px,#7f0 49.5px,#8c0 52.5px,#a90 56.5px,#de0 65.5px,#de0 75.5px)"></i><i style="background:linear-gradient(#370 0.5px,#470 3.5px,#600 5.5px,#790 8.5px,#8c0 11.5px,#970 14.5px,#a30 20.5px,#980 24.5px,#850 28.5px,#7d0 32.5px,#7d0 45.5px,#850 49.5px,#930 52.5px,#b40 56.5px,#dd0 64.5px,#de0 75.5px)"></i><i style="background:linear-gradient(#370 0.5px,#440 3.5px,#5c0 5.5px,#6f0 8.5px,#7d0 11.5px,#850 14.5px,#910 20.5px,#890 24.5px,#7c0 28.5px,#740 32.5px,#740 45.5px,#7c0 49.5px,#870 52.5px,#dc0 65.5px,#dc0 75.5px)"></i><i style="background:linear-gradient(#370 0.5px,#440 3.5px,#5b0 5.5px,#6e0 8.5px,#7a0 11.5px,#820 14.5px,#8f0 20.5px,#730 32.5px,#730 45.5px,#7b0 49.5px,#850 52.5px,#db0 65.5px,#db0 75.5px)"></i><i style="background:linear-gradient(#370 0.5px,#460 3.5px,#600 5.5px,#780 8.5px,#8b0 11.5px,#950 14.5px,#a20 20.5px,#970 24.5px,#840 28.5px,#7c0 32.5px,#7c0 45.5px,#840 49.5px,#920 52.5px,#b20 56.5px,#dd0 64.5px,#de0 75.5px)"></i><i style="background:linear-gradient(#370 0.5px,#460 3.5px,#5e0 5.5px,#750 8.5px,#860 11.5px,#900 14.5px,#9c0 20.5px,#920 24.5px,#810 28.5px,#7a0 32.5px,#7a0 45.5px,#810 49.5px,#8e0 52.5px,#ad0 56.5px,#de0 65.5px,#de0 75.5px)"></i><i style="background:linear-gradient(#370 0.5px,#430 3.5px,#5a0 5.5px,#6c0 8.5px,#7f0 14.5px,#8b0 20.5px,#710 32.5px,#710 45.5px,#790 49.5px,#830 52.5px,#d90 65.5px,#da0 75.5px)"></i><i style="background:linear-gradient(#370 0.5px,#450 3.5px,#5e0 5.5px,#730 8.5px,#830 11.5px,#8c0 14.5px,#980 20.5px,#8f0 24.5px,#7f0 28.5px,#780 32.5px,#780 45.5px,#7f0 49.5px,#8c0 52.5px,#a90 56.5px,#de0 65.5px,#de0 75.5px)"></i><i style="background:linear-gradient(#370 0.5px,#470 3.5px,#600 5.5px,#790 8.5px,#8c0 11.5px,#970 14.5px,#a30 20.5px,#980 24.5px,#850 28.5px,#7d0 32.5px,#7d0 45.5px,#850 49.5px,#930 52.5px,#b40 56.5px,#dd0 64.5px,#de0 75.5px)"></i><i style="background:linear-gradient(#370 0.5px,#440 3.5px,#5c0 5.5px,#6f0 8.5px,#7d0 11.5px,#850 14.5px,#910 20.5px,#870 25.5px,#7e0 32.5px,#7e0 45.5px,#840 49.5px,#8c0 52.5px,#c00 60.5px,#dc0 65.5px,#dc0 75.5px)"></i><i style="background:linear-gradient(#460 0.5px,#4f0 3.5px,#640 5.5px,#730 8.5px,#790 10.5px,#860 11.5px,#8c0 14.5px,#970 20.5px,#930 22.5px,#950 24.5px,#920 32.5px,#950 51.5px,#970 52.5px,#a10 54.5px,#c70 60.5px,#dc0 65.5px,#dc0 75.5px)"></i><i style="background:linear-gradient(#560 0.5px,#5d0 3.5px,#720 5.5px,#820 8.5px,#8f0 9.5px,#c20 11.5px,#c90 20.5px,#c70 22.5px,#b40 25.5px,#ad0 27.5px,#ac0 50.5px,#b00 52.5px,#c60 56.5px,#d60 60.5px,#dd0 64.5px,#de0 75.5px)"></i><i style="background:linear-gradient(#900 0.5px,#910 3.5px,#9d0 5.5px,#a40 8.5px,#bf0 9.5px,#d50 10.5px,#de0 11.5px,#de0 22.5px,#c80 25.5px,#bd0 27.5px,#bd0 50.5px,#bf0 52.5px,#c50 54.5px,#d30 57.5px,#db0 60.5px,#de0 75.5px)"></i><i style="background:linear-gradient(#9c0 0.5px,#a60 1.5px,#c70 3.5px,#d30 4.5px,#d40 8.5px,#de0 9.5px,#dd0 24.5px,#cb0 27.5px,#cb0 51.5px,#ce0 54.5px,#da0 57.5px,#dd0 59.5px,#de0 75.5px)"></i><i style="background:linear-gradient(#9b0 0.5px,#aa0 1.5px,#d20 3.5px,#de0 4.5px,#de0 25.5px,#d90 27.5px,#d90 50.5px,#de0 57.5px,#de0 75.5px)"></i><i style="background:linear-gradient(#a70 0.5px,#b90 1.5px,#d00 2.5px,#de0 3.5px,#de0 5.5px,#b00 6.5px,#de0 7.5px,#de0 8.5px,#b00 9.5px,#de0 10.5px,#de0 11.5px,#b00 12.5px,#de0 13.5px,#de0 14.5px,#b00 15.5px,#de0 16.5px,#de0 17.5px,#b00 18.5px,#de0 19.5px,#de0 20.5px,#b00 21.5px,#de0 22.5px,#de0 23.5px,#b00 24.5px,#de0 25.5px,#de0 26.5px,#b00 27.5px,#de0 28.5px,#de0 29.5px,#b00 30.5px,#de0 31.5px,#de0 32.5px,#b00 33.5px,#de0 34.5px,#de0 35.5px,#b00 36.5px,#de0 37.5px,#de0 38.5px,#b00 39.5px,#de0 40.5px,#de0 75.5px)"></i><i style="background:linear-gradient(#940 0.5px,#a00 1.5px,#d90 4.5px,#de0 5.5px,#de0 75.5px)"></i><i style="background:linear-gradient(#990 0.5px,#a50 1.5px,#db0 4.5px,#de0 5.5px,#de0 75.5px)"></i><i style="background:linear-gradient(#9a0 0.5px,#ab0 1.5px,#d90 3.5px,#de0 4.5px,#de0 75.5px)"></i><i style="background:linear-gradient(#a00 0.5px,#b00 1.5px,#da0 3.5px,#de0 4.5px,#de0 75.5px)"></i><i style="background:linear-gradient(#8f0 0.5px,#990 1.5px,#a80 2.5px,#a80 55.5px,#de0 56.5px,#de0 75.5px)"></i><i style="background:linear-gradient(#990 0.5px,#a80 1.5px,#d00 3.5px,#de0 4.5px,#de0 25.5px,#db0 28.5px,#de0 75.5px)"></i><i style="background:linear-gradient(#a40 0.5px,#b60 1.5px,#cd0 2.5px,#de0 3.5px,#de0 24.5px,#d50 28.5px,#d50 48.5px,#d80 54.5px,#de0 58.5px,#de0 75.5px)"></i><i style="background:linear-gradient(#960 0.5px,#a30 1.5px,#c50 3.5px,#c90 8.5px,#db0 9.5px,#de0 10.5px,#de0 23.5px,#db0 24.5px,#c90 27.5px,#c80 28.5px,#c80 48.5px,#ce0 54.5px,#d90 57.5px,#dd0 59.5px,#de0 75.5px)"></i><i style="background:linear-gradient(#850 0.5px,#9e0 7.5px,#9f0 8.5px,#d30 10.5px,#de0 11.5px,#de0 22.5px,#c10 26.5px,#bc0 27.5px,#bb0 28.5px,#bb0 48.5px,#c40 54.5px,#d60 58.5px,#dc0 60.5px,#de0 75.5px)"></i><i style="background:linear-gradient(#570 0.5px,#890 7.5px,#8e0 8.5px,#9c0 9.5px,#cd0 11.5px,#d30 20.5px,#d10 22.5px,#c20 24.5px,#b20 28.5px,#b20 48.5px,#b80 51.5px,#cd0 56.5px,#da0 60.5px,#de0 63.5px,#de0 75.5px)"></i><i style="background:linear-gradient(#500 0.5px,#840 7.5px,#940 10.5px,#a90 11.5px,#b40 14.5px,#bb0 20.5px,#a50 28.5px,#a50 48.5px,#ac0 51.5px,#d00 59.5px,#dc0 63.5px,#de0 75.5px)"></i><i style="background:linear-gradient(#500 0.5px,#7d0 7.5px,#8b0 12.5px,#950 14.5px,#9e0 20.5px,#960 22.5px,#930 28.5px,#930 48.5px,#9a0 51.5px,#a60 54.5px,#da0 64.5px,#db0 75.5px)"></i><i style="background:linear-gradient(#500 0.5px,#820 7.5px,#a20 14.5px,#ab0 20.5px,#9b0 24.5px,#910 28.5px,#910 48.5px,#9a0 51.5px,#de0 64.5px,#de0 75.5px)"></i><i style="background:linear-gradient(#500 0.5px,#870 7.5px,#ac0 14.5px,#b60 20.5px,#940 28.5px,#940 48.5px,#9e0 51.5px,#be0 56.5px,#de0 63.5px,#de0 75.5px)"></i><i style="background:linear-gradient(#500 0.5px,#7f0 7.5px,#9b0 14.5px,#a40 20.5px,#950 24.5px,#8b0 28.5px,#8b0 48.5px,#940 51.5px,#ac0 56.5px,#db0 64.5px,#dc0 75.5px)"></i><i style="background:linear-gradient(#500 0.5px,#7e0 7.5px,#8f0 12.5px,#980 14.5px,#a10 20.5px,#930 24.5px,#8a0 28.5px,#8a0 48.5px,#920 51.5px,#a90 56.5px,#da0 64.5px,#db0 75.5px)"></i><i style="background:linear-gradient(#500 0.5px,#860 7.5px,#ab0 14.5px,#b40 20.5px,#930 28.5px,#930 48.5px,#9d0 51.5px,#bc0 56.5px,#dd0 63.5px,#de0 75.5px)"></i><i style="background:linear-gradient(#500 0.5px,#840 7.5px,#a50 14.5px,#ae0 20.5px,#910 28.5px,#910 48.5px,#9a0 51.5px,#b70 56.5px,#de0 64.5px,#de0 75.5px)"></i><i style="background:linear-gradient(#500 0.5px,#7d0 7.5px,#8b0 12.5px,#950 14.5px,#9e0 20.5px,#900 24.5px,#880 28.5px,#880 48.5px,#900 51.5px,#a60 56.5px,#d90 64.5px,#da0 75.5px)"></i><i style="background:linear-gradient(#580 0.5px,#860 7.5px,#a20 14.5px,#ab0 20.5px,#8f0 28.5px,#8f0 48.5px,#980 51.5px,#de0 64.5px,#de0 75.5px)"></i><i style="background:linear-gradient(#600 0.5px,#8e0 7.5px,#ac0 14.5px,#b60 20.5px,#940 28.5px,#940 48.5px,#9e0 51.5px,#be0 56.5px,#de0 63.5px,#de0 75.5px)"></i><i style="background:linear-gradient(#680 0.5px,#8a0 7.5px,#910 12.5px,#9b0 14.5px,#a40 20.5px,#950 24.5px,#8b0 28.5px,#8b0 48.5px,#940 51.5px,#ac0 56.5px,#db0 64.5px,#dc0 75.5px)"></i><i style="background:linear-gradient(#700 0.5px,#8c0 7.5px,#8f0 12.5px,#980 14.5px,#a10 20.5px,#930 24.5px,#8a0 28.5px,#8a0 48.5px,#920 51.5px,#a90 56.5px,#da0 64.5px,#db0 75.5px)"></i><i style="background:linear-gradient(#710 0.5px,#940 7.5px,#a20 12.5px,#ab0 14.5px,#b40 20.5px,#940 28.5px,#940 48.5px,#9e0 51.5px,#bd0 56.5px,#dd0 63.5px,#de0 75.5px)"></i><i style="background:linear-gradient(#720 0.5px,#920 7.5px,#9c0 12.5px,#a50 14.5px,#ae0 20.5px,#a00 24.5px,#950 28.5px,#950 48.5px,#9e0 51.5px,#b90 56.5px,#de0 64.5px,#de0 75.5px)"></i><i style="background:linear-gradient(#6b0 0.5px,#7a0 2.5px,#8c0 7.5px,#8b0 10.5px,#910 11.5px,#910 12.5px,#9a0 14.5px,#a20 20.5px,#9b0 22.5px,#920 28.5px,#920 48.5px,#9a0 51.5px,#ae0 56.5px,#da0 64.5px,#db0 75.5px)"></i><i style="background:linear-gradient(#700 0.5px,#770 1.5px,#920 7.5px,#960 10.5px,#a90 11.5px,#b10 14.5px,#b80 20.5px,#9e0 28.5px,#9e0 48.5px,#a60 51.5px,#cb0 59.5px,#de0 64.5px,#de0 75.5px)"></i><i style="background:linear-gradient(#740 0.5px,#970 7.5px,#9b0 9.5px,#a70 10.5px,#bf0 11.5px,#c50 14.5px,#ca0 20.5px,#c60 22.5px,#ba0 24.5px,#aa0 28.5px,#aa0 48.5px,#b10 51.5px,#d00 58.5px,#de0 63.5px,#de0 75.5px)"></i><i style="background:linear-gradient(#760 0.5px,#900 7.5px,#930 9.5px,#c70 11.5px,#ca0 12.5px,#cf0 20.5px,#cd0 22.5px,#c30 23.5px,#b60 25.5px,#ad0 27.5px,#ac0 28.5px,#ac0 48.5px,#ba0 54.5px,#d40 60.5px,#dd0 64.5px,#dd0 75.5px)"></i><i style="background:linear-gradient(#770 0.5px,#8f0 7.5px,#8f0 8.5px,#a10 9.5px,#bb0 10.5px,#d90 15.5px,#d90 22.5px,#c00 25.5px,#b50 27.5px,#b40 28.5px,#b40 48.5px,#bf0 54.5px,#d70 60.5px,#dd0 64.5px,#dd0 75.5px)"></i><i style="background:linear-gradient(#780 0.5px,#a00 8.5px,#bc0 9.5px,#d50 10.5px,#de0 11.5px,#de0 22.5px,#da0 23.5px,#c20 27.5px,#c10 28.5px,#c10 48.5px,#c40 51.5px,#d60 57.5px,#dc0 60.5px,#de0 75.5px)"></i><i style="background:linear-gradient(#7f0 0.5px,#8f0 2.5px,#ac0 7.5px,#b00 8.5px,#ce0 9.5px,#dd0 10.5px,#de0 23.5px,#c80 27.5px,#c70 28.5px,#c70 48.5px,#cf0 54.5px,#d80 57.5px,#dd0 60.5px,#de0 75.5px)"></i><i style="background:linear-gradient(#7f0 0.5px,#dc0 17.5px,#de0 18.5px,#dd0 24.5px,#cd0 27.5px,#cd0 28.5px,#cd0 48.5px,#d10 54.5px,#dd0 59.5px,#de0 75.5px)"></i><i style="background:linear-gradient(#7f0 0.5px,#db0 11.5px,#de0 12.5px,#de0 24.5px,#dd0 25.5px,#d50 27.5px,#d50 28.5px,#d50 48.5px,#d80 54.5px,#de0 58.5px,#de0 75.5px)"></i><i style="background:linear-gradient(#7f0 0.5px,#d70 6.5px,#de0 7.5px,#de0 25.5px,#da0 28.5px,#da0 48.5px,#de0 57.5px,#de0 75.5px)"></i><i style="background:linear-gradient(#7f0 0.5px,#da0 14.5px,#de0 15.5px,#de0 75.5px)"></i><i style="background:linear-gradient(#7f0 0.5px,#de0 16.5px,#de0 75.5px)"></i><i style="background:linear-gradient(#7f0 0.5px,#dc0 7.5px,#de0 8.5px,#de0 26.5px,#bf0 27.5px,#bf0 49.5px,#de0 50.5px,#de0 75.5px)"></i><i style="background:linear-gradient(#7f0 0.5px,#d70 9.5px,#de0 10.5px,#de0 75.5px)"></i><i style="background:linear-gradient(#7f0 0.5px,#dc0 17.5px,#de0 18.5px,#de0 75.5px)"></i><i style="background:linear-gradient(#7f0 0.5px,#db0 11.5px,#de0 12.5px,#de0 75.5px)"></i><i style="background:linear-gradient(#7f0 0.5px,#d70 6.5px,#de0 7.5px,#de0 26.5px,#bf0 27.5px,#bf0 49.5px,#de0 50.5px,#de0 75.5px)"></i><i style="background:linear-gradient(#7f0 0.5px,#da0 14.5px,#de0 15.5px,#de0 75.5px)"></i><i style="background:linear-gradient(#7f0 0.5px,#de0 16.5px,#de0 75.5px)"></i><i style="background:linear-gradient(#7f0 0.5px,#dc0 7.5px,#de0 8.5px,#de0 26.5px,#bf0 27.5px,#bf0 49.5px,#de0 50.5px,#de0 75.5px)"></i><i style="background:linear-gradient(#7f0 0.5px,#d70 9.5px,#de0 10.5px,#de0 75.5px)"></i><i style="background:linear-gradient(#7f0 0.5px,#dc0 17.5px,#de0 18.5px,#de0 75.5px)"></i><i style="background:linear-gradient(#7f0 0.5px,#db0 11.5px,#de0 12.5px,#de0 75.5px)"></i><i style="background:linear-gradient(#7f0 0.5px,#d70 6.5px,#de0 7.5px,#de0 26.5px,#bf0 27.5px,#bf0 49.5px,#de0 50.5px,#de0 75.5px)"></i><i style="background:linear-gradient(#7f0 0.5px,#da0 14.5px,#de0 15.5px,#de0 75.5px)"></i><i style="background:linear-gradient(#7f0 0.5px,#db0 15.5px,#de0 16.5px,#de0 75.5px)"></i><i style="background:linear-gradient(#7f0 0.5px,#dd0 7.5px,#de0 26.5px,#bf0 27.5px,#bf0 49.5px,#de0 50.5px,#de0 75.5px)"></i><i style="background:linear-gradient(#7f0 0.5px,#db0 9.5px,#de0 10.5px,#de0 75.5px)"></i><i style="background:linear-gradient(#7f0 0.5px,#dc0 15.5px,#de0 16.5px,#de0 75.5px)"></i><i style="background:linear-gradient(#7f0 0.5px,#dc0 10.5px,#de0 11.5px,#de0 75.5px)"></i><i style="background:linear-gradient(#7f0 0.5px,#d80 6.5px,#de0 7.5px,#de0 26.5px,#bf0 27.5px,#bf0 49.5px,#de0 50.5px,#de0 75.5px)"></i><i style="background:linear-gradient(#7f0 0.5px,#de0 12.5px,#de0 75.5px)"></i><i style="background:linear-gradient(#7f0 0.5px,#db0 12.5px,#de0 13.5px,#de0 75.5px)"></i><i style="background:linear-gradient(#7f0 0.5px,#d30 6.5px,#de0 7.5px,#de0 26.5px,#bf0 27.5px,#bf0 49.5px,#de0 50.5px,#de0 75.5px)"></i><i style="background:linear-gradient(#7f0 0.5px,#dc0 8.5px,#de0 9.5px,#de0 75.5px)"></i><i style="background:linear-gradient(#7f0 0.5px,#d80 11.5px,#de0 12.5px,#de0 75.5px)"></i><i style="background:linear-gradient(#7f0 0.5px,#d80 8.5px,#de0 9.5px,#de0 75.5px)"></i><i style="background:linear-gradient(#7f0 0.5px,#d90 6.5px,#de0 7.5px,#de0 75.5px)"></i><i style="width:2px;background:linear-gradient(#7f0 0.5px,#db0 9.5px,#de0 10.5px,#de0 75.5px)"></i><i style="background:linear-gradient(#7f0 0.5px,#d70 6.5px,#de0 7.5px,#de0 75.5px)"></i><i style="background:linear-gradient(#7f0 0.5px,#de0 7.5px,#de0 75.5px)"></i><i style="background:linear-gradient(#7f0 0.5px,#db0 8.5px,#de0 9.5px,#de0 75.5px)"></i><i style="background:linear-gradient(#7f0 0.5px,#de0 7.5px,#de0 75.5px)"></i><i style="background:linear-gradient(#7f0 0.5px,#da0 6.5px,#de0 7.5px,#de0 75.5px)"></i><i style="background:linear-gradient(#7f0 0.5px,#d50 6.5px,#de0 7.5px,#de0 75.5px)"></i><i style="background:linear-gradient(#960 0.5px,#a10 1.5px,#d70 4.5px,#de0 5.5px,#de0 75.5px)"></i><i style="background:linear-gradient(#9b0 0.5px,#ad0 1.5px,#db0 3.5px,#de0 4.5px,#de0 75.5px)"></i><i style="background:linear-gradient(#890 0.5px,#990 1.5px,#dc0 4.5px,#de0 5.5px,#de0 75.5px)"></i><i style="background:linear-gradient(#910 0.5px,#9c0 1.5px,#ab0 2.5px,#de0 5.5px,#de0 75.5px)"></i><i style="background:linear-gradient(#9d0 0.5px,#ac0 1.5px,#d50 3.5px,#de0 4.5px,#de0 75.5px)"></i><i style="background:linear-gradient(#a70 0.5px,#b90 1.5px,#d00 2.5px,#de0 3.5px,#de0 75.5px)"></i><i style="background:linear-gradient(#910 0.5px,#9e0 1.5px,#af0 2.5px,#d60 4.5px,#de0 5.5px,#de0 75.5px)"></i><i style="background:linear-gradient(#8f0 0.5px,#9b0 1.5px,#d10 4.5px,#de0 5.5px,#de0 75.5px)"></i><i style="background:linear-gradient(#9d0 0.5px,#ae0 1.5px,#dc0 3.5px,#de0 4.5px,#de0 75.5px)"></i><i style="background:linear-gradient(#a10 0.5px,#b10 1.5px,#db0 3.5px,#de0 4.5px,#de0 75.5px)"></i><i style="background:linear-gradient(#8a0 0.5px,#950 1.5px,#a40 2.5px,#c80 4.5px,#de0 5.5px,#de0 75.5px)"></i><i style="background:linear-gradient(#990 0.5px,#a80 1.5px,#d00 3.5px,#de0 4.5px,#de0 75.5px)"></i><i style="background:linear-gradient(#9b0 0.5px,#ad0 1.5px,#dc0 3.5px,#de0 4.5px,#de0 75.5px)"></i><i style="background:linear-gradient(#970 0.5px,#a30 1.5px,#dc0 4.5px,#de0 5.5px,#de0 75.5px)"></i><i style="background:linear-gradient(#8a0 0.5px,#960 1.5px,#a60 2.5px,#de0 5.5px,#de0 75.5px)"></i><i style="background:linear-gradient(#a20 0.5px,#b30 1.5px,#de0 3.5px,#de0 75.5px)"></i><i style="background:linear-gradient(#990 0.5px,#a90 1.5px,#d30 3.5px,#de0 4.5px,#de0 75.5px)"></i><i style="background:linear-gradient(#900 0.5px,#9b0 1.5px,#aa0 2.5px,#de0 5.5px,#de0 75.5px)"></i><i style="background:linear-gradient(#9d0 0.5px,#ac0 1.5px,#d40 3.5px,#de0 4.5px,#de0 75.5px)"></i><i style="background:linear-gradient(#a70 0.5px,#b90 1.5px,#d00 2.5px,#de0 3.5px,#de0 75.5px)"></i><i style="background:linear-gradient(#8b0 0.5px,#970 1.5px,#d00 4.5px,#de0 5.5px,#de0 75.5px)"></i><i style="background:linear-gradient(#9a0 0.5px,#a50 1.5px,#b60 2.5px,#db0 4.5px,#de0 5.5px,#de0 75.5px)"></i><i style="background:linear-gradient(#a30 0.5px,#b40 1.5px,#de0 3.5px,#de0 75.5px)"></i><i style="background:linear-gradient(#9a0 0.5px,#aa0 1.5px,#d40 3.5px,#de0 4.5px,#de0 75.5px)"></i><i style="background:linear-gradient(#9a0 0.5px,#a50 1.5px,#d70 4.5px,#de0 5.5px,#de0 75.5px)"></i><i style="background:linear-gradient(#9b0 0.5px,#aa0 1.5px,#d20 3.5px,#de0 4.5px,#de0 75.5px)"></i><i style="background:linear-gradient(#a80 0.5px,#ba0 1.5px,#d10 2.5px,#de0 3.5px,#de0 75.5px)"></i><i style="background:linear-gradient(#920 0.5px,#9e0 1.5px,#d60 4.5px,#de0 5.5px,#de0 75.5px)"></i><i style="background:linear-gradient(#8e0 0.5px,#9a0 1.5px,#cf0 4.5px,#de0 5.5px,#de0 75.5px)"></i><i style="background:linear-gradient(#a70 0.5px,#b90 1.5px,#cf0 2.5px,#de0 3.5px,#de0 75.5px)"></i><i style="background:linear-gradient(#a90 0.5px,#de0 3.5px,#de0 75.5px)"></i><i style="background:linear-gradient(#950 0.5px,#a00 1.5px,#d30 4.5px,#de0 5.5px,#de0 75.5px)"></i><i style="background:linear-gradient(#9f0 0.5px,#ae0 1.5px,#d60 3.5px,#de0 4.5px,#de0 75.5px)"></i><i style="background:linear-gradient(#9d0 0.5px,#b00 1.5px,#de0 3.5px,#de0 75.5px)"></i><i style="background:linear-gradient(#8d0 0.5px,#9a0 1.5px,#d20 4.5px,#de0 5.5px,#de0 75.5px)"></i><i style="background:linear-gradient(#920 0.5px,#9e0 1.5px,#d30 4.5px,#de0 5.5px,#de0 75.5px)"></i><i style="background:linear-gradient(#a90 0.5px,#ba0 1.5px,#d00 2.5px,#de0 3.5px,#de0 75.5px)"></i><i style="background:linear-gradient(#900 0.5px,#a00 1.5px,#de0 4.5px,#de0 75.5px)"></i><i style="background:linear-gradient(#8e0 0.5px,#990 1.5px,#a80 2.5px,#de0 5.5px,#de0 75.5px)"></i><i style="background:linear-gradient(#8e0 0.5px,#9d0 1.5px,#dc0 4.5px,#de0 5.5px,#de0 75.5px)"></i><i style="background:linear-gradient(#a10 0.5px,#b30 1.5px,#de0 3.5px,#de0 75.5px)"></i><i style="background:linear-gradient(#9b0 0.5px,#a70 1.5px,#de0 4.5px,#de0 75.5px)"></i><i style="background:linear-gradient(#8c0 0.5px,#980 1.5px,#a80 2.5px,#de0 5.5px,#de0 75.5px)"></i><i style="background:linear-gradient(#9d0 0.5px,#af0 1.5px,#dd0 3.5px,#de0 4.5px,#de0 75.5px)"></i><i style="background:linear-gradient(#a40 0.5px,#b40 1.5px,#de0 3.5px,#de0 75.5px)"></i><i style="background:linear-gradient(#910 0.5px,#9c0 1.5px,#ab0 2.5px,#de0 5.5px,#de0 75.5px)"></i><i style="background:linear-gradient(#920 0.5px,#a10 1.5px,#de0 4.5px,#de0 75.5px)"></i><i style="background:linear-gradient(#980 0.5px,#aa0 1.5px,#da0 3.5px,#de0 4.5px,#de0 75.5px)"></i><i style="background:linear-gradient(#890 0.5px,#950 1.5px,#ce0 4.5px,#de0 5.5px,#de0 75.5px)"></i><i style="background:linear-gradient(#980 0.5px,#a40 1.5px,#d90 4.5px,#de0 5.5px,#de0 75.5px)"></i><i style="background:linear-gradient(#9b0 0.5px,#ac0 1.5px,#db0 3.5px,#de0 4.5px,#de0 75.5px)"></i><i style="background:linear-gradient(#a20 0.5px,#b20 1.5px,#dd0 3.5px,#de0 4.5px,#de0 75.5px)"></i><i style="background:linear-gradient(#970 0.5px,#a10 1.5px,#d40 4.5px,#de0 5.5px,#de0 75.5px)"></i><i style="background:linear-gradient(#960 0.5px,#a40 1.5px,#cd0 3.5px,#de0 4.5px,#de0 75.5px)"></i><i style="background:linear-gradient(#9d0 0.5px,#af0 1.5px,#de0 3.5px,#de0 75.5px)"></i><i style="background:linear-gradient(#9a0 0.5px,#a70 1.5px,#de0 4.5px,#de0 75.5px)"></i><i style="background:linear-gradient(#940 0.5px,#a00 1.5px,#d60 4.5px,#de0 5.5px,#de0 75.5px)"></i><i style="background:linear-gradient(#a10 0.5px,#b30 1.5px,#de0 3.5px,#de0 75.5px)"></i><i style="background:linear-gradient(#920 0.5px,#a20 1.5px,#cc0 3.5px,#de0 4.5px,#de0 75.5px)"></i><i style="background:linear-gradient(#970 0.5px,#a20 1.5px,#d40 4.5px,#de0 5.5px,#de0 75.5px)"></i><i style="background:linear-gradient(#940 0.5px,#a30 1.5px,#de0 4.5px,#de0 75.5px)"></i><i style="background:linear-gradient(#920 0.5px,#a50 1.5px,#d40 3.5px,#de0 4.5px,#de0 75.5px)"></i><i style="background:linear-gradient(#910 0.5px,#9e0 1.5px,#d60 4.5px,#de0 5.5px,#de0 75.5px)"></i><i style="background:linear-gradient(#960 0.5px,#a20 1.5px,#d70 4.5px,#de0 5.5px,#de0 75.5px)"></i><i style="background:linear-gradient(#ac0 0.5px,#be0 1.5px,#d40 2.5px,#de0 3.5px,#de0 75.5px)"></i><i style="background:linear-gradient(#9a0 0.5px,#a90 1.5px,#d40 3.5px,#de0 4.5px,#de0 75.5px)"></i><i style="background:linear-gradient(#890 0.5px,#940 1.5px,#b40 3.5px,#c70 4.5px,#de0 5.5px,#de0 75.5px)"></i><i style="background:linear-gradient(#a70 0.5px,#b50 1.5px,#de0 3.5px,#de0 75.5px)"></i><i style="background:linear-gradient(#a10 0.5px,#b30 1.5px,#de0 3.5px,#de0 75.5px)"></i><i style="background:linear-gradient(#940 0.5px,#a00 1.5px,#d80 4.5px,#de0 5.5px,#de0 75.5px)"></i><i style="background:linear-gradient(#8d0 0.5px,#990 1.5px,#de0 5.5px,#de0 75.5px)"></i><i style="background:linear-gradient(#990 0.5px,#ab0 1.5px,#d90 3.5px,#de0 4.5px,#de0 75.5px)"></i><i style="background:linear-gradient(#a50 0.5px,#b50 1.5px,#de0 3.5px,#de0 75.5px)"></i><i style="background:linear-gradient(#900 0.5px,#9b0 1.5px,#aa0 2.5px,#de0 5.5px,#de0 75.5px)"></i><i style="background:linear-gradient(#960 0.5px,#a50 1.5px,#cd0 3.5px,#de0 4.5px,#de0 75.5px)"></i><i style="background:linear-gradient(#9d0 0.5px,#af0 1.5px,#de0 3.5px,#de0 75.5px)"></i><i style="background:linear-gradient(#9f0 0.5px,#ab0 1.5px,#cf0 3.5px,#de0 4.5px,#de0 75.5px)"></i><i style="background:linear-gradient(#900 0.5px,#9c0 1.5px,#d10 4.5px,#de0 5.5px,#de0 75.5px)"></i><i style="background:linear-gradient(#a30 0.5px,#b50 1.5px,#de0 3.5px,#de0 75.5px)"></i><i style="background:linear-gradient(#9d0 0.5px,#ad0 1.5px,#d80 3.5px,#de0 4.5px,#de0 75.5px)"></i><i style="background:linear-gradient(#930 0.5px,#9e0 1.5px,#d00 4.5px,#de0 5.5px,#de0 75.5px)"></i><i style="background:linear-gradient(#940 0.5px,#a30 1.5px,#de0 4.5px,#de0 75.5px)"></i><i style="background:linear-gradient(#a40 0.5px,#b70 1.5px,#cd0 2.5px,#de0 3.5px,#de0 75.5px)"></i><i style="background:linear-gradient(#9f0 0.5px,#ac0 1.5px,#d00 3.5px,#de0 4.5px,#de0 75.5px)"></i><i style="background:linear-gradient(#930 0.5px,#9f0 1.5px,#d40 4.5px,#de0 5.5px,#de0 75.5px)"></i><i style="background:linear-gradient(#9a0 0.5px,#ab0 1.5px,#d90 3.5px,#de0 4.5px,#de0 75.5px)"></i><i style="background:linear-gradient(#940 0.5px,#a40 1.5px,#ce0 3.5px,#de0 4.5px,#de0 75.5px)"></i><i style="background:linear-gradient(#930 0.5px,#9d0 1.5px,#d00 4.5px,#de0 5.5px,#de0 75.5px)"></i><i style="background:linear-gradient(#980 0.5px,#a70 1.5px,#cf0 3.5px,#de0 4.5px,#de0 75.5px)"></i><i style="background:linear-gradient(#a00 0.5px,#b20 1.5px,#de0 3.5px,#de0 75.5px)"></i><i style="background:linear-gradient(#950 0.5px,#a20 1.5px,#da0 4.5px,#de0 5.5px,#de0 75.5px)"></i><i style="background:linear-gradient(#8a0 0.5px,#960 1.5px,#a60 2.5px,#de0 5.5px,#de0 75.5px)"></i><i style="background:linear-gradient(#a40 0.5px,#de0 3.5px,#de0 75.5px)"></i><i style="background:linear-gradient(#9d0 0.5px,#ad0 1.5px,#d80 3.5px,#de0 4.5px,#de0 75.5px)"></i><i style="background:linear-gradient(#910 0.5px,#9c0 1.5px,#ab0 2.5px,#de0 5.5px,#de0 75.5px)"></i><i style="background:linear-gradient(#9b0 0.5px,#aa0 1.5px,#d20 3.5px,#de0 4.5px,#de0 75.5px)"></i><i style="background:linear-gradient(#a60 0.5px,#b80 1.5px,#cf0 2.5px,#de0 3.5px,#de0 75.5px)"></i><i style="background:linear-gradient(#950 0.5px,#a20 1.5px,#b30 2.5px,#da0 4.5px,#de0 5.5px,#de0 75.5px)"></i><i style="background:linear-gradient(#8e0 0.5px,#9a0 1.5px,#cf0 4.5px,#de0 5.5px,#de0 75.5px)"></i><i style="background:linear-gradient(#a60 0.5px,#b80 1.5px,#ce0 2.5px,#de0 3.5px,#de0 75.5px)"></i><i style="background:linear-gradient(#990 0.5px,#a90 1.5px,#d40 3.5px,#de0 4.5px,#de0 75.5px)"></i><i style="background:linear-gradient(#8d0 0.5px,#980 1.5px,#a70 2.5px,#de0 5.5px,#de0 75.5px)"></i><i style="background:linear-gradient(#900 0.5px,#9f0 1.5px,#de0 4.5px,#de0 75.5px)"></i><i style="background:linear-gradient(#a00 0.5px,#b30 1.5px,#de0 3.5px,#de0 75.5px)"></i><i style="background:linear-gradient(#8f0 0.5px,#9b0 1.5px,#d40 4.5px,#de0 5.5px,#de0 75.5px)"></i><i style="background:linear-gradient(#900 0.5px,#9c0 1.5px,#d20 4.5px,#de0 5.5px,#de0 75.5px)"></i><i style="background:linear-gradient(#a20 0.5px,#b40 1.5px,#de0 3.5px,#de0 75.5px)"></i><i style="background:linear-gradient(#9c0 0.5px,#ac0 1.5px,#d60 3.5px,#de0 4.5px,#de0 75.5px)"></i><i style="background:linear-gradient(#980 0.5px,#a20 1.5px,#b20 2.5px,#d50 4.5px,#de0 5.5px,#de0 75.5px)"></i><i style="background:linear-gradient(#9b0 0.5px,#aa0 1.5px,#d30 3.5px,#de0 4.5px,#de0 75.5px)"></i><i style="background:linear-gradient(#9e0 0.5px,#b00 1.5px,#de0 3.5px,#de0 75.5px)"></i><i style="background:linear-gradient(#930 0.5px,#a00 1.5px,#d80 4.5px,#de0 5.5px,#de0 75.5px)"></i><i style="background:linear-gradient(#900 0.5px,#9c0 1.5px,#d20 4.5px,#de0 5.5px,#de0 75.5px)"></i><i style="background:linear-gradient(#a30 0.5px,#de0 3.5px,#de0 75.5px)"></i><i style="background:linear-gradient(#9c0 0.5px,#ac0 1.5px,#d60 3.5px,#de0 4.5px,#de0 75.5px)"></i><i style="background:linear-gradient(#8f0 0.5px,#9a0 1.5px,#a90 2.5px,#de0 5.5px,#de0 75.5px)"></i><i style="background:linear-gradient(#9f0 0.5px,#ae0 1.5px,#d60 3.5px,#de0 4.5px,#de0 75.5px)"></i><i style="background:linear-gradient(#a10 0.5px,#b30 1.5px,#de0 3.5px,#de0 75.5px)"></i><i style="background:linear-gradient(#920 0.5px,#9f0 1.5px,#d70 4.5px,#de0 5.5px,#de0 75.5px)"></i><i style="background:linear-gradient(#8a0 0.5px,#960 1.5px,#a60 2.5px,#de0 5.5px,#de0 75.5px)"></i><i style="background:linear-gradient(#a20 0.5px,#b40 1.5px,#de0 3.5px,#de0 75.5px)"></i><i style="background:linear-gradient(#9d0 0.5px,#ad0 1.5px,#d80 3.5px,#de0 4.5px,#de0 75.5px)"></i><i style="background:linear-gradient(#920 0.5px,#9d0 1.5px,#de0 5.5px,#de0 75.5px)"></i><i style="background:linear-gradient(#970 0.5px,#a60 1.5px,#ce0 3.5px,#de0 4.5px,#de0 75.5px)"></i><i style="background:linear-gradient(#9b0 0.5px,#ad0 1.5px,#dc0 3.5px,#de0 4.5px,#de0 75.5px)"></i><i style="background:linear-gradient(#940 0.5px,#a00 1.5px,#d90 4.5px,#de0 5.5px,#de0 75.5px)"></i><i style="background:linear-gradient(#950 0.5px,#a10 1.5px,#d60 4.5px,#de0 5.5px,#de0 75.5px)"></i><i style="background:linear-gradient(#9f0 0.5px,#b00 1.5px,#de0 3.5px,#de0 75.5px)"></i><i style="background:linear-gradient(#9b0 0.5px,#ab0 1.5px,#d50 3.5px,#de0 4.5px,#de0 75.5px)"></i><i style="background:linear-gradient(#8f0 0.5px,#990 1.5px,#a90 2.5px,#de0 5.5px,#de0 75.5px)"></i><i style="background:linear-gradient(#9c0 0.5px,#aa0 1.5px,#d30 3.5px,#de0 4.5px,#de0 75.5px)"></i><i style="background:linear-gradient(#a20 0.5px,#b40 1.5px,#de0 3.5px,#de0 75.5px)"></i><i style="background:linear-gradient(#910 0.5px,#9d0 1.5px,#ae0 2.5px,#d50 4.5px,#de0 5.5px,#de0 75.5px)"></i><i style="background:linear-gradient(#980 0.5px,#a40 1.5px,#d90 4.5px,#de0 5.5px,#de0 75.5px)"></i><i style="background:linear-gradient(#a40 0.5px,#de0 3.5px,#de0 75.5px)"></i><i style="background:linear-gradient(#a10 0.5px,#b10 1.5px,#db0 3.5px,#de0 4.5px,#de0 75.5px)"></i><i style="background:linear-gradient(#910 0.5px,#9b0 1.5px,#ab0 2.5px,#de0 5.5px,#de0 75.5px)"></i><i style="background:linear-gradient(#980 0.5px,#a70 1.5px,#d00 3.5px,#de0 4.5px,#de0 75.5px)"></i><i style="background:linear-gradient(#990 0.5px,#ab0 1.5px,#da0 3.5px,#de0 4.5px,#de0 75.5px)"></i><i style="background:linear-gradient(#9a0 0.5px,#a60 1.5px,#de0 4.5px,#de0 75.5px)"></i><i style="background:linear-gradient(#860 0.5px,#920 1.5px,#a20 2.5px,#c80 4.5px,#de0 5.5px,#de0 75.5px)"></i><i style="background:linear-gradient(#9d0 0.5px,#af0 1.5px,#dd0 3.5px,#de0 4.5px,#de0 75.5px)"></i><i style="background:linear-gradient(#9a0 0.5px,#aa0 1.5px,#d40 3.5px,#de0 4.5px,#de0 75.5px)"></i><i style="background:linear-gradient(#8b0 0.5px,#d00 4.5px,#de0 5.5px,#de0 75.5px)"></i><i style="background:linear-gradient(#8b0 0.5px,#d80 5.5px,#de0 6.5px,#de0 75.5px)"></i><i style="background:linear-gradient(#8b0 0.5px,#de0 6.5px,#de0 75.5px)"></i><i style="background:linear-gradient(#8b0 0.5px,#d60 6.5px,#de0 7.5px,#de0 75.5px)"></i><i style="background:linear-gradient(#8b0 0.5px,#dc0 7.5px,#de0 8.5px,#de0 75.5px)"></i><i style="background:linear-gradient(#8b0 0.5px,#d50 7.5px,#de0 8.5px,#de0 75.5px)"></i><i style="background:linear-gradient(#8b0 0.5px,#da0 8.5px,#de0 9.5px,#de0 75.5px)"></i><i style="background:linear-gradient(#8b0 0.5px,#de0 9.5px,#de0 75.5px)"></i><i style="background:linear-gradient(#8b0 0.5px,#d90 9.5px,#de0 10.5px,#de0 75.5px)"></i><i style="background:linear-gradient(#8b0 0.5px,#dc0 10.5px,#de0 11.5px,#de0 75.5px)"></i><i style="background:linear-gradient(#8b0 0.5px,#de0 11.5px,#de0 75.5px)"></i><i style="background:linear-gradient(#8b0 0.5px,#db0 11.5px,#de0 12.5px,#de0 75.5px)"></i></div>
<div class="pn b" style="left:81px;top:365px;width:419px;height:76px"><i style="width:419px;background:linear-gradient(#2f0 0.5px,#350 23.5px,#3b0 33.5px,#4c0 45.5px,#850 63.5px,#b50 69.5px,#d50 72.5px,#ea0 75.5px)"></i></div>
<div class="pn b" style="left:81px;top:461px;width:419px;height:76px"><i style="width:419px;background:linear-gradient(#2f0 0.5px,#350 23.5px,#3b0 33.5px,#4c0 45.5px,#850 63.5px,#b50 69.5px,#d50 72.5px,#ea0 75.5px)"></i></div>
<div class="pn b" style="left:81px;top:557px;width:419px;height:76px"><i style="width:156px;background:linear-gradient(#2f0 0.5px,#350 23.5px,#3b0 33.5px,#4c0 45.5px,#850 63.5px,#b50 69.5px,#d50 72.5px,#ea0 75.5px)"></i><i style="width:13px;background:linear-gradient(#2f0 0.5px,#300 5.5px,#380 6.5px,#310 7.5px,#320 10.5px,#500 12.5px,#390 13.5px,#330 14.5px,#340 17.5px,#3a0 18.5px,#340 19.5px,#3b0 33.5px,#4c0 45.5px,#850 63.5px,#b50 69.5px,#d50 72.5px,#ea0 75.5px)"></i><i style="width:57px;background:linear-gradient(#2f0 0.5px,#350 23.5px,#3b0 33.5px,#4c0 45.5px,#850 63.5px,#b50 69.5px,#d50 72.5px,#ea0 75.5px)"></i><i style="width:33px;background:linear-gradient(#2f0 0.5px,#300 5.5px,#380 6.5px,#310 7.5px,#320 10.5px,#500 12.5px,#390 13.5px,#330 14.5px,#340 17.5px,#3a0 18.5px,#340 19.5px,#3b0 33.5px,#4c0 45.5px,#850 63.5px,#b50 69.5px,#d50 72.5px,#ea0 75.5px)"></i><i style="width:160px;background:linear-gradient(#2f0 0.5px,#350 23.5px,#3b0 33.5px,#4c0 45.5px,#850 63.5px,#b50 69.5px,#d50 72.5px,#ea0 75.5px)"></i></div>
<svg id="ov" width="640" height="768" viewBox="0 0 640 768"><defs><linearGradient id="cb" x1="0" y1="0" x2="0" y2="1"><stop offset="0.000" stop-color="rgb(255,0,0)"/><stop offset="0.110" stop-color="rgb(255,80,0)"/><stop offset="0.234" stop-color="rgb(255,180,0)"/><stop offset="0.370" stop-color="rgb(255,255,0)"/><stop offset="0.430" stop-color="rgb(140,250,0)"/><stop offset="0.495" stop-color="rgb(0,240,0)"/><stop offset="0.630" stop-color="rgb(0,255,130)"/><stop offset="0.755" stop-color="rgb(0,255,255)"/><stop offset="0.800" stop-color="rgb(0,150,255)"/><stop offset="0.865" stop-color="rgb(0,0,255)"/><stop offset="1.000" stop-color="rgb(0,0,131)"/></linearGradient></defs>
<rect x="237" y="69" width="13" height="3" fill="rgb(0,255,185)"/>
<rect x="307" y="69" width="33" height="3" fill="rgb(0,255,185)"/>
<rect x="237" y="165" width="13" height="3" fill="rgb(0,255,185)"/>
<rect x="307" y="165" width="33" height="3" fill="rgb(0,255,185)"/>
<rect x="237" y="376" width="13" height="3" fill="rgb(0,255,185)"/>
<rect x="307" y="376" width="33" height="3" fill="rgb(0,255,185)"/>
<rect x="237" y="472" width="13" height="3" fill="rgb(0,255,185)"/>
<rect x="307" y="472" width="33" height="3" fill="rgb(0,255,185)"/>
<rect x="80" y="57" width="421" height="1"/>
<rect x="80" y="133" width="421" height="2"/>
<rect x="80" y="57" width="1" height="78"/>
<rect x="500" y="57" width="1" height="78"/>
<rect x="71" y="58" width="9" height="1"/>
<rect x="501" y="58" width="8" height="1"/>
<rect x="75" y="60" width="5" height="1"/>
<rect x="501" y="60" width="4" height="1"/>
<rect x="75" y="63" width="5" height="1"/>
<rect x="501" y="63" width="4" height="1"/>
<rect x="75" y="65" width="5" height="1"/>
<rect x="501" y="65" width="4" height="1"/>
<rect x="75" y="68" width="5" height="1"/>
<rect x="501" y="68" width="4" height="1"/>
<rect x="71" y="70" width="9" height="1"/>
<rect x="501" y="70" width="8" height="1"/>
<rect x="75" y="73" width="5" height="1"/>
<rect x="501" y="73" width="4" height="1"/>
<rect x="75" y="75" width="5" height="1"/>
<rect x="501" y="75" width="4" height="1"/>
<rect x="75" y="78" width="5" height="1"/>
<rect x="501" y="78" width="4" height="1"/>
<rect x="75" y="81" width="5" height="1"/>
<rect x="501" y="81" width="4" height="1"/>
<rect x="71" y="83" width="9" height="1"/>
<rect x="501" y="83" width="8" height="1"/>
<rect x="75" y="86" width="5" height="1"/>
<rect x="501" y="86" width="4" height="1"/>
<rect x="75" y="88" width="5" height="1"/>
<rect x="501" y="88" width="4" height="1"/>
<rect x="75" y="91" width="5" height="1"/>
<rect x="501" y="91" width="4" height="1"/>
<rect x="75" y="93" width="5" height="1"/>
<rect x="501" y="93" width="4" height="1"/>
<rect x="71" y="96" width="9" height="1"/>
<rect x="501" y="96" width="8" height="1"/>
<rect x="75" y="99" width="5" height="1"/>
<rect x="501" y="99" width="4" height="1"/>
<rect x="75" y="101" width="5" height="1"/>
<rect x="501" y="101" width="4" height="1"/>
<rect x="75" y="104" width="5" height="1"/>
<rect x="501" y="104" width="4" height="1"/>
<rect x="75" y="106" width="5" height="1"/>
<rect x="501" y="106" width="4" height="1"/>
<rect x="71" y="109" width="9" height="1"/>
<rect x="501" y="109" width="8" height="1"/>
<rect x="75" y="111" width="5" height="1"/>
<rect x="501" y="111" width="4" height="1"/>
<rect x="75" y="114" width="5" height="1"/>
<rect x="501" y="114" width="4" height="1"/>
<rect x="75" y="117" width="5" height="1"/>
<rect x="501" y="117" width="4" height="1"/>
<rect x="75" y="119" width="5" height="1"/>
<rect x="501" y="119" width="4" height="1"/>
<rect x="71" y="122" width="9" height="1"/>
<rect x="501" y="122" width="8" height="1"/>
<rect x="75" y="124" width="5" height="1"/>
<rect x="501" y="124" width="4" height="1"/>
<rect x="75" y="127" width="5" height="1"/>
<rect x="501" y="127" width="4" height="1"/>
<rect x="75" y="129" width="5" height="1"/>
<rect x="501" y="129" width="4" height="1"/>
<rect x="75" y="132" width="5" height="1"/>
<rect x="501" y="132" width="4" height="1"/>
<rect x="71" y="134" width="9" height="1"/>
<rect x="501" y="134" width="8" height="1"/>
<rect x="80" y="135" width="1" height="2"/>
<rect x="80" y="56" width="1" height="1"/>
<rect x="115" y="135" width="1" height="1"/>
<rect x="150" y="135" width="1" height="1"/>
<rect x="185" y="135" width="1" height="2"/>
<rect x="185" y="56" width="1" height="1"/>
<rect x="220" y="135" width="1" height="1"/>
<rect x="255" y="135" width="1" height="1"/>
<rect x="290" y="135" width="1" height="2"/>
<rect x="290" y="56" width="1" height="1"/>
<rect x="325" y="135" width="1" height="1"/>
<rect x="360" y="135" width="1" height="1"/>
<rect x="395" y="135" width="1" height="2"/>
<rect x="395" y="56" width="1" height="1"/>
<rect x="430" y="135" width="1" height="1"/>
<rect x="465" y="135" width="1" height="1"/>
<rect x="500" y="135" width="1" height="2"/>
<rect x="500" y="56" width="1" height="1"/>
<text x="67.83" y="66.20" font-size="12.5" text-anchor="end" textLength="16.95" lengthAdjust="spacingAndGlyphs">30</text>
<text x="67.83" y="75.60" font-size="12.5" text-anchor="end" textLength="16.95" lengthAdjust="spacingAndGlyphs">25</text>
<text x="67.83" y="88.60" font-size="12.5" text-anchor="end" textLength="16.95" lengthAdjust="spacingAndGlyphs">20</text>
<text x="67.83" y="101.30" font-size="12.5" text-anchor="end" textLength="16.95" lengthAdjust="spacingAndGlyphs">15</text>
<text x="67.83" y="114.30" font-size="12.5" text-anchor="end" textLength="16.95" lengthAdjust="spacingAndGlyphs">10</text>
<text x="67.86" y="126.60" font-size="12.5" text-anchor="end" textLength="9.72" lengthAdjust="spacingAndGlyphs">5</text>
<text x="67.86" y="134.80" font-size="12.5" text-anchor="end" textLength="9.72" lengthAdjust="spacingAndGlyphs">0</text>
<rect x="80" y="153" width="421" height="1"/>
<rect x="80" y="229" width="421" height="2"/>
<rect x="80" y="153" width="1" height="78"/>
<rect x="500" y="153" width="1" height="78"/>
<rect x="71" y="154" width="9" height="1"/>
<rect x="501" y="154" width="8" height="1"/>
<rect x="75" y="156" width="5" height="1"/>
<rect x="501" y="156" width="4" height="1"/>
<rect x="75" y="159" width="5" height="1"/>
<rect x="501" y="159" width="4" height="1"/>
<rect x="75" y="161" width="5" height="1"/>
<rect x="501" y="161" width="4" height="1"/>
<rect x="75" y="164" width="5" height="1"/>
<rect x="501" y="164" width="4" height="1"/>
<rect x="71" y="166" width="9" height="1"/>
<rect x="501" y="166" width="8" height="1"/>
<rect x="75" y="169" width="5" height="1"/>
<rect x="501" y="169" width="4" height="1"/>
<rect x="75" y="171" width="5" height="1"/>
<rect x="501" y="171" width="4" height="1"/>
<rect x="75" y="174" width="5" height="1"/>
<rect x="501" y="174" width="4" height="1"/>
<rect x="75" y="177" width="5" height="1"/>
<rect x="501" y="177" width="4" height="1"/>
<rect x="71" y="179" width="9" height="1"/>
<rect x="501" y="179" width="8" height="1"/>
<rect x="75" y="182" width="5" height="1"/>
<rect x="501" y="182" width="4" height="1"/>
<rect x="75" y="184" width="5" height="1"/>
<rect x="501" y="184" width="4" height="1"/>
<rect x="75" y="187" width="5" height="1"/>
<rect x="501" y="187" width="4" height="1"/>
<rect x="75" y="189" width="5" height="1"/>
<rect x="501" y="189" width="4" height="1"/>
<rect x="71" y="192" width="9" height="1"/>
<rect x="501" y="192" width="8" height="1"/>
<rect x="75" y="195" width="5" height="1"/>
<rect x="501" y="195" width="4" height="1"/>
<rect x="75" y="197" width="5" height="1"/>
<rect x="501" y="197" width="4" height="1"/>
<rect x="75" y="200" width="5" height="1"/>
<rect x="501" y="200" width="4" height="1"/>
<rect x="75" y="202" width="5" height="1"/>
<rect x="501" y="202" width="4" height="1"/>
<rect x="71" y="205" width="9" height="1"/>
<rect x="501" y="205" width="8" height="1"/>
<rect x="75" y="207" width="5" height="1"/>
<rect x="501" y="207" width="4" height="1"/>
<rect x="75" y="210" width="5" height="1"/>
<rect x="501" y="210" width="4" height="1"/>
<rect x="75" y="213" width="5" height="1"/>
<rect x="501" y="213" width="4" height="1"/>
<rect x="75" y="215" width="5" height="1"/>
<rect x="501" y="215" width="4" height="1"/>
<rect x="71" y="218" width="9" height="1"/>
<rect x="501" y="218" width="8" height="1"/>
<rect x="75" y="220" width="5" height="1"/>
<rect x="501" y="220" width="4" height="1"/>
<rect x="75" y="223" width="5" height="1"/>
<rect x="501" y="223" width="4" height="1"/>
<rect x="75" y="225" width="5" height="1"/>
<rect x="501" y="225" width="4" height="1"/>
<rect x="75" y="228" width="5" height="1"/>
<rect x="501" y="228" width="4" height="1"/>
<rect x="71" y="230" width="9" height="1"/>
<rect x="501" y="230" width="8" height="1"/>
<rect x="80" y="231" width="1" height="2"/>
<rect x="80" y="152" width="1" height="1"/>
<rect x="115" y="231" width="1" height="1"/>
<rect x="150" y="231" width="1" height="1"/>
<rect x="185" y="231" width="1" height="2"/>
<rect x="185" y="152" width="1" height="1"/>
<rect x="220" y="231" width="1" height="1"/>
<rect x="255" y="231" width="1" height="1"/>
<rect x="290" y="231" width="1" height="2"/>
<rect x="290" y="152" width="1" height="1"/>
<rect x="325" y="231" width="1" height="1"/>
<rect x="360" y="231" width="1" height="1"/>
<rect x="395" y="231" width="1" height="2"/>
<rect x="395" y="152" width="1" height="1"/>
<rect x="430" y="231" width="1" height="1"/>
<rect x="465" y="231" width="1" height="1"/>
<rect x="500" y="231" width="1" height="2"/>
<rect x="500" y="152" width="1" height="1"/>
<text x="67.83" y="162.20" font-size="12.5" text-anchor="end" textLength="16.95" lengthAdjust="spacingAndGlyphs">30</text>
<text x="67.83" y="171.60" font-size="12.5" text-anchor="end" textLength="16.95" lengthAdjust="spacingAndGlyphs">25</text>
<text x="67.83" y="184.60" font-size="12.5" text-anchor="end" textLength="16.95" lengthAdjust="spacingAndGlyphs">20</text>
<text x="67.83" y="197.30" font-size="12.5" text-anchor="end" textLength="16.95" lengthAdjust="spacingAndGlyphs">15</text>
<text x="67.83" y="210.30" font-size="12.5" text-anchor="end" textLength="16.95" lengthAdjust="spacingAndGlyphs">10</text>
<text x="67.86" y="222.60" font-size="12.5" text-anchor="end" textLength="9.72" lengthAdjust="spacingAndGlyphs">5</text>
<text x="67.86" y="230.80" font-size="12.5" text-anchor="end" textLength="9.72" lengthAdjust="spacingAndGlyphs">0</text>
<rect x="80" y="249" width="421" height="1"/>
<rect x="80" y="325" width="421" height="2"/>
<rect x="80" y="249" width="1" height="78"/>
<rect x="500" y="249" width="1" height="78"/>
<rect x="71" y="250" width="9" height="1"/>
<rect x="501" y="250" width="8" height="1"/>
<rect x="75" y="252" width="5" height="1"/>
<rect x="501" y="252" width="4" height="1"/>
<rect x="75" y="255" width="5" height="1"/>
<rect x="501" y="255" width="4" height="1"/>
<rect x="75" y="257" width="5" height="1"/>
<rect x="501" y="257" width="4" height="1"/>
<rect x="75" y="260" width="5" height="1"/>
<rect x="501" y="260" width="4" height="1"/>
<rect x="71" y="262" width="9" height="1"/>
<rect x="501" y="262" width="8" height="1"/>
<rect x="75" y="265" width="5" height="1"/>
<rect x="501" y="265" width="4" height="1"/>
<rect x="75" y="267" width="5" height="1"/>
<rect x="501" y="267" width="4" height="1"/>
<rect x="75" y="270" width="5" height="1"/>
<rect x="501" y="270" width="4" height="1"/>
<rect x="75" y="273" width="5" height="1"/>
<rect x="501" y="273" width="4" height="1"/>
<rect x="71" y="275" width="9" height="1"/>
<rect x="501" y="275" width="8" height="1"/>
<rect x="75" y="278" width="5" height="1"/>
<rect x="501" y="278" width="4" height="1"/>
<rect x="75" y="280" width="5" height="1"/>
<rect x="501" y="280" width="4" height="1"/>
<rect x="75" y="283" width="5" height="1"/>
<rect x="501" y="283" width="4" height="1"/>
<rect x="75" y="285" width="5" height="1"/>
<rect x="501" y="285" width="4" height="1"/>
<rect x="71" y="288" width="9" height="1"/>
<rect x="501" y="288" width="8" height="1"/>
<rect x="75" y="291" width="5" height="1"/>
<rect x="501" y="291" width="4" height="1"/>
<rect x="75" y="293" width="5" height="1"/>
<rect x="501" y="293" width="4" height="1"/>
<rect x="75" y="296" width="5" height="1"/>
<rect x="501" y="296" width="4" height="1"/>
<rect x="75" y="298" width="5" height="1"/>
<rect x="501" y="298" width="4" height="1"/>
<rect x="71" y="301" width="9" height="1"/>
<rect x="501" y="301" width="8" height="1"/>
<rect x="75" y="303" width="5" height="1"/>
<rect x="501" y="303" width="4" height="1"/>
<rect x="75" y="306" width="5" height="1"/>
<rect x="501" y="306" width="4" height="1"/>
<rect x="75" y="309" width="5" height="1"/>
<rect x="501" y="309" width="4" height="1"/>
<rect x="75" y="311" width="5" height="1"/>
<rect x="501" y="311" width="4" height="1"/>
<rect x="71" y="314" width="9" height="1"/>
<rect x="501" y="314" width="8" height="1"/>
<rect x="75" y="316" width="5" height="1"/>
<rect x="501" y="316" width="4" height="1"/>
<rect x="75" y="319" width="5" height="1"/>
<rect x="501" y="319" width="4" height="1"/>
<rect x="75" y="321" width="5" height="1"/>
<rect x="501" y="321" width="4" height="1"/>
<rect x="75" y="324" width="5" height="1"/>
<rect x="501" y="324" width="4" height="1"/>
<rect x="71" y="326" width="9" height="1"/>
<rect x="501" y="326" width="8" height="1"/>
<rect x="80" y="327" width="1" height="2"/>
<rect x="80" y="248" width="1" height="1"/>
<rect x="115" y="327" width="1" height="1"/>
<rect x="150" y="327" width="1" height="1"/>
<rect x="185" y="327" width="1" height="2"/>
<rect x="185" y="248" width="1" height="1"/>
<rect x="220" y="327" width="1" height="1"/>
<rect x="255" y="327" width="1" height="1"/>
<rect x="290" y="327" width="1" height="2"/>
<rect x="290" y="248" width="1" height="1"/>
<rect x="325" y="327" width="1" height="1"/>
<rect x="360" y="327" width="1" height="1"/>
<rect x="395" y="327" width="1" height="2"/>
<rect x="395" y="248" width="1" height="1"/>
<rect x="430" y="327" width="1" height="1"/>
<rect x="465" y="327" width="1" height="1"/>
<rect x="500" y="327" width="1" height="2"/>
<rect x="500" y="248" width="1" height="1"/>
<text x="67.83" y="258.20" font-size="12.5" text-anchor="end" textLength="16.95" lengthAdjust="spacingAndGlyphs">30</text>
<text x="67.83" y="267.60" font-size="12.5" text-anchor="end" textLength="16.95" lengthAdjust="spacingAndGlyphs">25</text>
<text x="67.83" y="280.60" font-size="12.5" text-anchor="end" textLength="16.95" lengthAdjust="spacingAndGlyphs">20</text>
<text x="67.83" y="293.30" font-size="12.5" text-anchor="end" textLength="16.95" lengthAdjust="spacingAndGlyphs">15</text>
<text x="67.83" y="306.30" font-size="12.5" text-anchor="end" textLength="16.95" lengthAdjust="spacingAndGlyphs">10</text>
<text x="67.86" y="318.60" font-size="12.5" text-anchor="end" textLength="9.72" lengthAdjust="spacingAndGlyphs">5</text>
<text x="67.86" y="326.80" font-size="12.5" text-anchor="end" textLength="9.72" lengthAdjust="spacingAndGlyphs">0</text>
<rect x="80" y="364" width="421" height="1"/>
<rect x="80" y="440" width="421" height="2"/>
<rect x="80" y="364" width="1" height="78"/>
<rect x="500" y="364" width="1" height="78"/>
<rect x="71" y="364" width="9" height="1"/>
<rect x="501" y="364" width="8" height="1"/>
<rect x="75" y="367" width="5" height="1"/>
<rect x="501" y="367" width="4" height="1"/>
<rect x="75" y="370" width="5" height="1"/>
<rect x="501" y="370" width="4" height="1"/>
<rect x="75" y="372" width="5" height="1"/>
<rect x="501" y="372" width="4" height="1"/>
<rect x="75" y="375" width="5" height="1"/>
<rect x="501" y="375" width="4" height="1"/>
<rect x="71" y="377" width="9" height="1"/>
<rect x="501" y="377" width="8" height="1"/>
<rect x="75" y="380" width="5" height="1"/>
<rect x="501" y="380" width="4" height="1"/>
<rect x="75" y="382" width="5" height="1"/>
<rect x="501" y="382" width="4" height="1"/>
<rect x="75" y="385" width="5" height="1"/>
<rect x="501" y="385" width="4" height="1"/>
<rect x="75" y="388" width="5" height="1"/>
<rect x="501" y="388" width="4" height="1"/>
<rect x="71" y="390" width="9" height="1"/>
<rect x="501" y="390" width="8" height="1"/>
<rect x="75" y="393" width="5" height="1"/>
<rect x="501" y="393" width="4" height="1"/>
<rect x="75" y="395" width="5" height="1"/>
<rect x="501" y="395" width="4" height="1"/>
<rect x="75" y="398" width="5" height="1"/>
<rect x="501" y="398" width="4" height="1"/>
<rect x="75" y="400" width="5" height="1"/>
<rect x="501" y="400" width="4" height="1"/>
<rect x="71" y="403" width="9" height="1"/>
<rect x="501" y="403" width="8" height="1"/>
<rect x="75" y="406" width="5" height="1"/>
<rect x="501" y="406" width="4" height="1"/>
<rect x="75" y="408" width="5" height="1"/>
<rect x="501" y="408" width="4" height="1"/>
<rect x="75" y="411" width="5" height="1"/>
<rect x="501" y="411" width="4" height="1"/>
<rect x="75" y="413" width="5" height="1"/>
<rect x="501" y="413" width="4" height="1"/>
<rect x="71" y="416" width="9" height="1"/>
<rect x="501" y="416" width="8" height="1"/>
<rect x="75" y="418" width="5" height="1"/>
<rect x="501" y="418" width="4" height="1"/>
<rect x="75" y="421" width="5" height="1"/>
<rect x="501" y="421" width="4" height="1"/>
<rect x="75" y="424" width="5" height="1"/>
<rect x="501" y="424" width="4" height="1"/>
<rect x="75" y="426" width="5" height="1"/>
<rect x="501" y="426" width="4" height="1"/>
<rect x="71" y="429" width="9" height="1"/>
<rect x="501" y="429" width="8" height="1"/>
<rect x="75" y="431" width="5" height="1"/>
<rect x="501" y="431" width="4" height="1"/>
<rect x="75" y="434" width="5" height="1"/>
<rect x="501" y="434" width="4" height="1"/>
<rect x="75" y="436" width="5" height="1"/>
<rect x="501" y="436" width="4" height="1"/>
<rect x="75" y="439" width="5" height="1"/>
<rect x="501" y="439" width="4" height="1"/>
<rect x="71" y="441" width="9" height="1"/>
<rect x="501" y="441" width="8" height="1"/>
<rect x="80" y="442" width="1" height="2"/>
<rect x="80" y="363" width="1" height="1"/>
<rect x="115" y="442" width="1" height="1"/>
<rect x="150" y="442" width="1" height="1"/>
<rect x="185" y="442" width="1" height="2"/>
<rect x="185" y="363" width="1" height="1"/>
<rect x="220" y="442" width="1" height="1"/>
<rect x="255" y="442" width="1" height="1"/>
<rect x="290" y="442" width="1" height="2"/>
<rect x="290" y="363" width="1" height="1"/>
<rect x="325" y="442" width="1" height="1"/>
<rect x="360" y="442" width="1" height="1"/>
<rect x="395" y="442" width="1" height="2"/>
<rect x="395" y="363" width="1" height="1"/>
<rect x="430" y="442" width="1" height="1"/>
<rect x="465" y="442" width="1" height="1"/>
<rect x="500" y="442" width="1" height="2"/>
<rect x="500" y="363" width="1" height="1"/>
<text x="67.83" y="373.20" font-size="12.5" text-anchor="end" textLength="16.95" lengthAdjust="spacingAndGlyphs">30</text>
<text x="67.83" y="382.60" font-size="12.5" text-anchor="end" textLength="16.95" lengthAdjust="spacingAndGlyphs">25</text>
<text x="67.83" y="395.60" font-size="12.5" text-anchor="end" textLength="16.95" lengthAdjust="spacingAndGlyphs">20</text>
<text x="67.83" y="408.30" font-size="12.5" text-anchor="end" textLength="16.95" lengthAdjust="spacingAndGlyphs">15</text>
<text x="67.83" y="421.30" font-size="12.5" text-anchor="end" textLength="16.95" lengthAdjust="spacingAndGlyphs">10</text>
<text x="67.86" y="433.60" font-size="12.5" text-anchor="end" textLength="9.72" lengthAdjust="spacingAndGlyphs">5</text>
<text x="67.86" y="441.80" font-size="12.5" text-anchor="end" textLength="9.72" lengthAdjust="spacingAndGlyphs">0</text>
<rect x="80" y="460" width="421" height="1"/>
<rect x="80" y="536" width="421" height="2"/>
<rect x="80" y="460" width="1" height="78"/>
<rect x="500" y="460" width="1" height="78"/>
<rect x="71" y="460" width="9" height="1"/>
<rect x="501" y="460" width="8" height="1"/>
<rect x="75" y="463" width="5" height="1"/>
<rect x="501" y="463" width="4" height="1"/>
<rect x="75" y="466" width="5" height="1"/>
<rect x="501" y="466" width="4" height="1"/>
<rect x="75" y="468" width="5" height="1"/>
<rect x="501" y="468" width="4" height="1"/>
<rect x="75" y="471" width="5" height="1"/>
<rect x="501" y="471" width="4" height="1"/>
<rect x="71" y="473" width="9" height="1"/>
<rect x="501" y="473" width="8" height="1"/>
<rect x="75" y="476" width="5" height="1"/>
<rect x="501" y="476" width="4" height="1"/>
<rect x="75" y="478" width="5" height="1"/>
<rect x="501" y="478" width="4" height="1"/>
<rect x="75" y="481" width="5" height="1"/>
<rect x="501" y="481" width="4" height="1"/>
<rect x="75" y="484" width="5" height="1"/>
<rect x="501" y="484" width="4" height="1"/>
<rect x="71" y="486" width="9" height="1"/>
<rect x="501" y="486" width="8" height="1"/>
<rect x="75" y="489" width="5" height="1"/>
<rect x="501" y="489" width="4" height="1"/>
<rect x="75" y="491" width="5" height="1"/>
<rect x="501" y="491" width="4" height="1"/>
<rect x="75" y="494" width="5" height="1"/>
<rect x="501" y="494" width="4" height="1"/>
<rect x="75" y="496" width="5" height="1"/>
<rect x="501" y="496" width="4" height="1"/>
<rect x="71" y="499" width="9" height="1"/>
<rect x="501" y="499" width="8" height="1"/>
<rect x="75" y="502" width="5" height="1"/>
<rect x="501" y="502" width="4" height="1"/>
<rect x="75" y="504" width="5" height="1"/>
<rect x="501" y="504" width="4" height="1"/>
<rect x="75" y="507" width="5" height="1"/>
<rect x="501" y="507" width="4" height="1"/>
<rect x="75" y="509" width="5" height="1"/>
<rect x="501" y="509" width="4" height="1"/>
<rect x="71" y="512" width="9" height="1"/>
<rect x="501" y="512" width="8" height="1"/>
<rect x="75" y="514" width="5" height="1"/>
<rect x="501" y="514" width="4" height="1"/>
<rect x="75" y="517" width="5" height="1"/>
<rect x="501" y="517" width="4" height="1"/>
<rect x="75" y="520" width="5" height="1"/>
<rect x="501" y="520" width="4" height="1"/>
<rect x="75" y="522" width="5" height="1"/>
<rect x="501" y="522" width="4" height="1"/>
<rect x="71" y="525" width="9" height="1"/>
<rect x="501" y="525" width="8" height="1"/>
<rect x="75" y="527" width="5" height="1"/>
<rect x="501" y="527" width="4" height="1"/>
<rect x="75" y="530" width="5" height="1"/>
<rect x="501" y="530" width="4" height="1"/>
<rect x="75" y="532" width="5" height="1"/>
<rect x="501" y="532" width="4" height="1"/>
<rect x="75" y="535" width="5" height="1"/>
<rect x="501" y="535" width="4" height="1"/>
<rect x="71" y="537" width="9" height="1"/>
<rect x="501" y="537" width="8" height="1"/>
<rect x="80" y="538" width="1" height="2"/>
<rect x="80" y="459" width="1" height="1"/>
<rect x="115" y="538" width="1" height="1"/>
<rect x="150" y="538" width="1" height="1"/>
<rect x="185" y="538" width="1" height="2"/>
<rect x="185" y="459" width="1" height="1"/>
<rect x="220" y="538" width="1" height="1"/>
<rect x="255" y="538" width="1" height="1"/>
<rect x="290" y="538" width="1" height="2"/>
<rect x="290" y="459" width="1" height="1"/>
<rect x="325" y="538" width="1" height="1"/>
<rect x="360" y="538" width="1" height="1"/>
<rect x="395" y="538" width="1" height="2"/>
<rect x="395" y="459" width="1" height="1"/>
<rect x="430" y="538" width="1" height="1"/>
<rect x="465" y="538" width="1" height="1"/>
<rect x="500" y="538" width="1" height="2"/>
<rect x="500" y="459" width="1" height="1"/>
<text x="67.83" y="469.20" font-size="12.5" text-anchor="end" textLength="16.95" lengthAdjust="spacingAndGlyphs">30</text>
<text x="67.83" y="478.60" font-size="12.5" text-anchor="end" textLength="16.95" lengthAdjust="spacingAndGlyphs">25</text>
<text x="67.83" y="491.60" font-size="12.5" text-anchor="end" textLength="16.95" lengthAdjust="spacingAndGlyphs">20</text>
<text x="67.83" y="504.30" font-size="12.5" text-anchor="end" textLength="16.95" lengthAdjust="spacingAndGlyphs">15</text>
<text x="67.83" y="517.30" font-size="12.5" text-anchor="end" textLength="16.95" lengthAdjust="spacingAndGlyphs">10</text>
<text x="67.86" y="529.60" font-size="12.5" text-anchor="end" textLength="9.72" lengthAdjust="spacingAndGlyphs">5</text>
<text x="67.86" y="537.80" font-size="12.5" text-anchor="end" textLength="9.72" lengthAdjust="spacingAndGlyphs">0</text>
<rect x="80" y="556" width="421" height="1"/>
<rect x="80" y="632" width="421" height="2"/>
<rect x="80" y="556" width="1" height="78"/>
<rect x="500" y="556" width="1" height="78"/>
<rect x="71" y="556" width="9" height="1"/>
<rect x="501" y="556" width="8" height="1"/>
<rect x="75" y="559" width="5" height="1"/>
<rect x="501" y="559" width="4" height="1"/>
<rect x="75" y="562" width="5" height="1"/>
<rect x="501" y="562" width="4" height="1"/>
<rect x="75" y="564" width="5" height="1"/>
<rect x="501" y="564" width="4" height="1"/>
<rect x="75" y="567" width="5" height="1"/>
<rect x="501" y="567" width="4" height="1"/>
<rect x="71" y="569" width="9" height="1"/>
<rect x="501" y="569" width="8" height="1"/>
<rect x="75" y="572" width="5" height="1"/>
<rect x="501" y="572" width="4" height="1"/>
<rect x="75" y="574" width="5" height="1"/>
<rect x="501" y="574" width="4" height="1"/>
<rect x="75" y="577" width="5" height="1"/>
<rect x="501" y="577" width="4" height="1"/>
<rect x="75" y="580" width="5" height="1"/>
<rect x="501" y="580" width="4" height="1"/>
<rect x="71" y="582" width="9" height="1"/>
<rect x="501" y="582" width="8" height="1"/>
<rect x="75" y="585" width="5" height="1"/>
<rect x="501" y="585" width="4" height="1"/>
<rect x="75" y="587" width="5" height="1"/>
<rect x="501" y="587" width="4" height="1"/>
<rect x="75" y="590" width="5" height="1"/>
<rect x="501" y="590" width="4" height="1"/>
<rect x="75" y="592" width="5" height="1"/>
<rect x="501" y="592" width="4" height="1"/>
<rect x="71" y="595" width="9" height="1"/>
<rect x="501" y="595" width="8" height="1"/>
<rect x="75" y="598" width="5" height="1"/>
<rect x="501" y="598" width="4" height="1"/>
<rect x="75" y="600" width="5" height="1"/>
<rect x="501" y="600" width="4" height="1"/>
<rect x="75" y="603" width="5" height="1"/>
<rect x="501" y="603" width="4" height="1"/>
<rect x="75" y="605" width="5" height="1"/>
<rect x="501" y="605" width="4" height="1"/>
<rect x="71" y="608" width="9" height="1"/>
<rect x="501" y="608" width="8" height="1"/>
<rect x="75" y="610" width="5" height="1"/>
<rect x="501" y="610" width="4" height="1"/>
<rect x="75" y="613" width="5" height="1"/>
<rect x="501" y="613" width="4" height="1"/>
<rect x="75" y="616" width="5" height="1"/>
<rect x="501" y="616" width="4" height="1"/>
<rect x="75" y="618" width="5" height="1"/>
<rect x="501" y="618" width="4" height="1"/>
<rect x="71" y="621" width="9" height="1"/>
<rect x="501" y="621" width="8" height="1"/>
<rect x="75" y="623" width="5" height="1"/>
<rect x="501" y="623" width="4" height="1"/>
<rect x="75" y="626" width="5" height="1"/>
<rect x="501" y="626" width="4" height="1"/>
<rect x="75" y="628" width="5" height="1"/>
<rect x="501" y="628" width="4" height="1"/>
<rect x="75" y="631" width="5" height="1"/>
<rect x="501" y="631" width="4" height="1"/>
<rect x="71" y="633" width="9" height="1"/>
<rect x="501" y="633" width="8" height="1"/>
<rect x="80" y="634" width="1" height="2"/>
<rect x="80" y="555" width="1" height="1"/>
<rect x="115" y="634" width="1" height="1"/>
<rect x="150" y="634" width="1" height="1"/>
<rect x="185" y="634" width="1" height="2"/>
<rect x="185" y="555" width="1" height="1"/>
<rect x="220" y="634" width="1" height="1"/>
<rect x="255" y="634" width="1" height="1"/>
<rect x="290" y="634" width="1" height="2"/>
<rect x="290" y="555" width="1" height="1"/>
<rect x="325" y="634" width="1" height="1"/>
<rect x="360" y="634" width="1" height="1"/>
<rect x="395" y="634" width="1" height="2"/>
<rect x="395" y="555" width="1" height="1"/>
<rect x="430" y="634" width="1" height="1"/>
<rect x="465" y="634" width="1" height="1"/>
<rect x="500" y="634" width="1" height="2"/>
<rect x="500" y="555" width="1" height="1"/>
<text x="67.83" y="565.20" font-size="12.5" text-anchor="end" textLength="16.95" lengthAdjust="spacingAndGlyphs">30</text>
<text x="67.83" y="574.60" font-size="12.5" text-anchor="end" textLength="16.95" lengthAdjust="spacingAndGlyphs">25</text>
<text x="67.83" y="587.60" font-size="12.5" text-anchor="end" textLength="16.95" lengthAdjust="spacingAndGlyphs">20</text>
<text x="67.83" y="600.30" font-size="12.5" text-anchor="end" textLength="16.95" lengthAdjust="spacingAndGlyphs">15</text>
<text x="67.83" y="613.30" font-size="12.5" text-anchor="end" textLength="16.95" lengthAdjust="spacingAndGlyphs">10</text>
<text x="67.86" y="625.60" font-size="12.5" text-anchor="end" textLength="9.72" lengthAdjust="spacingAndGlyphs">5</text>
<text x="67.86" y="633.80" font-size="12.5" text-anchor="end" textLength="9.72" lengthAdjust="spacingAndGlyphs">0</text>
<text transform="translate(39,97.0) rotate(-90)" x="0" y="0" font-size="14" text-anchor="middle" textLength="85.83" lengthAdjust="spacingAndGlyphs" stroke="#fff" stroke-width="0.2">Ex’ freq (Hz)</text>
<text transform="translate(39,193.0) rotate(-90)" x="0" y="0" font-size="14" text-anchor="middle" textLength="85.83" lengthAdjust="spacingAndGlyphs" stroke="#fff" stroke-width="0.2">Ey’ freq (Hz)</text>
<text transform="translate(39,289.0) rotate(-90)" x="0" y="0" font-size="14" text-anchor="middle" textLength="81.80" lengthAdjust="spacingAndGlyphs" stroke="#fff" stroke-width="0.2">Ez freq (Hz)</text>
<text transform="translate(39,404.0) rotate(-90)" x="0" y="0" font-size="14" text-anchor="middle" textLength="85.83" lengthAdjust="spacingAndGlyphs" stroke="#fff" stroke-width="0.2">Bx’ freq (Hz)</text>
<text transform="translate(39,500.0) rotate(-90)" x="0" y="0" font-size="14" text-anchor="middle" textLength="85.83" lengthAdjust="spacingAndGlyphs" stroke="#fff" stroke-width="0.2">By’ freq (Hz)</text>
<text transform="translate(39,596.0) rotate(-90)" x="0" y="0" font-size="14" text-anchor="middle" textLength="81.80" lengthAdjust="spacingAndGlyphs" stroke="#fff" stroke-width="0.2">Bz freq (Hz)</text>
<text x="290.00" y="33.00" font-size="16.5" text-anchor="middle" textLength="338.20" lengthAdjust="spacingAndGlyphs" stroke="#fff" stroke-width="0.45">Polar PWI LFWR Channels 1 – 6 Despun</text>
<text x="561.94" y="36.80" font-size="9.3" text-anchor="start" textLength="55.93" lengthAdjust="spacingAndGlyphs">(V/m)²/Hz</text>
<text x="572.34" y="343.70" font-size="9.3" text-anchor="start" textLength="34.32" lengthAdjust="spacingAndGlyphs">nT²/Hz</text>
<text x="637.52" y="766.00" font-size="8.3" text-anchor="end" textLength="67.05" lengthAdjust="spacingAndGlyphs" font-weight="bold">UIowa 19980803</text>
<text x="14.77" y="654.00" font-size="12.5" text-anchor="start" textLength="33.96" lengthAdjust="spacingAndGlyphs">SCET</text>
<text x="80.00" y="654.00" font-size="12.5" text-anchor="middle" textLength="63.91" lengthAdjust="spacingAndGlyphs">00:00 15</text>
<text x="185.00" y="654.00" font-size="12.5" text-anchor="middle" textLength="63.91" lengthAdjust="spacingAndGlyphs">06:00 15</text>
<text x="290.00" y="654.00" font-size="12.5" text-anchor="middle" textLength="63.91" lengthAdjust="spacingAndGlyphs">12:00 15</text>
<text x="395.00" y="654.00" font-size="12.5" text-anchor="middle" textLength="63.91" lengthAdjust="spacingAndGlyphs">18:00 15</text>
<text x="500.00" y="654.00" font-size="12.5" text-anchor="middle" textLength="63.91" lengthAdjust="spacingAndGlyphs">00:00 16</text>
<text x="101.83" y="672.00" font-size="12.5" text-anchor="end" textLength="28.66" lengthAdjust="spacingAndGlyphs">8.46</text>
<text x="206.83" y="672.00" font-size="12.5" text-anchor="end" textLength="28.66" lengthAdjust="spacingAndGlyphs">7.78</text>
<text x="311.83" y="672.00" font-size="12.5" text-anchor="end" textLength="28.66" lengthAdjust="spacingAndGlyphs">2.82</text>
<text x="416.83" y="672.00" font-size="12.5" text-anchor="end" textLength="28.66" lengthAdjust="spacingAndGlyphs">8.60</text>
<text x="521.83" y="672.00" font-size="12.5" text-anchor="end" textLength="28.66" lengthAdjust="spacingAndGlyphs">7.52</text>
<text x="101.84" y="690.00" font-size="12.5" text-anchor="end" textLength="36.68" lengthAdjust="spacingAndGlyphs">88.13</text>
<text x="206.84" y="690.00" font-size="12.5" text-anchor="end" textLength="36.68" lengthAdjust="spacingAndGlyphs">63.92</text>
<text x="311.84" y="690.00" font-size="12.5" text-anchor="end" textLength="36.68" lengthAdjust="spacingAndGlyphs">13.26</text>
<text x="275.78" y="690.00" font-size="12.5" text-anchor="end" textLength="11.45" lengthAdjust="spacingAndGlyphs">−</text>
<text x="416.84" y="690.00" font-size="12.5" text-anchor="end" textLength="36.68" lengthAdjust="spacingAndGlyphs">76.42</text>
<text x="521.84" y="690.00" font-size="12.5" text-anchor="end" textLength="36.68" lengthAdjust="spacingAndGlyphs">48.79</text>
<text x="101.83" y="708.00" font-size="12.5" text-anchor="end" textLength="28.66" lengthAdjust="spacingAndGlyphs">4.26</text>
<text x="206.83" y="708.00" font-size="12.5" text-anchor="end" textLength="28.66" lengthAdjust="spacingAndGlyphs">6.70</text>
<text x="311.84" y="708.00" font-size="12.5" text-anchor="end" textLength="36.68" lengthAdjust="spacingAndGlyphs">17.86</text>
<text x="416.84" y="708.00" font-size="12.5" text-anchor="end" textLength="36.68" lengthAdjust="spacingAndGlyphs">22.99</text>
<text x="521.83" y="708.00" font-size="12.5" text-anchor="end" textLength="28.66" lengthAdjust="spacingAndGlyphs">5.37</text>
<text x="100.72" y="731.00" font-size="17" text-anchor="end" textLength="41.74" lengthAdjust="spacingAndGlyphs">******</text>
<text x="206.84" y="726.00" font-size="12.5" text-anchor="end" textLength="36.68" lengthAdjust="spacingAndGlyphs">40.30</text>
<text x="311.83" y="726.00" font-size="12.5" text-anchor="end" textLength="28.66" lengthAdjust="spacingAndGlyphs">2.94</text>
<text x="416.84" y="726.00" font-size="12.5" text-anchor="end" textLength="44.69" lengthAdjust="spacingAndGlyphs">155.52</text>
<text x="521.84" y="726.00" font-size="12.5" text-anchor="end" textLength="36.68" lengthAdjust="spacingAndGlyphs">17.21</text>
<text x="42.86" y="672.00" font-size="12.5" text-anchor="end" textLength="12.11" lengthAdjust="spacingAndGlyphs">R</text>
<text x="48.59" y="675.50" font-size="8.5" text-anchor="end" textLength="7.69" lengthAdjust="spacingAndGlyphs">E</text>
<text x="41.36" y="690.00" font-size="12.5" text-anchor="end" textLength="8.91" lengthAdjust="spacingAndGlyphs">λ</text>
<text x="48.59" y="693.50" font-size="8.5" text-anchor="end" textLength="9.32" lengthAdjust="spacingAndGlyphs">m</text>
<text x="48.75" y="708.00" font-size="12.5" text-anchor="end" textLength="25.50" lengthAdjust="spacingAndGlyphs">MLT</text>
<text x="48.86" y="726.00" font-size="12.5" text-anchor="end" textLength="9.72" lengthAdjust="spacingAndGlyphs">L</text>
<text x="290.00" y="744.00" font-size="12.5" text-anchor="middle" textLength="287.02" lengthAdjust="spacingAndGlyphs">1997/01/15 00:00 to 1997/01/16 00:00</text>
<rect x="581" y="58" width="19" height="76" fill="url(#cb)"/>
<rect x="580" y="57" width="1" height="78"/>
<rect x="600" y="57" width="1" height="78"/>
<rect x="576" y="57" width="4" height="1"/>
<rect x="601" y="57" width="4" height="1"/>
<rect x="578" y="70" width="2" height="1"/>
<rect x="601" y="70" width="2" height="1"/>
<rect x="578" y="67" width="2" height="1"/>
<rect x="601" y="67" width="2" height="1"/>
<rect x="578" y="65" width="2" height="1"/>
<rect x="601" y="65" width="2" height="1"/>
<rect x="578" y="63" width="2" height="1"/>
<rect x="601" y="63" width="2" height="1"/>
<rect x="578" y="61" width="2" height="1"/>
<rect x="601" y="61" width="2" height="1"/>
<rect x="578" y="60" width="2" height="1"/>
<rect x="601" y="60" width="2" height="1"/>
<rect x="578" y="59" width="2" height="1"/>
<rect x="601" y="59" width="2" height="1"/>
<rect x="578" y="58" width="2" height="1"/>
<rect x="601" y="58" width="2" height="1"/>
<rect x="576" y="76" width="4" height="1"/>
<rect x="601" y="76" width="4" height="1"/>
<rect x="578" y="90" width="2" height="1"/>
<rect x="601" y="90" width="2" height="1"/>
<rect x="578" y="86" width="2" height="1"/>
<rect x="601" y="86" width="2" height="1"/>
<rect x="578" y="84" width="2" height="1"/>
<rect x="601" y="84" width="2" height="1"/>
<rect x="578" y="82" width="2" height="1"/>
<rect x="601" y="82" width="2" height="1"/>
<rect x="578" y="81" width="2" height="1"/>
<rect x="601" y="81" width="2" height="1"/>
<rect x="578" y="79" width="2" height="1"/>
<rect x="601" y="79" width="2" height="1"/>
<rect x="578" y="78" width="2" height="1"/>
<rect x="601" y="78" width="2" height="1"/>
<rect x="578" y="77" width="2" height="1"/>
<rect x="601" y="77" width="2" height="1"/>
<rect x="576" y="96" width="4" height="1"/>
<rect x="601" y="96" width="4" height="1"/>
<rect x="578" y="109" width="2" height="1"/>
<rect x="601" y="109" width="2" height="1"/>
<rect x="578" y="106" width="2" height="1"/>
<rect x="601" y="106" width="2" height="1"/>
<rect x="578" y="103" width="2" height="1"/>
<rect x="601" y="103" width="2" height="1"/>
<rect x="578" y="101" width="2" height="1"/>
<rect x="601" y="101" width="2" height="1"/>
<rect x="578" y="100" width="2" height="1"/>
<rect x="601" y="100" width="2" height="1"/>
<rect x="578" y="98" width="2" height="1"/>
<rect x="601" y="98" width="2" height="1"/>
<rect x="578" y="97" width="2" height="1"/>
<rect x="601" y="97" width="2" height="1"/>
<rect x="578" y="96" width="2" height="1"/>
<rect x="601" y="96" width="2" height="1"/>
<rect x="576" y="115" width="4" height="1"/>
<rect x="601" y="115" width="4" height="1"/>
<rect x="578" y="128" width="2" height="1"/>
<rect x="601" y="128" width="2" height="1"/>
<rect x="578" y="125" width="2" height="1"/>
<rect x="601" y="125" width="2" height="1"/>
<rect x="578" y="122" width="2" height="1"/>
<rect x="601" y="122" width="2" height="1"/>
<rect x="578" y="121" width="2" height="1"/>
<rect x="601" y="121" width="2" height="1"/>
<rect x="578" y="119" width="2" height="1"/>
<rect x="601" y="119" width="2" height="1"/>
<rect x="578" y="118" width="2" height="1"/>
<rect x="601" y="118" width="2" height="1"/>
<rect x="578" y="117" width="2" height="1"/>
<rect x="601" y="117" width="2" height="1"/>
<rect x="578" y="116" width="2" height="1"/>
<rect x="601" y="116" width="2" height="1"/>
<rect x="576" y="134" width="4" height="1"/>
<rect x="601" y="134" width="4" height="1"/>
<text x="551.78" y="66.40" font-size="12.5" text-anchor="end" textLength="16.06" lengthAdjust="spacingAndGlyphs">10</text>
<text x="571.71" y="59.80" font-size="12.5" text-anchor="end" textLength="8.02" lengthAdjust="spacingAndGlyphs">6</text>
<text x="564.47" y="59.80" font-size="12.5" text-anchor="end" textLength="12.54" lengthAdjust="spacingAndGlyphs">−</text>
<text x="551.78" y="82.70" font-size="12.5" text-anchor="end" textLength="16.06" lengthAdjust="spacingAndGlyphs">10</text>
<text x="571.71" y="75.70" font-size="12.5" text-anchor="end" textLength="8.02" lengthAdjust="spacingAndGlyphs">7</text>
<text x="564.47" y="75.70" font-size="12.5" text-anchor="end" textLength="12.54" lengthAdjust="spacingAndGlyphs">−</text>
<text x="551.78" y="101.30" font-size="12.5" text-anchor="end" textLength="16.06" lengthAdjust="spacingAndGlyphs">10</text>
<text x="571.71" y="94.90" font-size="12.5" text-anchor="end" textLength="8.02" lengthAdjust="spacingAndGlyphs">8</text>
<text x="564.47" y="94.90" font-size="12.5" text-anchor="end" textLength="12.54" lengthAdjust="spacingAndGlyphs">−</text>
<text x="551.78" y="120.20" font-size="12.5" text-anchor="end" textLength="16.06" lengthAdjust="spacingAndGlyphs">10</text>
<text x="571.71" y="113.90" font-size="12.5" text-anchor="end" textLength="8.02" lengthAdjust="spacingAndGlyphs">9</text>
<text x="564.47" y="113.90" font-size="12.5" text-anchor="end" textLength="12.54" lengthAdjust="spacingAndGlyphs">−</text>
<text x="544.22" y="134.70" font-size="12.5" text-anchor="end" textLength="14.85" lengthAdjust="spacingAndGlyphs">10</text>
<text x="571.81" y="128.30" font-size="12.5" text-anchor="end" textLength="16.62" lengthAdjust="spacingAndGlyphs">10</text>
<text x="555.86" y="128.30" font-size="12.5" text-anchor="end" textLength="10.13" lengthAdjust="spacingAndGlyphs">−</text>
<rect x="581" y="154" width="19" height="76" fill="url(#cb)"/>
<rect x="580" y="153" width="1" height="78"/>
<rect x="600" y="153" width="1" height="78"/>
<rect x="576" y="153" width="4" height="1"/>
<rect x="601" y="153" width="4" height="1"/>
<rect x="578" y="166" width="2" height="1"/>
<rect x="601" y="166" width="2" height="1"/>
<rect x="578" y="163" width="2" height="1"/>
<rect x="601" y="163" width="2" height="1"/>
<rect x="578" y="161" width="2" height="1"/>
<rect x="601" y="161" width="2" height="1"/>
<rect x="578" y="159" width="2" height="1"/>
<rect x="601" y="159" width="2" height="1"/>
<rect x="578" y="157" width="2" height="1"/>
<rect x="601" y="157" width="2" height="1"/>
<rect x="578" y="156" width="2" height="1"/>
<rect x="601" y="156" width="2" height="1"/>
<rect x="578" y="155" width="2" height="1"/>
<rect x="601" y="155" width="2" height="1"/>
<rect x="578" y="154" width="2" height="1"/>
<rect x="601" y="154" width="2" height="1"/>
<rect x="576" y="172" width="4" height="1"/>
<rect x="601" y="172" width="4" height="1"/>
<rect x="578" y="186" width="2" height="1"/>
<rect x="601" y="186" width="2" height="1"/>
<rect x="578" y="182" width="2" height="1"/>
<rect x="601" y="182" width="2" height="1"/>
<rect x="578" y="180" width="2" height="1"/>
<rect x="601" y="180" width="2" height="1"/>
<rect x="578" y="178" width="2" height="1"/>
<rect x="601" y="178" width="2" height="1"/>
<rect x="578" y="177" width="2" height="1"/>
<rect x="601" y="177" width="2" height="1"/>
<rect x="578" y="175" width="2" height="1"/>
<rect x="601" y="175" width="2" height="1"/>
<rect x="578" y="174" width="2" height="1"/>
<rect x="601" y="174" width="2" height="1"/>
<rect x="578" y="173" width="2" height="1"/>
<rect x="601" y="173" width="2" height="1"/>
<rect x="576" y="192" width="4" height="1"/>
<rect x="601" y="192" width="4" height="1"/>
<rect x="578" y="205" width="2" height="1"/>
<rect x="601" y="205" width="2" height="1"/>
<rect x="578" y="202" width="2" height="1"/>
<rect x="601" y="202" width="2" height="1"/>
<rect x="578" y="199" width="2" height="1"/>
<rect x="601" y="199" width="2" height="1"/>
<rect x="578" y="197" width="2" height="1"/>
<rect x="601" y="197" width="2" height="1"/>
<rect x="578" y="196" width="2" height="1"/>
<rect x="601" y="196" width="2" height="1"/>
<rect x="578" y="194" width="2" height="1"/>
<rect x="601" y="194" width="2" height="1"/>
<rect x="578" y="193" width="2" height="1"/>
<rect x="601" y="193" width="2" height="1"/>
<rect x="578" y="192" width="2" height="1"/>
<rect x="601" y="192" width="2" height="1"/>
<rect x="576" y="211" width="4" height="1"/>
<rect x="601" y="211" width="4" height="1"/>
<rect x="578" y="224" width="2" height="1"/>
<rect x="601" y="224" width="2" height="1"/>
<rect x="578" y="221" width="2" height="1"/>
<rect x="601" y="221" width="2" height="1"/>
<rect x="578" y="218" width="2" height="1"/>
<rect x="601" y="218" width="2" height="1"/>
<rect x="578" y="217" width="2" height="1"/>
<rect x="601" y="217" width="2" height="1"/>
<rect x="578" y="215" width="2" height="1"/>
<rect x="601" y="215" width="2" height="1"/>
<rect x="578" y="214" width="2" height="1"/>
<rect x="601" y="214" width="2" height="1"/>
<rect x="578" y="213" width="2" height="1"/>
<rect x="601" y="213" width="2" height="1"/>
<rect x="578" y="212" width="2" height="1"/>
<rect x="601" y="212" width="2" height="1"/>
<rect x="576" y="230" width="4" height="1"/>
<rect x="601" y="230" width="4" height="1"/>
<text x="551.78" y="162.40" font-size="12.5" text-anchor="end" textLength="16.06" lengthAdjust="spacingAndGlyphs">10</text>
<text x="571.71" y="155.80" font-size="12.5" text-anchor="end" textLength="8.02" lengthAdjust="spacingAndGlyphs">6</text>
<text x="564.47" y="155.80" font-size="12.5" text-anchor="end" textLength="12.54" lengthAdjust="spacingAndGlyphs">−</text>
<text x="551.78" y="178.70" font-size="12.5" text-anchor="end" textLength="16.06" lengthAdjust="spacingAndGlyphs">10</text>
<text x="571.71" y="171.70" font-size="12.5" text-anchor="end" textLength="8.02" lengthAdjust="spacingAndGlyphs">7</text>
<text x="564.47" y="171.70" font-size="12.5" text-anchor="end" textLength="12.54" lengthAdjust="spacingAndGlyphs">−</text>
<text x="551.78" y="197.30" font-size="12.5" text-anchor="end" textLength="16.06" lengthAdjust="spacingAndGlyphs">10</text>
<text x="571.71" y="190.90" font-size="12.5" text-anchor="end" textLength="8.02" lengthAdjust="spacingAndGlyphs">8</text>
<text x="564.47" y="190.90" font-size="12.5" text-anchor="end" textLength="12.54" lengthAdjust="spacingAndGlyphs">−</text>
<text x="551.78" y="216.20" font-size="12.5" text-anchor="end" textLength="16.06" lengthAdjust="spacingAndGlyphs">10</text>
<text x="571.71" y="209.90" font-size="12.5" text-anchor="end" textLength="8.02" lengthAdjust="spacingAndGlyphs">9</text>
<text x="564.47" y="209.90" font-size="12.5" text-anchor="end" textLength="12.54" lengthAdjust="spacingAndGlyphs">−</text>
<text x="544.22" y="230.70" font-size="12.5" text-anchor="end" textLength="14.85" lengthAdjust="spacingAndGlyphs">10</text>
<text x="571.81" y="224.30" font-size="12.5" text-anchor="end" textLength="16.62" lengthAdjust="spacingAndGlyphs">10</text>
<text x="555.86" y="224.30" font-size="12.5" text-anchor="end" textLength="10.13" lengthAdjust="spacingAndGlyphs">−</text>
<rect x="581" y="250" width="19" height="76" fill="url(#cb)"/>
<rect x="580" y="249" width="1" height="78"/>
<rect x="600" y="249" width="1" height="78"/>
<rect x="576" y="249" width="4" height="1"/>
<rect x="601" y="249" width="4" height="1"/>
<rect x="578" y="267" width="2" height="1"/>
<rect x="601" y="267" width="2" height="1"/>
<rect x="578" y="262" width="2" height="1"/>
<rect x="601" y="262" width="2" height="1"/>
<rect x="578" y="259" width="2" height="1"/>
<rect x="601" y="259" width="2" height="1"/>
<rect x="578" y="257" width="2" height="1"/>
<rect x="601" y="257" width="2" height="1"/>
<rect x="578" y="255" width="2" height="1"/>
<rect x="601" y="255" width="2" height="1"/>
<rect x="578" y="253" width="2" height="1"/>
<rect x="601" y="253" width="2" height="1"/>
<rect x="578" y="251" width="2" height="1"/>
<rect x="601" y="251" width="2" height="1"/>
<rect x="578" y="250" width="2" height="1"/>
<rect x="601" y="250" width="2" height="1"/>
<rect x="576" y="275" width="4" height="1"/>
<rect x="601" y="275" width="4" height="1"/>
<rect x="578" y="293" width="2" height="1"/>
<rect x="601" y="293" width="2" height="1"/>
<rect x="578" y="288" width="2" height="1"/>
<rect x="601" y="288" width="2" height="1"/>
<rect x="578" y="285" width="2" height="1"/>
<rect x="601" y="285" width="2" height="1"/>
<rect x="578" y="282" width="2" height="1"/>
<rect x="601" y="282" width="2" height="1"/>
<rect x="578" y="280" width="2" height="1"/>
<rect x="601" y="280" width="2" height="1"/>
<rect x="578" y="279" width="2" height="1"/>
<rect x="601" y="279" width="2" height="1"/>
<rect x="578" y="277" width="2" height="1"/>
<rect x="601" y="277" width="2" height="1"/>
<rect x="578" y="276" width="2" height="1"/>
<rect x="601" y="276" width="2" height="1"/>
<rect x="576" y="300" width="4" height="1"/>
<rect x="601" y="300" width="4" height="1"/>
<rect x="578" y="318" width="2" height="1"/>
<rect x="601" y="318" width="2" height="1"/>
<rect x="578" y="314" width="2" height="1"/>
<rect x="601" y="314" width="2" height="1"/>
<rect x="578" y="311" width="2" height="1"/>
<rect x="601" y="311" width="2" height="1"/>
<rect x="578" y="308" width="2" height="1"/>
<rect x="601" y="308" width="2" height="1"/>
<rect x="578" y="306" width="2" height="1"/>
<rect x="601" y="306" width="2" height="1"/>
<rect x="578" y="304" width="2" height="1"/>
<rect x="601" y="304" width="2" height="1"/>
<rect x="578" y="303" width="2" height="1"/>
<rect x="601" y="303" width="2" height="1"/>
<rect x="578" y="302" width="2" height="1"/>
<rect x="601" y="302" width="2" height="1"/>
<rect x="576" y="326" width="4" height="1"/>
<rect x="601" y="326" width="4" height="1"/>
<text x="551.78" y="258.40" font-size="12.5" text-anchor="end" textLength="16.06" lengthAdjust="spacingAndGlyphs">10</text>
<text x="571.71" y="251.80" font-size="12.5" text-anchor="end" textLength="8.02" lengthAdjust="spacingAndGlyphs">6</text>
<text x="564.47" y="251.80" font-size="12.5" text-anchor="end" textLength="12.54" lengthAdjust="spacingAndGlyphs">−</text>
<text x="551.78" y="279.90" font-size="12.5" text-anchor="end" textLength="16.06" lengthAdjust="spacingAndGlyphs">10</text>
<text x="571.71" y="273.80" font-size="12.5" text-anchor="end" textLength="8.02" lengthAdjust="spacingAndGlyphs">7</text>
<text x="564.47" y="273.80" font-size="12.5" text-anchor="end" textLength="12.54" lengthAdjust="spacingAndGlyphs">−</text>
<text x="551.78" y="306.60" font-size="12.5" text-anchor="end" textLength="16.06" lengthAdjust="spacingAndGlyphs">10</text>
<text x="571.71" y="299.20" font-size="12.5" text-anchor="end" textLength="8.02" lengthAdjust="spacingAndGlyphs">8</text>
<text x="564.47" y="299.20" font-size="12.5" text-anchor="end" textLength="12.54" lengthAdjust="spacingAndGlyphs">−</text>
<text x="551.78" y="326.70" font-size="12.5" text-anchor="end" textLength="16.06" lengthAdjust="spacingAndGlyphs">10</text>
<text x="571.71" y="320.70" font-size="12.5" text-anchor="end" textLength="8.02" lengthAdjust="spacingAndGlyphs">9</text>
<text x="564.47" y="320.70" font-size="12.5" text-anchor="end" textLength="12.54" lengthAdjust="spacingAndGlyphs">−</text>
<rect x="581" y="365" width="19" height="76" fill="url(#cb)"/>
<rect x="580" y="364" width="1" height="78"/>
<rect x="600" y="364" width="1" height="78"/>
<rect x="576" y="364" width="4" height="1"/>
<rect x="601" y="364" width="4" height="1"/>
<rect x="578" y="375" width="2" height="1"/>
<rect x="601" y="375" width="2" height="1"/>
<rect x="578" y="372" width="2" height="1"/>
<rect x="601" y="372" width="2" height="1"/>
<rect x="578" y="370" width="2" height="1"/>
<rect x="601" y="370" width="2" height="1"/>
<rect x="578" y="369" width="2" height="1"/>
<rect x="601" y="369" width="2" height="1"/>
<rect x="578" y="367" width="2" height="1"/>
<rect x="601" y="367" width="2" height="1"/>
<rect x="578" y="366" width="2" height="1"/>
<rect x="601" y="366" width="2" height="1"/>
<rect x="578" y="365" width="2" height="1"/>
<rect x="601" y="365" width="2" height="1"/>
<rect x="578" y="365" width="2" height="1"/>
<rect x="601" y="365" width="2" height="1"/>
<rect x="576" y="379" width="4" height="1"/>
<rect x="601" y="379" width="4" height="1"/>
<rect x="578" y="390" width="2" height="1"/>
<rect x="601" y="390" width="2" height="1"/>
<rect x="578" y="387" width="2" height="1"/>
<rect x="601" y="387" width="2" height="1"/>
<rect x="578" y="386" width="2" height="1"/>
<rect x="601" y="386" width="2" height="1"/>
<rect x="578" y="384" width="2" height="1"/>
<rect x="601" y="384" width="2" height="1"/>
<rect x="578" y="383" width="2" height="1"/>
<rect x="601" y="383" width="2" height="1"/>
<rect x="578" y="382" width="2" height="1"/>
<rect x="601" y="382" width="2" height="1"/>
<rect x="578" y="381" width="2" height="1"/>
<rect x="601" y="381" width="2" height="1"/>
<rect x="578" y="380" width="2" height="1"/>
<rect x="601" y="380" width="2" height="1"/>
<rect x="576" y="395" width="4" height="1"/>
<rect x="601" y="395" width="4" height="1"/>
<rect x="578" y="406" width="2" height="1"/>
<rect x="601" y="406" width="2" height="1"/>
<rect x="578" y="403" width="2" height="1"/>
<rect x="601" y="403" width="2" height="1"/>
<rect x="578" y="401" width="2" height="1"/>
<rect x="601" y="401" width="2" height="1"/>
<rect x="578" y="399" width="2" height="1"/>
<rect x="601" y="399" width="2" height="1"/>
<rect x="578" y="398" width="2" height="1"/>
<rect x="601" y="398" width="2" height="1"/>
<rect x="578" y="397" width="2" height="1"/>
<rect x="601" y="397" width="2" height="1"/>
<rect x="578" y="396" width="2" height="1"/>
<rect x="601" y="396" width="2" height="1"/>
<rect x="578" y="396" width="2" height="1"/>
<rect x="601" y="396" width="2" height="1"/>
<rect x="576" y="410" width="4" height="1"/>
<rect x="601" y="410" width="4" height="1"/>
<rect x="578" y="421" width="2" height="1"/>
<rect x="601" y="421" width="2" height="1"/>
<rect x="578" y="418" width="2" height="1"/>
<rect x="601" y="418" width="2" height="1"/>
<rect x="578" y="416" width="2" height="1"/>
<rect x="601" y="416" width="2" height="1"/>
<rect x="578" y="415" width="2" height="1"/>
<rect x="601" y="415" width="2" height="1"/>
<rect x="578" y="414" width="2" height="1"/>
<rect x="601" y="414" width="2" height="1"/>
<rect x="578" y="413" width="2" height="1"/>
<rect x="601" y="413" width="2" height="1"/>
<rect x="578" y="412" width="2" height="1"/>
<rect x="601" y="412" width="2" height="1"/>
<rect x="578" y="411" width="2" height="1"/>
<rect x="601" y="411" width="2" height="1"/>
<rect x="576" y="426" width="4" height="1"/>
<rect x="601" y="426" width="4" height="1"/>
<rect x="578" y="436" width="2" height="1"/>
<rect x="601" y="436" width="2" height="1"/>
<rect x="578" y="434" width="2" height="1"/>
<rect x="601" y="434" width="2" height="1"/>
<rect x="578" y="432" width="2" height="1"/>
<rect x="601" y="432" width="2" height="1"/>
<rect x="578" y="430" width="2" height="1"/>
<rect x="601" y="430" width="2" height="1"/>
<rect x="578" y="429" width="2" height="1"/>
<rect x="601" y="429" width="2" height="1"/>
<rect x="578" y="428" width="2" height="1"/>
<rect x="601" y="428" width="2" height="1"/>
<rect x="578" y="427" width="2" height="1"/>
<rect x="601" y="427" width="2" height="1"/>
<rect x="578" y="426" width="2" height="1"/>
<rect x="601" y="426" width="2" height="1"/>
<rect x="576" y="441" width="4" height="1"/>
<rect x="601" y="441" width="4" height="1"/>
<text x="551.78" y="373.40" font-size="12.5" text-anchor="end" textLength="16.06" lengthAdjust="spacingAndGlyphs">10</text>
<text x="568.76" y="366.70" font-size="12.5" text-anchor="end" textLength="4.01" lengthAdjust="spacingAndGlyphs">1</text>
<text x="565.17" y="366.70" font-size="12.5" text-anchor="end" textLength="12.54" lengthAdjust="spacingAndGlyphs">−</text>
<text x="551.78" y="385.40" font-size="12.5" text-anchor="end" textLength="16.06" lengthAdjust="spacingAndGlyphs">10</text>
<text x="571.71" y="378.90" font-size="12.5" text-anchor="end" textLength="8.02" lengthAdjust="spacingAndGlyphs">2</text>
<text x="564.47" y="378.90" font-size="12.5" text-anchor="end" textLength="12.54" lengthAdjust="spacingAndGlyphs">−</text>
<text x="551.78" y="400.40" font-size="12.5" text-anchor="end" textLength="16.06" lengthAdjust="spacingAndGlyphs">10</text>
<text x="571.71" y="393.40" font-size="12.5" text-anchor="end" textLength="8.02" lengthAdjust="spacingAndGlyphs">3</text>
<text x="564.47" y="393.40" font-size="12.5" text-anchor="end" textLength="12.54" lengthAdjust="spacingAndGlyphs">−</text>
<text x="551.78" y="416.00" font-size="12.5" text-anchor="end" textLength="16.06" lengthAdjust="spacingAndGlyphs">10</text>
<text x="571.71" y="409.30" font-size="12.5" text-anchor="end" textLength="8.02" lengthAdjust="spacingAndGlyphs">4</text>
<text x="564.47" y="409.30" font-size="12.5" text-anchor="end" textLength="12.54" lengthAdjust="spacingAndGlyphs">−</text>
<text x="551.78" y="431.50" font-size="12.5" text-anchor="end" textLength="16.06" lengthAdjust="spacingAndGlyphs">10</text>
<text x="571.71" y="424.20" font-size="12.5" text-anchor="end" textLength="8.02" lengthAdjust="spacingAndGlyphs">5</text>
<text x="564.47" y="424.20" font-size="12.5" text-anchor="end" textLength="12.54" lengthAdjust="spacingAndGlyphs">−</text>
<text x="551.78" y="441.40" font-size="12.5" text-anchor="end" textLength="16.06" lengthAdjust="spacingAndGlyphs">10</text>
<text x="571.71" y="435.00" font-size="12.5" text-anchor="end" textLength="8.02" lengthAdjust="spacingAndGlyphs">6</text>
<text x="564.47" y="435.00" font-size="12.5" text-anchor="end" textLength="12.54" lengthAdjust="spacingAndGlyphs">−</text>
<rect x="581" y="461" width="19" height="76" fill="url(#cb)"/>
<rect x="580" y="460" width="1" height="78"/>
<rect x="600" y="460" width="1" height="78"/>
<rect x="576" y="460" width="4" height="1"/>
<rect x="601" y="460" width="4" height="1"/>
<rect x="578" y="471" width="2" height="1"/>
<rect x="601" y="471" width="2" height="1"/>
<rect x="578" y="468" width="2" height="1"/>
<rect x="601" y="468" width="2" height="1"/>
<rect x="578" y="466" width="2" height="1"/>
<rect x="601" y="466" width="2" height="1"/>
<rect x="578" y="465" width="2" height="1"/>
<rect x="601" y="465" width="2" height="1"/>
<rect x="578" y="463" width="2" height="1"/>
<rect x="601" y="463" width="2" height="1"/>
<rect x="578" y="462" width="2" height="1"/>
<rect x="601" y="462" width="2" height="1"/>
<rect x="578" y="461" width="2" height="1"/>
<rect x="601" y="461" width="2" height="1"/>
<rect x="578" y="461" width="2" height="1"/>
<rect x="601" y="461" width="2" height="1"/>
<rect x="576" y="475" width="4" height="1"/>
<rect x="601" y="475" width="4" height="1"/>
<rect x="578" y="486" width="2" height="1"/>
<rect x="601" y="486" width="2" height="1"/>
<rect x="578" y="483" width="2" height="1"/>
<rect x="601" y="483" width="2" height="1"/>
<rect x="578" y="482" width="2" height="1"/>
<rect x="601" y="482" width="2" height="1"/>
<rect x="578" y="480" width="2" height="1"/>
<rect x="601" y="480" width="2" height="1"/>
<rect x="578" y="479" width="2" height="1"/>
<rect x="601" y="479" width="2" height="1"/>
<rect x="578" y="478" width="2" height="1"/>
<rect x="601" y="478" width="2" height="1"/>
<rect x="578" y="477" width="2" height="1"/>
<rect x="601" y="477" width="2" height="1"/>
<rect x="578" y="476" width="2" height="1"/>
<rect x="601" y="476" width="2" height="1"/>
<rect x="576" y="491" width="4" height="1"/>
<rect x="601" y="491" width="4" height="1"/>
<rect x="578" y="502" width="2" height="1"/>
<rect x="601" y="502" width="2" height="1"/>
<rect x="578" y="499" width="2" height="1"/>
<rect x="601" y="499" width="2" height="1"/>
<rect x="578" y="497" width="2" height="1"/>
<rect x="601" y="497" width="2" height="1"/>
<rect x="578" y="495" width="2" height="1"/>
<rect x="601" y="495" width="2" height="1"/>
<rect x="578" y="494" width="2" height="1"/>
<rect x="601" y="494" width="2" height="1"/>
<rect x="578" y="493" width="2" height="1"/>
<rect x="601" y="493" width="2" height="1"/>
<rect x="578" y="492" width="2" height="1"/>
<rect x="601" y="492" width="2" height="1"/>
<rect x="578" y="492" width="2" height="1"/>
<rect x="601" y="492" width="2" height="1"/>
<rect x="576" y="506" width="4" height="1"/>
<rect x="601" y="506" width="4" height="1"/>
<rect x="578" y="517" width="2" height="1"/>
<rect x="601" y="517" width="2" height="1"/>
<rect x="578" y="514" width="2" height="1"/>
<rect x="601" y="514" width="2" height="1"/>
<rect x="578" y="512" width="2" height="1"/>
<rect x="601" y="512" width="2" height="1"/>
<rect x="578" y="511" width="2" height="1"/>
<rect x="601" y="511" width="2" height="1"/>
<rect x="578" y="510" width="2" height="1"/>
<rect x="601" y="510" width="2" height="1"/>
<rect x="578" y="509" width="2" height="1"/>
<rect x="601" y="509" width="2" height="1"/>
<rect x="578" y="508" width="2" height="1"/>
<rect x="601" y="508" width="2" height="1"/>
<rect x="578" y="507" width="2" height="1"/>
<rect x="601" y="507" width="2" height="1"/>
<rect x="576" y="522" width="4" height="1"/>
<rect x="601" y="522" width="4" height="1"/>
<rect x="578" y="532" width="2" height="1"/>
<rect x="601" y="532" width="2" height="1"/>
<rect x="578" y="530" width="2" height="1"/>
<rect x="601" y="530" width="2" height="1"/>
<rect x="578" y="528" width="2" height="1"/>
<rect x="601" y="528" width="2" height="1"/>
<rect x="578" y="526" width="2" height="1"/>
<rect x="601" y="526" width="2" height="1"/>
<rect x="578" y="525" width="2" height="1"/>
<rect x="601" y="525" width="2" height="1"/>
<rect x="578" y="524" width="2" height="1"/>
<rect x="601" y="524" width="2" height="1"/>
<rect x="578" y="523" width="2" height="1"/>
<rect x="601" y="523" width="2" height="1"/>
<rect x="578" y="522" width="2" height="1"/>
<rect x="601" y="522" width="2" height="1"/>
<rect x="576" y="537" width="4" height="1"/>
<rect x="601" y="537" width="4" height="1"/>
<text x="551.78" y="469.40" font-size="12.5" text-anchor="end" textLength="16.06" lengthAdjust="spacingAndGlyphs">10</text>
<text x="568.76" y="462.70" font-size="12.5" text-anchor="end" textLength="4.01" lengthAdjust="spacingAndGlyphs">1</text>
<text x="565.17" y="462.70" font-size="12.5" text-anchor="end" textLength="12.54" lengthAdjust="spacingAndGlyphs">−</text>
<text x="551.78" y="481.40" font-size="12.5" text-anchor="end" textLength="16.06" lengthAdjust="spacingAndGlyphs">10</text>
<text x="571.71" y="474.90" font-size="12.5" text-anchor="end" textLength="8.02" lengthAdjust="spacingAndGlyphs">2</text>
<text x="564.47" y="474.90" font-size="12.5" text-anchor="end" textLength="12.54" lengthAdjust="spacingAndGlyphs">−</text>
<text x="551.78" y="496.40" font-size="12.5" text-anchor="end" textLength="16.06" lengthAdjust="spacingAndGlyphs">10</text>
<text x="571.71" y="489.40" font-size="12.5" text-anchor="end" textLength="8.02" lengthAdjust="spacingAndGlyphs">3</text>
<text x="564.47" y="489.40" font-size="12.5" text-anchor="end" textLength="12.54" lengthAdjust="spacingAndGlyphs">−</text>
<text x="551.78" y="512.00" font-size="12.5" text-anchor="end" textLength="16.06" lengthAdjust="spacingAndGlyphs">10</text>
<text x="571.71" y="505.30" font-size="12.5" text-anchor="end" textLength="8.02" lengthAdjust="spacingAndGlyphs">4</text>
<text x="564.47" y="505.30" font-size="12.5" text-anchor="end" textLength="12.54" lengthAdjust="spacingAndGlyphs">−</text>
<text x="551.78" y="527.50" font-size="12.5" text-anchor="end" textLength="16.06" lengthAdjust="spacingAndGlyphs">10</text>
<text x="571.71" y="520.20" font-size="12.5" text-anchor="end" textLength="8.02" lengthAdjust="spacingAndGlyphs">5</text>
<text x="564.47" y="520.20" font-size="12.5" text-anchor="end" textLength="12.54" lengthAdjust="spacingAndGlyphs">−</text>
<text x="551.78" y="537.40" font-size="12.5" text-anchor="end" textLength="16.06" lengthAdjust="spacingAndGlyphs">10</text>
<text x="571.71" y="531.00" font-size="12.5" text-anchor="end" textLength="8.02" lengthAdjust="spacingAndGlyphs">6</text>
<text x="564.47" y="531.00" font-size="12.5" text-anchor="end" textLength="12.54" lengthAdjust="spacingAndGlyphs">−</text>
<rect x="581" y="557" width="19" height="76" fill="url(#cb)"/>
<rect x="580" y="556" width="1" height="78"/>
<rect x="600" y="556" width="1" height="78"/>
<rect x="576" y="556" width="4" height="1"/>
<rect x="601" y="556" width="4" height="1"/>
<rect x="578" y="567" width="2" height="1"/>
<rect x="601" y="567" width="2" height="1"/>
<rect x="578" y="564" width="2" height="1"/>
<rect x="601" y="564" width="2" height="1"/>
<rect x="578" y="562" width="2" height="1"/>
<rect x="601" y="562" width="2" height="1"/>
<rect x="578" y="561" width="2" height="1"/>
<rect x="601" y="561" width="2" height="1"/>
<rect x="578" y="559" width="2" height="1"/>
<rect x="601" y="559" width="2" height="1"/>
<rect x="578" y="558" width="2" height="1"/>
<rect x="601" y="558" width="2" height="1"/>
<rect x="578" y="557" width="2" height="1"/>
<rect x="601" y="557" width="2" height="1"/>
<rect x="578" y="557" width="2" height="1"/>
<rect x="601" y="557" width="2" height="1"/>
<rect x="576" y="571" width="4" height="1"/>
<rect x="601" y="571" width="4" height="1"/>
<rect x="578" y="582" width="2" height="1"/>
<rect x="601" y="582" width="2" height="1"/>
<rect x="578" y="579" width="2" height="1"/>
<rect x="601" y="579" width="2" height="1"/>
<rect x="578" y="578" width="2" height="1"/>
<rect x="601" y="578" width="2" height="1"/>
<rect x="578" y="576" width="2" height="1"/>
<rect x="601" y="576" width="2" height="1"/>
<rect x="578" y="575" width="2" height="1"/>
<rect x="601" y="575" width="2" height="1"/>
<rect x="578" y="574" width="2" height="1"/>
<rect x="601" y="574" width="2" height="1"/>
<rect x="578" y="573" width="2" height="1"/>
<rect x="601" y="573" width="2" height="1"/>
<rect x="578" y="572" width="2" height="1"/>
<rect x="601" y="572" width="2" height="1"/>
<rect x="576" y="587" width="4" height="1"/>
<rect x="601" y="587" width="4" height="1"/>
<rect x="578" y="598" width="2" height="1"/>
<rect x="601" y="598" width="2" height="1"/>
<rect x="578" y="595" width="2" height="1"/>
<rect x="601" y="595" width="2" height="1"/>
<rect x="578" y="593" width="2" height="1"/>
<rect x="601" y="593" width="2" height="1"/>
<rect x="578" y="591" width="2" height="1"/>
<rect x="601" y="591" width="2" height="1"/>
<rect x="578" y="590" width="2" height="1"/>
<rect x="601" y="590" width="2" height="1"/>
<rect x="578" y="589" width="2" height="1"/>
<rect x="601" y="589" width="2" height="1"/>
<rect x="578" y="588" width="2" height="1"/>
<rect x="601" y="588" width="2" height="1"/>
<rect x="578" y="588" width="2" height="1"/>
<rect x="601" y="588" width="2" height="1"/>
<rect x="576" y="602" width="4" height="1"/>
<rect x="601" y="602" width="4" height="1"/>
<rect x="578" y="613" width="2" height="1"/>
<rect x="601" y="613" width="2" height="1"/>
<rect x="578" y="610" width="2" height="1"/>
<rect x="601" y="610" width="2" height="1"/>
<rect x="578" y="608" width="2" height="1"/>
<rect x="601" y="608" width="2" height="1"/>
<rect x="578" y="607" width="2" height="1"/>
<rect x="601" y="607" width="2" height="1"/>
<rect x="578" y="606" width="2" height="1"/>
<rect x="601" y="606" width="2" height="1"/>
<rect x="578" y="605" width="2" height="1"/>
<rect x="601" y="605" width="2" height="1"/>
<rect x="578" y="604" width="2" height="1"/>
<rect x="601" y="604" width="2" height="1"/>
<rect x="578" y="603" width="2" height="1"/>
<rect x="601" y="603" width="2" height="1"/>
<rect x="576" y="618" width="4" height="1"/>
<rect x="601" y="618" width="4" height="1"/>
<rect x="578" y="628" width="2" height="1"/>
<rect x="601" y="628" width="2" height="1"/>
<rect x="578" y="626" width="2" height="1"/>
<rect x="601" y="626" width="2" height="1"/>
<rect x="578" y="624" width="2" height="1"/>
<rect x="601" y="624" width="2" height="1"/>
<rect x="578" y="622" width="2" height="1"/>
<rect x="601" y="622" width="2" height="1"/>
<rect x="578" y="621" width="2" height="1"/>
<rect x="601" y="621" width="2" height="1"/>
<rect x="578" y="620" width="2" height="1"/>
<rect x="601" y="620" width="2" height="1"/>
<rect x="578" y="619" width="2" height="1"/>
<rect x="601" y="619" width="2" height="1"/>
<rect x="578" y="618" width="2" height="1"/>
<rect x="601" y="618" width="2" height="1"/>
<rect x="576" y="633" width="4" height="1"/>
<rect x="601" y="633" width="4" height="1"/>
<text x="551.78" y="565.40" font-size="12.5" text-anchor="end" textLength="16.06" lengthAdjust="spacingAndGlyphs">10</text>
<text x="568.76" y="558.70" font-size="12.5" text-anchor="end" textLength="4.01" lengthAdjust="spacingAndGlyphs">1</text>
<text x="565.17" y="558.70" font-size="12.5" text-anchor="end" textLength="12.54" lengthAdjust="spacingAndGlyphs">−</text>
<text x="551.78" y="577.40" font-size="12.5" text-anchor="end" textLength="16.06" lengthAdjust="spacingAndGlyphs">10</text>
<text x="571.71" y="570.90" font-size="12.5" text-anchor="end" textLength="8.02" lengthAdjust="spacingAndGlyphs">2</text>
<text x="564.47" y="570.90" font-size="12.5" text-anchor="end" textLength="12.54" lengthAdjust="spacingAndGlyphs">−</text>
<text x="551.78" y="592.40" font-size="12.5" text-anchor="end" textLength="16.06" lengthAdjust="spacingAndGlyphs">10</text>
<text x="571.71" y="585.40" font-size="12.5" text-anchor="end" textLength="8.02" lengthAdjust="spacingAndGlyphs">3</text>
<text x="564.47" y="585.40" font-size="12.5" text-anchor="end" textLength="12.54" lengthAdjust="spacingAndGlyphs">−</text>
<text x="551.78" y="608.00" font-size="12.5" text-anchor="end" textLength="16.06" lengthAdjust="spacingAndGlyphs">10</text>
<text x="571.71" y="601.30" font-size="12.5" text-anchor="end" textLength="8.02" lengthAdjust="spacingAndGlyphs">4</text>
<text x="564.47" y="601.30" font-size="12.5" text-anchor="end" textLength="12.54" lengthAdjust="spacingAndGlyphs">−</text>
<text x="551.78" y="623.50" font-size="12.5" text-anchor="end" textLength="16.06" lengthAdjust="spacingAndGlyphs">10</text>
<text x="571.71" y="616.20" font-size="12.5" text-anchor="end" textLength="8.02" lengthAdjust="spacingAndGlyphs">5</text>
<text x="564.47" y="616.20" font-size="12.5" text-anchor="end" textLength="12.54" lengthAdjust="spacingAndGlyphs">−</text>
<text x="551.78" y="633.40" font-size="12.5" text-anchor="end" textLength="16.06" lengthAdjust="spacingAndGlyphs">10</text>
<text x="571.71" y="627.00" font-size="12.5" text-anchor="end" textLength="8.02" lengthAdjust="spacingAndGlyphs">6</text>
<text x="564.47" y="627.00" font-size="12.5" text-anchor="end" textLength="12.54" lengthAdjust="spacingAndGlyphs">−</text>
</svg>
</div></body></html>
